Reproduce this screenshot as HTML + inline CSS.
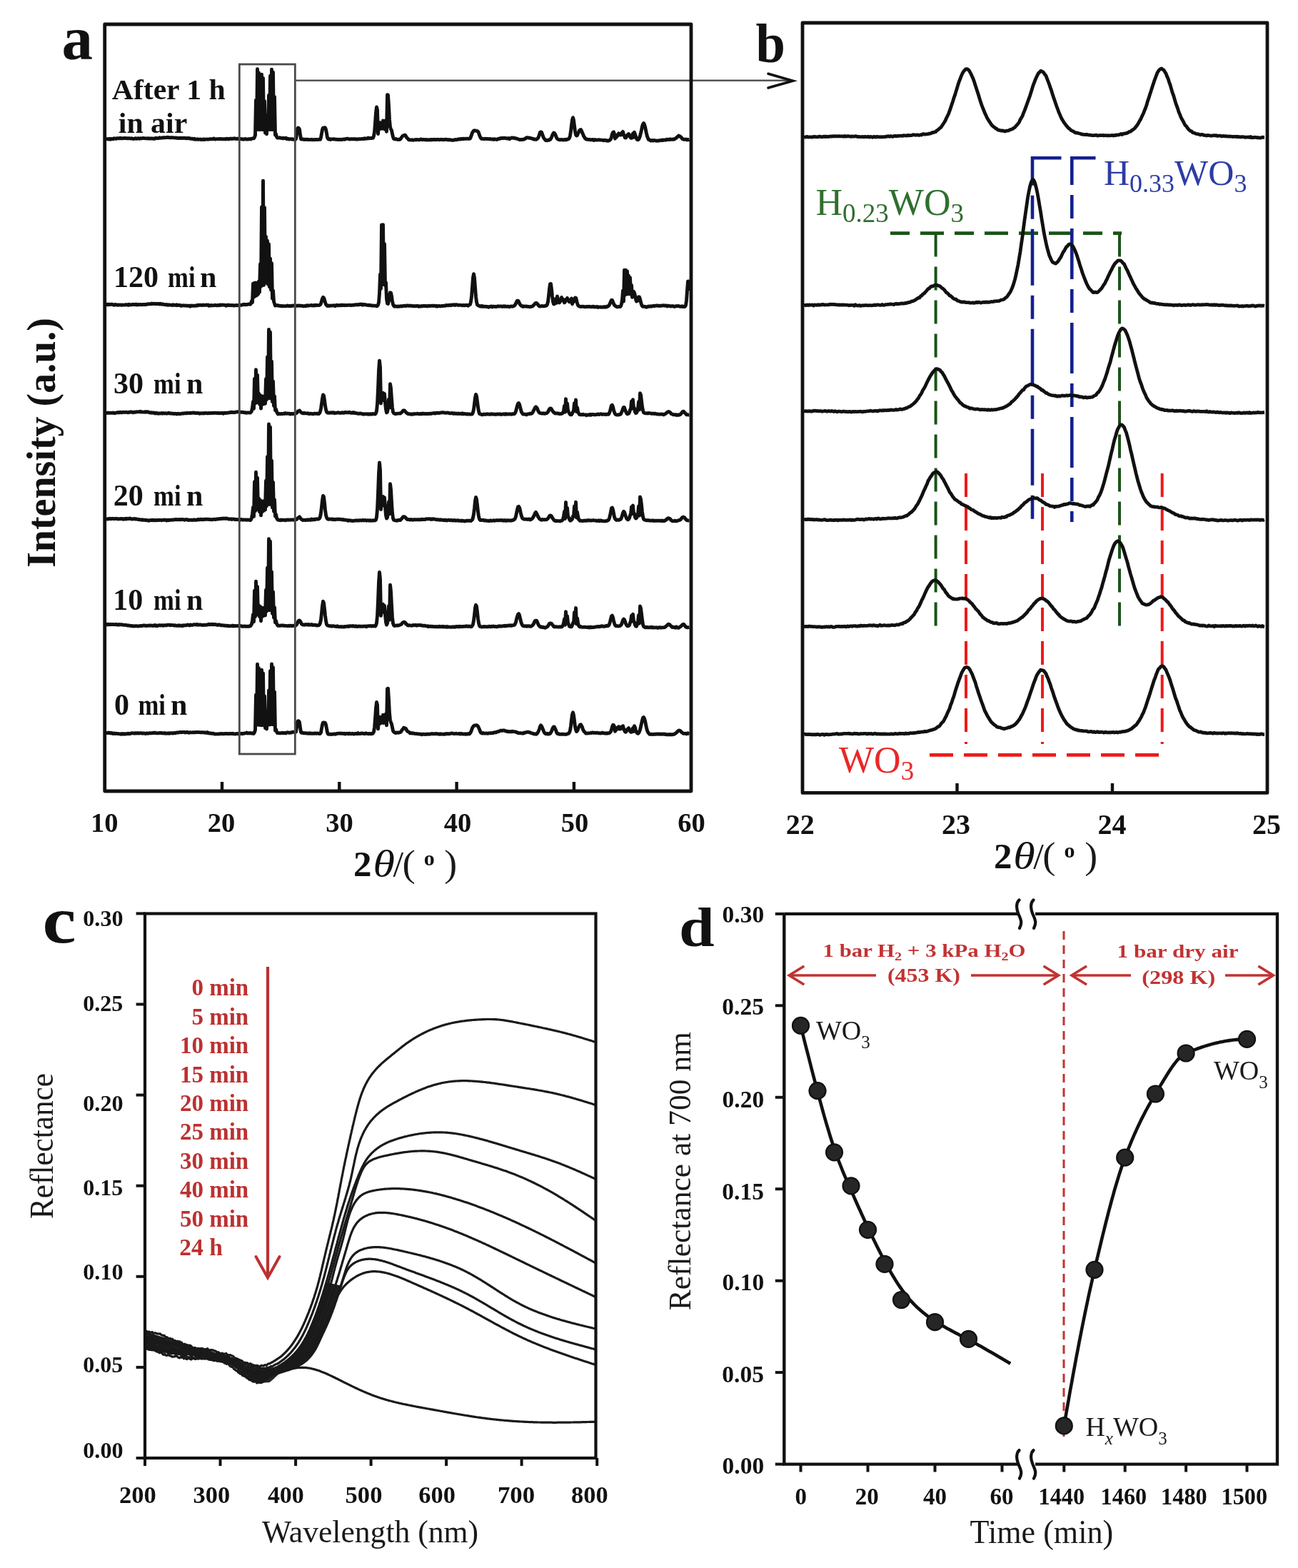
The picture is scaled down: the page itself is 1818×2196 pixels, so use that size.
<!DOCTYPE html>
<html><head><meta charset="utf-8"><title>Figure</title>
<style>
html,body{margin:0;padding:0;background:#fff;}
svg{display:block;}
.bs{font-family:"Liberation Serif","Times New Roman",serif;font-weight:bold;fill:#111;}
.rs{font-family:"Liberation Serif","Times New Roman",serif;font-weight:normal;fill:#1a1a1a;}
.is{font-family:"Liberation Serif","Times New Roman",serif;font-style:italic;fill:#111;}
.bis{font-family:"Liberation Serif","Times New Roman",serif;font-weight:bold;font-style:italic;fill:#111;}
</style></head><body>
<svg xmlns="http://www.w3.org/2000/svg" width="1818" height="2196" viewBox="0 0 1818 2196">
<rect width="1818" height="2196" fill="#fff"/>
<g fill="none" stroke="#111" stroke-width="4.9" stroke-linejoin="round">
<path d="M148.5 195.2 L149.5 194.7 L150.5 194.7 L151.5 194.6 L152.5 195 L153.5 194.2 L154.5 195.2 L155.5 194.5 L156.5 194.7 L157.5 194.4 L158.5 194.8 L159.5 193.8 L160.5 194.1 L161.5 194 L162.5 194.3 L163.5 193.7 L164.5 193.8 L165.5 193.6 L166.5 193.7 L167.5 193.8 L168.5 193.3 L169.5 193.9 L170.5 193.8 L171.5 193.7 L172.5 193.8 L173.5 193.4 L174.5 193.6 L175.5 193.5 L176.5 193.7 L177.5 193.9 L178.5 193.7 L179.5 193.8 L180.5 193.8 L181.5 193.8 L182.5 193.9 L183.5 194.1 L184.5 193.8 L185.5 194.2 L186.5 194.5 L187.5 194.3 L188.5 194 L189.5 193.8 L190.5 193.8 L191.5 194.4 L192.5 193.9 L193.5 193.7 L194.5 193.9 L195.5 194.3 L196.5 193.8 L197.5 193.9 L198.5 193.8 L199.5 193.6 L200.5 193.4 L201.5 193.6 L202.5 193.6 L203.5 193.8 L204.5 193.9 L205.5 193.9 L206.5 193.8 L207.5 194 L208.5 193.6 L209.5 194.1 L210.5 194 L211.5 193.8 L212.5 194 L213.5 193.9 L214.5 194.2 L215.5 194.3 L216.5 194.4 L217.5 193.4 L218.5 193.4 L219.5 193.5 L220.5 193.6 L221.5 193.7 L222.5 193.5 L223.5 192.8 L224.5 193.1 L225.5 193.3 L226.5 193 L227.5 193.1 L228.5 192.7 L229.5 192.7 L230.5 192.7 L231.5 192.7 L232.5 192.6 L233.5 192.5 L234.5 192.3 L235.5 192.6 L236.5 192.5 L237.5 192.8 L238.5 192.9 L239.5 192.7 L240.5 192.6 L241.5 192.6 L242.5 192.9 L243.5 192.9 L244.5 192.9 L245.5 193.1 L246.5 193 L247.5 193.4 L248.5 193.1 L249.5 193.6 L250.5 193.4 L251.5 193.5 L252.5 193.1 L253.5 193.5 L254.5 193.6 L255.5 193.2 L256.5 193.4 L257.5 193.5 L258.5 193.2 L259.5 193.6 L260.5 193.8 L261.5 193.4 L262.5 193.8 L263.5 193.4 L264.5 193.8 L265.5 193.5 L266.5 194.2 L267.5 194.2 L268.5 194.2 L269.5 194.1 L270.5 194.7 L271.5 195 L272.5 194.2 L273.5 195.1 L274.5 195.3 L275.5 195.1 L276.5 194.8 L277.5 195.4 L278.5 195.2 L279.5 195.1 L280.5 195 L281.5 195.5 L282.5 195.6 L283.5 195.2 L284.5 195.5 L285.5 195 L286.5 195.5 L287.5 195.2 L288.5 195.1 L289.5 195 L290.5 195.2 L291.5 195.1 L292.5 195 L293.5 194.8 L294.5 194.7 L295.5 194.8 L296.5 194.7 L297.5 194.8 L298.5 194.5 L299.5 193.9 L300.5 194.8 L301.5 195.1 L302.5 194.7 L303.5 194.6 L304.5 194.6 L305.5 194.6 L306.5 194.7 L307.5 194.4 L308.5 194.6 L309.5 194.5 L310.5 194.8 L311.5 194.6 L312.5 194.8 L313.5 194.6 L314.5 194.9 L315.5 194.7 L316.5 195.1 L317.5 194.1 L318.5 194.3 L319.5 194.7 L320.5 195 L321.5 194.3 L322.5 194.3 L323.5 194.2 L324.5 194.5 L325.5 194.1 L326.5 194.3 L327.5 194 L328.5 193.8 L329.5 194.2 L330.5 194.3 L331.5 194.5 L332.5 194.2 L333.5 194.1 L334.5 194.5 L335.5 194.5 L336.5 194.5 L337.5 194.5 L338.5 194.9 L339.5 194.8 L340.5 195.2 L341.5 195 L342.5 195 L343.5 194.4 L344.5 195 L345.5 194.9 L346.5 195 L347.5 195 L348.5 194.6 L349.5 194.8 L350.5 194.4 L351.5 195 L352.5 194.1 L353.5 193.9 L354.5 193.8 L355.5 193.9 L356.5 192.1 L357.5 189.4 L358.5 140.1 L359.5 181.4 L360.5 96.7 L361.5 181.5 L362.5 102 L363.5 181.8 L364.5 105 L365.5 181.4 L366.5 104.3 L367.5 181.6 L368.5 109.4 L369.5 181.7 L370.5 141.4 L371.5 186.2 L372.5 161.3 L373.5 187.7 L374.5 164.1 L375.5 181.5 L376.5 133.4 L377.5 181.5 L378.5 106.3 L379.5 181.5 L380.5 97.1 L381.5 181.8 L382.5 101.3 L383.5 181 L384.5 135.5 L385.5 189.1 L386.5 187.8 L387.5 191.7 L388.5 193 L389.5 193.1 L390.5 193.1 L391.5 192.8 L392.5 193 L393.5 193.4 L394.5 193.5 L395.5 193.3 L396.5 193.9 L397.5 193.3 L398.5 193.6 L399.5 193.8 L400.5 193.3 L401.5 194.6 L402.5 194.4 L403.5 194.1 L404.5 195 L405.5 194.8 L406.5 194.9 L407.5 194.7 L408.5 195 L409.5 194.7 L410.5 195.3 L411.5 195.1 L412.5 195.2 L413.5 195.5 L414.5 194.7 L415.5 188.4 L416.5 181 L417.5 179.1 L418.5 179.5 L419.5 181.3 L420.5 188.5 L421.5 194.8 L422.5 195 L423.5 195 L424.5 194.9 L425.5 195.5 L426.5 195.2 L427.5 195.6 L428.5 195.1 L429.5 195.2 L430.5 195.4 L431.5 195.7 L432.5 195.5 L433.5 195.6 L434.5 195.6 L435.5 195.6 L436.5 195.3 L437.5 195.7 L438.5 195.6 L439.5 195.6 L440.5 195.8 L441.5 195.4 L442.5 195.5 L443.5 195.4 L444.5 195.6 L445.5 195.6 L446.5 195.1 L447.5 195.4 L448.5 195.4 L449.5 192.4 L450.5 186.9 L451.5 181.4 L452.5 179.1 L453.5 179.2 L454.5 178.7 L455.5 178.9 L456.5 181.5 L457.5 186.6 L458.5 192.6 L459.5 194.5 L460.5 195 L461.5 194.5 L462.5 195.5 L463.5 195 L464.5 195 L465.5 194.9 L466.5 194.8 L467.5 194.8 L468.5 195.1 L469.5 195 L470.5 195.3 L471.5 195.1 L472.5 195.5 L473.5 195.6 L474.5 195.2 L475.5 195.6 L476.5 195.3 L477.5 195.6 L478.5 195.4 L479.5 195.5 L480.5 194.9 L481.5 195.1 L482.5 195.4 L483.5 194.8 L484.5 194.4 L485.5 194.4 L486.5 194.2 L487.5 194.3 L488.5 194.7 L489.5 195.1 L490.5 194.6 L491.5 194.8 L492.5 194.7 L493.5 194.8 L494.5 194.7 L495.5 194.7 L496.5 194.9 L497.5 194.5 L498.5 195.1 L499.5 195.1 L500.5 194.8 L501.5 195 L502.5 194.6 L503.5 194.6 L504.5 194.8 L505.5 194.6 L506.5 194.5 L507.5 194.4 L508.5 194.3 L509.5 194.6 L510.5 193.8 L511.5 194.3 L512.5 194 L513.5 194.1 L514.5 194 L515.5 193.1 L516.5 193.8 L517.5 193.7 L518.5 193.5 L519.5 193.3 L520.5 193.6 L521.5 193.2 L522.5 193.2 L523.5 190.7 L524.5 184.9 L525.5 172.4 L526.5 157.8 L527.5 150 L528.5 153.8 L529.5 187.5 L530.5 174.8 L531.5 181 L532.5 171.8 L533.5 180.1 L534.5 174.5 L535.5 180.2 L536.5 168.9 L537.5 180.3 L538.5 176.1 L539.5 181.2 L540.5 168.4 L541.5 184.3 L542.5 132.7 L543.5 133.1 L544.5 148.2 L545.5 167.5 L546.5 177.8 L547.5 181.1 L548.5 182.5 L549.5 187.4 L550.5 191.9 L551.5 194.4 L552.5 194.7 L553.5 195 L554.5 194.5 L555.5 195 L556.5 195.3 L557.5 195.6 L558.5 195.2 L559.5 195.6 L560.5 195.1 L561.5 193.9 L562.5 192.3 L563.5 191.1 L564.5 190.1 L565.5 189.7 L566.5 189.3 L567.5 189.2 L568.5 190.7 L569.5 192.6 L570.5 193.4 L571.5 194.4 L572.5 195.9 L573.5 195.8 L574.5 195.8 L575.5 196.1 L576.5 196 L577.5 195.8 L578.5 196.2 L579.5 196.1 L580.5 195.9 L581.5 195.6 L582.5 195.9 L583.5 195.5 L584.5 195.6 L585.5 195.7 L586.5 195.6 L587.5 195.8 L588.5 195.5 L589.5 195 L590.5 195.1 L591.5 195.8 L592.5 195.4 L593.5 195.6 L594.5 195.4 L595.5 195.9 L596.5 195.5 L597.5 196 L598.5 195.6 L599.5 196 L600.5 195.9 L601.5 195.6 L602.5 196 L603.5 195.5 L604.5 195.5 L605.5 195.9 L606.5 195.5 L607.5 195.5 L608.5 195.5 L609.5 195.3 L610.5 195.7 L611.5 195.6 L612.5 195.4 L613.5 195.3 L614.5 195.5 L615.5 195.8 L616.5 195.6 L617.5 195.2 L618.5 195.6 L619.5 195.4 L620.5 195.4 L621.5 195.9 L622.5 195.4 L623.5 195.5 L624.5 195.2 L625.5 195.4 L626.5 195.9 L627.5 195.6 L628.5 196 L629.5 195.6 L630.5 195.7 L631.5 196.1 L632.5 196.3 L633.5 196.1 L634.5 196.2 L635.5 196.3 L636.5 196 L637.5 195.5 L638.5 195.6 L639.5 195.7 L640.5 195.3 L641.5 195.4 L642.5 194.8 L643.5 194.9 L644.5 195.1 L645.5 194.3 L646.5 194.5 L647.5 194.7 L648.5 194.2 L649.5 194.5 L650.5 194.3 L651.5 194.4 L652.5 194.3 L653.5 194.4 L654.5 194.2 L655.5 194.4 L656.5 194.2 L657.5 194.3 L658.5 193.9 L659.5 191.7 L660.5 188.9 L661.5 185.9 L662.5 184.4 L663.5 183.1 L664.5 182.8 L665.5 183.1 L666.5 183 L667.5 183.3 L668.5 183.6 L669.5 184.1 L670.5 186.1 L671.5 189.2 L672.5 191.8 L673.5 193.5 L674.5 194.4 L675.5 194.1 L676.5 194.4 L677.5 194.6 L678.5 194.7 L679.5 194.1 L680.5 194.3 L681.5 194.5 L682.5 194.4 L683.5 194.4 L684.5 194.8 L685.5 194.6 L686.5 194.4 L687.5 195 L688.5 195 L689.5 195 L690.5 194.8 L691.5 195.5 L692.5 194.8 L693.5 194.9 L694.5 195.2 L695.5 195.5 L696.5 195.3 L697.5 194.5 L698.5 194.5 L699.5 193.9 L700.5 194.3 L701.5 193.4 L702.5 193.5 L703.5 193.7 L704.5 193.2 L705.5 193.6 L706.5 193.1 L707.5 193.4 L708.5 193.7 L709.5 193.6 L710.5 194 L711.5 193.9 L712.5 193.4 L713.5 194.7 L714.5 193.8 L715.5 193.5 L716.5 193 L717.5 193.2 L718.5 193 L719.5 193.3 L720.5 193.3 L721.5 193.9 L722.5 193.7 L723.5 194.1 L724.5 194.5 L725.5 194.7 L726.5 195.1 L727.5 195.6 L728.5 195.7 L729.5 195.5 L730.5 195.3 L731.5 195.5 L732.5 195.5 L733.5 194.9 L734.5 195 L735.5 193.9 L736.5 193.8 L737.5 192.7 L738.5 192.9 L739.5 192.8 L740.5 193 L741.5 193.3 L742.5 193.1 L743.5 193.7 L744.5 193.9 L745.5 194.3 L746.5 194.3 L747.5 195.1 L748.5 194.8 L749.5 195.4 L750.5 195.2 L751.5 195.2 L752.5 194.4 L753.5 193.3 L754.5 191.3 L755.5 188.3 L756.5 185.4 L757.5 184.8 L758.5 185.2 L759.5 187.7 L760.5 190.7 L761.5 193 L762.5 194.5 L763.5 195.7 L764.5 196.6 L765.5 196.2 L766.5 196.7 L767.5 196.3 L768.5 196.4 L769.5 195.5 L770.5 195.7 L771.5 194.2 L772.5 192.4 L773.5 189.8 L774.5 187.5 L775.5 186 L776.5 186.5 L777.5 187.7 L778.5 190.2 L779.5 192.9 L780.5 194.3 L781.5 195.1 L782.5 195.5 L783.5 195.8 L784.5 195.6 L785.5 195.9 L786.5 195.5 L787.5 195.6 L788.5 196 L789.5 196 L790.5 195.4 L791.5 195.9 L792.5 195.3 L793.5 195.7 L794.5 195 L795.5 195 L796.5 194.6 L797.5 193.2 L798.5 190.2 L799.5 183.7 L800.5 175.4 L801.5 167.8 L802.5 164.7 L803.5 168.4 L804.5 176.4 L805.5 183.9 L806.5 188.7 L807.5 190.1 L808.5 189.7 L809.5 187 L810.5 185 L811.5 182.7 L812.5 181.8 L813.5 181.5 L814.5 183 L815.5 185.8 L816.5 187.8 L817.5 190.6 L818.5 192 L819.5 193.8 L820.5 194.6 L821.5 195.2 L822.5 195 L823.5 195.4 L824.5 195.5 L825.5 195.5 L826.5 195.7 L827.5 195.8 L828.5 195.8 L829.5 195.5 L830.5 195.5 L831.5 196.5 L832.5 196.3 L833.5 195.5 L834.5 196 L835.5 196.1 L836.5 196.1 L837.5 196 L838.5 195.7 L839.5 196 L840.5 195.9 L841.5 196.1 L842.5 196.1 L843.5 196.2 L844.5 196.6 L845.5 196.7 L846.5 196.2 L847.5 196.4 L848.5 196.5 L849.5 197 L850.5 196.8 L851.5 197.3 L852.5 196.8 L853.5 196.8 L854.5 195.8 L855.5 194.9 L856.5 191.6 L857.5 187.7 L858.5 185.4 L859.5 184.9 L860.5 187.8 L861.5 194.2 L862.5 192.3 L863.5 191.9 L864.5 189 L865.5 189.9 L866.5 186.8 L867.5 188.8 L868.5 188.9 L869.5 189.1 L870.5 186.4 L871.5 188.4 L872.5 184.3 L873.5 188.4 L874.5 190.6 L875.5 192.9 L876.5 193.1 L877.5 191.7 L878.5 189 L879.5 188.6 L880.5 187.5 L881.5 188.7 L882.5 191.6 L883.5 193.2 L884.5 193.4 L885.5 190.8 L886.5 187 L887.5 192.3 L888.5 185.2 L889.5 188 L890.5 191 L891.5 194 L892.5 195.6 L893.5 195.7 L894.5 195.2 L895.5 193.3 L896.5 190.5 L897.5 186.3 L898.5 182 L899.5 177 L900.5 174 L901.5 172.5 L902.5 174.3 L903.5 177.6 L904.5 182.3 L905.5 187 L906.5 190.9 L907.5 193.5 L908.5 195.6 L909.5 195.7 L910.5 196.2 L911.5 197.1 L912.5 196.9 L913.5 196.4 L914.5 197 L915.5 197 L916.5 196.4 L917.5 196.9 L918.5 197 L919.5 197.2 L920.5 197.2 L921.5 197 L922.5 197.2 L923.5 196.8 L924.5 196.5 L925.5 196.4 L926.5 196.7 L927.5 196 L928.5 196.5 L929.5 196 L930.5 196 L931.5 196.1 L932.5 196.2 L933.5 195.3 L934.5 195.4 L935.5 195.6 L936.5 195.3 L937.5 195.6 L938.5 194.8 L939.5 195.4 L940.5 195.3 L941.5 195.2 L942.5 195.4 L943.5 194.7 L944.5 195 L945.5 194.2 L946.5 193.8 L947.5 192.7 L948.5 192 L949.5 191.2 L950.5 190.1 L951.5 190.5 L952.5 191 L953.5 191.9 L954.5 192.7 L955.5 194.3 L956.5 194.6 L957.5 195.4 L958.5 195.1 L959.5 195.1 L960.5 195.4 L961.5 195.2 L962.5 196 L963.5 195.4 L964.5 195.7 L965.5 195.3"/>
<path d="M148.5 426.6 L149.5 426.6 L150.5 426 L151.5 426.9 L152.5 426.1 L153.5 426.3 L154.5 426.6 L155.5 426.2 L156.5 426.3 L157.5 426.3 L158.5 426.7 L159.5 427.2 L160.5 426.7 L161.5 426.5 L162.5 427 L163.5 426.8 L164.5 427 L165.5 427.3 L166.5 426.9 L167.5 427.1 L168.5 427 L169.5 427.2 L170.5 427.3 L171.5 427 L172.5 427.1 L173.5 427.1 L174.5 427 L175.5 426.8 L176.5 426.7 L177.5 426.9 L178.5 426.8 L179.5 427.4 L180.5 426.2 L181.5 426.7 L182.5 426.8 L183.5 427 L184.5 426.7 L185.5 426.3 L186.5 426.5 L187.5 426.7 L188.5 426.4 L189.5 426.7 L190.5 426.1 L191.5 427 L192.5 426.9 L193.5 426.5 L194.5 426.7 L195.5 426.6 L196.5 426.4 L197.5 426.6 L198.5 426.8 L199.5 426.5 L200.5 426.4 L201.5 426.5 L202.5 426.5 L203.5 426.7 L204.5 426.1 L205.5 426.4 L206.5 426.2 L207.5 425.6 L208.5 425.9 L209.5 425.8 L210.5 425.8 L211.5 425.8 L212.5 425.1 L213.5 425.6 L214.5 425.3 L215.5 425.1 L216.5 425.6 L217.5 425.6 L218.5 425.3 L219.5 425.7 L220.5 425.4 L221.5 425.6 L222.5 425.4 L223.5 426.1 L224.5 425.2 L225.5 425.9 L226.5 426.2 L227.5 425.7 L228.5 426.2 L229.5 426.4 L230.5 426.7 L231.5 426.9 L232.5 426.6 L233.5 426.4 L234.5 427.2 L235.5 427.2 L236.5 426.8 L237.5 427.1 L238.5 427.1 L239.5 427.2 L240.5 427.1 L241.5 427.5 L242.5 426.7 L243.5 427.4 L244.5 427.3 L245.5 427.2 L246.5 427.5 L247.5 426.7 L248.5 427.6 L249.5 427.5 L250.5 427.2 L251.5 427.6 L252.5 427.5 L253.5 428.3 L254.5 428.2 L255.5 428 L256.5 427.8 L257.5 427.9 L258.5 428 L259.5 428.1 L260.5 428 L261.5 428.2 L262.5 428.3 L263.5 428.3 L264.5 428.3 L265.5 428.2 L266.5 429.1 L267.5 428 L268.5 428.1 L269.5 428.4 L270.5 428.1 L271.5 428.3 L272.5 428.3 L273.5 428.3 L274.5 428.1 L275.5 427.5 L276.5 428 L277.5 427.2 L278.5 427.5 L279.5 427.3 L280.5 427.2 L281.5 427.5 L282.5 427.3 L283.5 427.6 L284.5 426.9 L285.5 427.5 L286.5 427.4 L287.5 427.4 L288.5 427 L289.5 427.4 L290.5 427.1 L291.5 427 L292.5 428.3 L293.5 427.8 L294.5 428 L295.5 427.5 L296.5 427.8 L297.5 427.8 L298.5 427.8 L299.5 427.6 L300.5 427.6 L301.5 427.1 L302.5 427.7 L303.5 427.6 L304.5 427.7 L305.5 427.4 L306.5 427.8 L307.5 427.2 L308.5 427 L309.5 427.5 L310.5 427.1 L311.5 426.9 L312.5 427.2 L313.5 427.4 L314.5 427.3 L315.5 427.4 L316.5 428.3 L317.5 427.5 L318.5 427.7 L319.5 426.9 L320.5 427.5 L321.5 427.7 L322.5 427.5 L323.5 427.4 L324.5 427.7 L325.5 427.6 L326.5 427.5 L327.5 428 L328.5 428 L329.5 427.7 L330.5 427.5 L331.5 427.7 L332.5 427.7 L333.5 427.6 L334.5 427 L335.5 427.2 L336.5 427.3 L337.5 427.2 L338.5 427.2 L339.5 427 L340.5 426.4 L341.5 426.5 L342.5 426.2 L343.5 426.9 L344.5 426.4 L345.5 426.5 L346.5 426.5 L347.5 426.2 L348.5 425.9 L349.5 426.1 L350.5 426.2 L351.5 424.9 L352.5 421.5 L353.5 423.5 L354.5 397.1 L355.5 416.2 L356.5 396.1 L357.5 414.8 L358.5 396 L359.5 413.8 L360.5 396.4 L361.5 412.1 L362.5 393.9 L363.5 409.1 L364.5 369.8 L365.5 401.3 L366.5 290 L367.5 399.8 L368.5 253.1 L369.5 399.4 L370.5 290.6 L371.5 396.3 L372.5 331.5 L373.5 396.5 L374.5 337.3 L375.5 398.4 L376.5 341.9 L377.5 402 L378.5 361.9 L379.5 406.1 L380.5 368.4 L381.5 418.2 L382.5 407 L383.5 422.3 L384.5 425.2 L385.5 428.1 L386.5 427.4 L387.5 427.9 L388.5 427.7 L389.5 427.7 L390.5 428.3 L391.5 428.3 L392.5 428.4 L393.5 428.7 L394.5 428.4 L395.5 428.7 L396.5 428.8 L397.5 428.6 L398.5 428.6 L399.5 428.8 L400.5 428.6 L401.5 428.6 L402.5 427.9 L403.5 428.5 L404.5 428.5 L405.5 428.4 L406.5 428.4 L407.5 428.8 L408.5 428.3 L409.5 428.4 L410.5 428 L411.5 428 L412.5 428.1 L413.5 428 L414.5 428.3 L415.5 428.1 L416.5 428.3 L417.5 428 L418.5 428 L419.5 428.2 L420.5 428.1 L421.5 428.3 L422.5 428.3 L423.5 428.4 L424.5 428.7 L425.5 428.8 L426.5 428.6 L427.5 428.3 L428.5 428.7 L429.5 427.9 L430.5 427.7 L431.5 428.2 L432.5 428 L433.5 427.9 L434.5 427.9 L435.5 427.4 L436.5 427.5 L437.5 428 L438.5 427.9 L439.5 427.5 L440.5 428.1 L441.5 427.3 L442.5 427.5 L443.5 427.7 L444.5 427.4 L445.5 427.6 L446.5 427.6 L447.5 427.4 L448.5 426.9 L449.5 425.1 L450.5 421.6 L451.5 418.2 L452.5 416.4 L453.5 417 L454.5 419.8 L455.5 423.6 L456.5 426.4 L457.5 427.5 L458.5 428.4 L459.5 428 L460.5 428 L461.5 428.5 L462.5 428.1 L463.5 428 L464.5 428.1 L465.5 428 L466.5 428.1 L467.5 427.6 L468.5 427.8 L469.5 428.6 L470.5 427.8 L471.5 427.2 L472.5 427.8 L473.5 427.7 L474.5 427.9 L475.5 427.5 L476.5 427.3 L477.5 427.8 L478.5 427.6 L479.5 427 L480.5 427.6 L481.5 427.4 L482.5 427.7 L483.5 427.4 L484.5 427.6 L485.5 427.5 L486.5 427.6 L487.5 427.4 L488.5 427.3 L489.5 427.4 L490.5 427.5 L491.5 427.3 L492.5 427.6 L493.5 427.2 L494.5 427.2 L495.5 427.5 L496.5 426.9 L497.5 426.9 L498.5 426.6 L499.5 426.6 L500.5 427 L501.5 426.6 L502.5 426.8 L503.5 426.2 L504.5 426.1 L505.5 426.5 L506.5 426.1 L507.5 427.2 L508.5 426.9 L509.5 426.3 L510.5 426.7 L511.5 426.7 L512.5 427 L513.5 427 L514.5 427.4 L515.5 427.6 L516.5 427.3 L517.5 427.2 L518.5 427.7 L519.5 427.7 L520.5 428.1 L521.5 427.9 L522.5 428.2 L523.5 428.1 L524.5 428.1 L525.5 428.1 L526.5 428.4 L527.5 428.9 L528.5 428.3 L529.5 427.2 L530.5 423.4 L531.5 411 L532.5 384.1 L533.5 404.4 L534.5 315 L535.5 398.3 L536.5 314.8 L537.5 398.6 L538.5 341.6 L539.5 399.7 L540.5 395.7 L541.5 418.4 L542.5 425.2 L543.5 425.4 L544.5 421.2 L545.5 414.9 L546.5 409.8 L547.5 410.1 L548.5 414.8 L549.5 422 L550.5 426.3 L551.5 428.3 L552.5 429.3 L553.5 428.7 L554.5 429.1 L555.5 429.1 L556.5 429.4 L557.5 429 L558.5 429.4 L559.5 428.9 L560.5 429.1 L561.5 428.7 L562.5 429 L563.5 428.6 L564.5 428.7 L565.5 428.4 L566.5 428.2 L567.5 428.3 L568.5 428.6 L569.5 428 L570.5 427.9 L571.5 428.2 L572.5 428.4 L573.5 428 L574.5 428.1 L575.5 428.4 L576.5 428.3 L577.5 428.5 L578.5 428.8 L579.5 428.5 L580.5 428.6 L581.5 428.8 L582.5 428.7 L583.5 428.5 L584.5 428.5 L585.5 428.5 L586.5 429.3 L587.5 428.8 L588.5 429 L589.5 429 L590.5 428.5 L591.5 428.9 L592.5 428.6 L593.5 428.2 L594.5 428.6 L595.5 428.3 L596.5 428.5 L597.5 428.6 L598.5 429 L599.5 428.3 L600.5 428.4 L601.5 428.5 L602.5 428.5 L603.5 428.4 L604.5 428.2 L605.5 428.2 L606.5 428.5 L607.5 428.2 L608.5 428.4 L609.5 428.3 L610.5 428.9 L611.5 428.3 L612.5 429.2 L613.5 428.6 L614.5 428.5 L615.5 428.4 L616.5 428.9 L617.5 428.9 L618.5 428.4 L619.5 428.6 L620.5 428.4 L621.5 428.3 L622.5 428.3 L623.5 428.4 L624.5 427.6 L625.5 427.4 L626.5 427.9 L627.5 427.7 L628.5 427.8 L629.5 427.1 L630.5 427.2 L631.5 427.7 L632.5 426.9 L633.5 427.3 L634.5 426.9 L635.5 427 L636.5 426.7 L637.5 427.4 L638.5 426.6 L639.5 426.8 L640.5 426.9 L641.5 427.5 L642.5 427.3 L643.5 427.4 L644.5 427.3 L645.5 427.4 L646.5 427.5 L647.5 427.8 L648.5 427.6 L649.5 427.2 L650.5 427.9 L651.5 427.6 L652.5 427.3 L653.5 427.6 L654.5 427.4 L655.5 428.2 L656.5 427.5 L657.5 426.9 L658.5 426.4 L659.5 422.7 L660.5 415.4 L661.5 402.5 L662.5 389 L663.5 383.7 L664.5 389.3 L665.5 402.4 L666.5 415.2 L667.5 422.8 L668.5 426.8 L669.5 427.7 L670.5 428.1 L671.5 428.7 L672.5 429.1 L673.5 428.6 L674.5 429.3 L675.5 428.5 L676.5 429.3 L677.5 429.1 L678.5 429.3 L679.5 429.2 L680.5 429.3 L681.5 429.5 L682.5 429.5 L683.5 429.7 L684.5 430.2 L685.5 429.5 L686.5 429.6 L687.5 429.2 L688.5 428.9 L689.5 429.9 L690.5 429.1 L691.5 429.2 L692.5 429.3 L693.5 429.5 L694.5 429.3 L695.5 429.6 L696.5 429.1 L697.5 428.6 L698.5 429.1 L699.5 429.1 L700.5 428.9 L701.5 429 L702.5 428.9 L703.5 429.5 L704.5 429 L705.5 428.8 L706.5 429.3 L707.5 428.8 L708.5 429.4 L709.5 429.4 L710.5 429.1 L711.5 429.2 L712.5 429.2 L713.5 429.7 L714.5 429.4 L715.5 429 L716.5 429 L717.5 429.2 L718.5 429.1 L719.5 428.6 L720.5 428.2 L721.5 426.7 L722.5 425.1 L723.5 422.7 L724.5 421.1 L725.5 421.1 L726.5 422.3 L727.5 424.8 L728.5 426.6 L729.5 427.7 L730.5 428.5 L731.5 428.6 L732.5 429.5 L733.5 428.8 L734.5 429.1 L735.5 429.1 L736.5 428.9 L737.5 429.2 L738.5 429.2 L739.5 429.4 L740.5 429.5 L741.5 429.7 L742.5 429.7 L743.5 429.4 L744.5 429.3 L745.5 429.1 L746.5 428.4 L747.5 427.2 L748.5 426.4 L749.5 425 L750.5 424.4 L751.5 424.5 L752.5 425.6 L753.5 426.6 L754.5 428.2 L755.5 428.8 L756.5 429 L757.5 428.8 L758.5 428.5 L759.5 428.7 L760.5 428.6 L761.5 428.7 L762.5 428.7 L763.5 428.3 L764.5 428.3 L765.5 428 L766.5 426.5 L767.5 422.4 L768.5 414.3 L769.5 404.7 L770.5 397.6 L771.5 397.4 L772.5 405.1 L773.5 414.7 L774.5 422.3 L775.5 425.9 L776.5 425.8 L777.5 422.9 L778.5 418.5 L779.5 424.4 L780.5 414.9 L781.5 421 L782.5 422 L783.5 423.9 L784.5 422.5 L785.5 419.4 L786.5 416.4 L787.5 419.4 L788.5 419 L789.5 421.9 L790.5 423.9 L791.5 422.7 L792.5 419.4 L793.5 419.7 L794.5 417.4 L795.5 419.5 L796.5 421.7 L797.5 422.7 L798.5 420.4 L799.5 422.3 L800.5 417.9 L801.5 425.8 L802.5 422.7 L803.5 422.7 L804.5 419.4 L805.5 417 L806.5 417.1 L807.5 420.3 L808.5 424.7 L809.5 427.5 L810.5 428.5 L811.5 429.1 L812.5 429.2 L813.5 429.6 L814.5 429.3 L815.5 429.1 L816.5 429.3 L817.5 429.4 L818.5 429.7 L819.5 429.7 L820.5 429.7 L821.5 429.5 L822.5 429.3 L823.5 429.6 L824.5 429.4 L825.5 429.3 L826.5 429.6 L827.5 429.6 L828.5 429.8 L829.5 429.4 L830.5 429.2 L831.5 429.8 L832.5 429.5 L833.5 430.1 L834.5 429.6 L835.5 429.8 L836.5 429.5 L837.5 430.5 L838.5 430 L839.5 430.1 L840.5 430 L841.5 430 L842.5 430.3 L843.5 430.1 L844.5 430 L845.5 430.3 L846.5 429.6 L847.5 430.1 L848.5 430.2 L849.5 429.3 L850.5 429.6 L851.5 429 L852.5 428.1 L853.5 426.9 L854.5 424.8 L855.5 422.2 L856.5 420.3 L857.5 420.5 L858.5 422.8 L859.5 425.4 L860.5 427.4 L861.5 428.1 L862.5 429.1 L863.5 429.3 L864.5 430 L865.5 429.6 L866.5 429.5 L867.5 429.6 L868.5 429.6 L869.5 428.7 L870.5 425.8 L871.5 419.4 L872.5 406.9 L873.5 422 L874.5 378.1 L875.5 413.3 L876.5 378.1 L877.5 412.1 L878.5 379.7 L879.5 411.9 L880.5 386 L881.5 411.7 L882.5 388.6 L883.5 412.2 L884.5 399.3 L885.5 416.3 L886.5 409.2 L887.5 408.4 L888.5 410 L889.5 414 L890.5 419.4 L891.5 422 L892.5 421.6 L893.5 418.7 L894.5 415.8 L895.5 416 L896.5 418.9 L897.5 423.3 L898.5 426.6 L899.5 428.7 L900.5 429.3 L901.5 429.3 L902.5 429.3 L903.5 429.5 L904.5 429.7 L905.5 430.2 L906.5 429.8 L907.5 429.3 L908.5 428.9 L909.5 429.4 L910.5 429.2 L911.5 428.8 L912.5 429.2 L913.5 428.9 L914.5 428.6 L915.5 428.1 L916.5 428.7 L917.5 428.4 L918.5 428.2 L919.5 428 L920.5 428 L921.5 428.4 L922.5 428.1 L923.5 428.5 L924.5 428.2 L925.5 428.1 L926.5 428.2 L927.5 428.1 L928.5 427.7 L929.5 427.9 L930.5 428.2 L931.5 428 L932.5 428.2 L933.5 428 L934.5 428.9 L935.5 428.2 L936.5 428.3 L937.5 428.4 L938.5 428.9 L939.5 429 L940.5 428.6 L941.5 428.9 L942.5 428.6 L943.5 428.8 L944.5 429.5 L945.5 429.1 L946.5 428.8 L947.5 428.5 L948.5 428.8 L949.5 428.6 L950.5 428.4 L951.5 429.1 L952.5 429.2 L953.5 429.1 L954.5 429.4 L955.5 428.8 L956.5 429.6 L957.5 429.1 L958.5 429.5 L959.5 429.3 L960.5 427.5 L961.5 420.8 L962.5 407 L963.5 394 L964.5 393.9 L965.5 407.3"/>
<path d="M148.5 578.7 L149.5 578.4 L150.5 578.4 L151.5 577.9 L152.5 578.4 L153.5 578.4 L154.5 578.4 L155.5 578.3 L156.5 578.4 L157.5 578.3 L158.5 578 L159.5 578.5 L160.5 578.4 L161.5 578.6 L162.5 578.1 L163.5 577.9 L164.5 577.8 L165.5 577.4 L166.5 578 L167.5 577.4 L168.5 577.3 L169.5 577.5 L170.5 577.9 L171.5 577.5 L172.5 577.2 L173.5 577.2 L174.5 577.6 L175.5 577.4 L176.5 577.2 L177.5 577.4 L178.5 577.6 L179.5 577.9 L180.5 577.1 L181.5 577.3 L182.5 577.2 L183.5 576.8 L184.5 577.2 L185.5 577.2 L186.5 577.7 L187.5 577.3 L188.5 576.9 L189.5 577.4 L190.5 577.1 L191.5 576.7 L192.5 576.9 L193.5 576.9 L194.5 576.7 L195.5 576.9 L196.5 576.3 L197.5 576.8 L198.5 577.1 L199.5 577 L200.5 577.1 L201.5 577.1 L202.5 577.2 L203.5 576.6 L204.5 577.2 L205.5 576.6 L206.5 577 L207.5 576.8 L208.5 577.6 L209.5 577.8 L210.5 577.6 L211.5 578.2 L212.5 577.7 L213.5 578.1 L214.5 578.2 L215.5 578 L216.5 578.5 L217.5 579 L218.5 578.3 L219.5 578.9 L220.5 578.7 L221.5 579.2 L222.5 578.9 L223.5 579 L224.5 579 L225.5 578.9 L226.5 578.5 L227.5 579.2 L228.5 578.5 L229.5 578.9 L230.5 579 L231.5 578.7 L232.5 578.9 L233.5 579.2 L234.5 578.9 L235.5 578.8 L236.5 578.3 L237.5 578.8 L238.5 579 L239.5 579 L240.5 579 L241.5 579.4 L242.5 579.2 L243.5 579.3 L244.5 579.6 L245.5 579.2 L246.5 579.4 L247.5 580 L248.5 579.7 L249.5 579.2 L250.5 579.4 L251.5 579.6 L252.5 579.7 L253.5 579.3 L254.5 579.1 L255.5 579 L256.5 579.2 L257.5 579 L258.5 578.7 L259.5 578.7 L260.5 578.6 L261.5 578.8 L262.5 578.3 L263.5 578.6 L264.5 578.6 L265.5 578.5 L266.5 578.1 L267.5 578.6 L268.5 578.1 L269.5 578.4 L270.5 578.1 L271.5 577.9 L272.5 578.5 L273.5 578.5 L274.5 578.5 L275.5 578.6 L276.5 578.5 L277.5 578.5 L278.5 578.7 L279.5 579.2 L280.5 579 L281.5 578.7 L282.5 579 L283.5 578.7 L284.5 578.7 L285.5 579.1 L286.5 578.7 L287.5 578.4 L288.5 578.5 L289.5 578.7 L290.5 578.7 L291.5 578.9 L292.5 578.4 L293.5 578.7 L294.5 578.6 L295.5 578.4 L296.5 578.6 L297.5 578.5 L298.5 578.2 L299.5 578.6 L300.5 578.1 L301.5 578.4 L302.5 578.4 L303.5 578.5 L304.5 578.3 L305.5 578.5 L306.5 578.5 L307.5 578.8 L308.5 578.4 L309.5 578.6 L310.5 578.5 L311.5 578.3 L312.5 579.2 L313.5 578.5 L314.5 578.1 L315.5 578.8 L316.5 578.1 L317.5 578.4 L318.5 578.4 L319.5 578 L320.5 577.9 L321.5 577.8 L322.5 577.8 L323.5 577.3 L324.5 577.3 L325.5 577.5 L326.5 577.7 L327.5 577.5 L328.5 577.7 L329.5 577.4 L330.5 577 L331.5 577.1 L332.5 576.6 L333.5 576.9 L334.5 576.9 L335.5 577.3 L336.5 577.4 L337.5 577.2 L338.5 577.2 L339.5 577.1 L340.5 577.5 L341.5 577.7 L342.5 577.8 L343.5 577.6 L344.5 578.3 L345.5 578.2 L346.5 577.9 L347.5 577.9 L348.5 577.9 L349.5 578.1 L350.5 578.1 L351.5 577.3 L352.5 575.7 L353.5 570.8 L354.5 562.5 L355.5 572.2 L356.5 530.4 L357.5 564.9 L358.5 517.8 L359.5 563.8 L360.5 525.1 L361.5 563.9 L362.5 551 L363.5 566.1 L364.5 553.4 L365.5 572 L366.5 554.7 L367.5 566.6 L368.5 555.1 L369.5 565.7 L370.5 555.3 L371.5 565.2 L372.5 530.8 L373.5 559.8 L374.5 500 L375.5 557.8 L376.5 461.4 L377.5 557.9 L378.5 465.2 L379.5 558.2 L380.5 506.2 L381.5 562.6 L382.5 534 L383.5 568.5 L384.5 554.8 L385.5 574.7 L386.5 573 L387.5 576.7 L388.5 578.6 L389.5 580.1 L390.5 579.7 L391.5 579.5 L392.5 579.6 L393.5 579.7 L394.5 579.4 L395.5 579.7 L396.5 579.4 L397.5 579.2 L398.5 579.6 L399.5 578.6 L400.5 579 L401.5 579.3 L402.5 579 L403.5 579.2 L404.5 579.1 L405.5 579.2 L406.5 580 L407.5 579.5 L408.5 579.4 L409.5 579.7 L410.5 579.3 L411.5 579.6 L412.5 579.4 L413.5 579.6 L414.5 578.6 L415.5 578.5 L416.5 577.3 L417.5 575.8 L418.5 575.4 L419.5 574.9 L420.5 576.3 L421.5 577.2 L422.5 578.2 L423.5 578.5 L424.5 578.9 L425.5 578.3 L426.5 578.8 L427.5 578.7 L428.5 578.9 L429.5 578.9 L430.5 579.1 L431.5 578.8 L432.5 579.5 L433.5 579.7 L434.5 579.1 L435.5 579.3 L436.5 579.4 L437.5 579.7 L438.5 579.9 L439.5 579.2 L440.5 579.3 L441.5 579.2 L442.5 579.2 L443.5 579.1 L444.5 579.5 L445.5 579.1 L446.5 579.5 L447.5 578.7 L448.5 576.4 L449.5 572.2 L450.5 565.4 L451.5 558.2 L452.5 552.9 L453.5 553.9 L454.5 560.5 L455.5 568.2 L456.5 573.6 L457.5 577.1 L458.5 577.9 L459.5 578.3 L460.5 578 L461.5 578.2 L462.5 578.1 L463.5 577.6 L464.5 578.2 L465.5 577.7 L466.5 578.1 L467.5 577.8 L468.5 578.7 L469.5 578.3 L470.5 578.4 L471.5 578.4 L472.5 577.9 L473.5 577.6 L474.5 578.1 L475.5 578.4 L476.5 578.1 L477.5 578.3 L478.5 578.3 L479.5 577.6 L480.5 578 L481.5 578.4 L482.5 577.7 L483.5 577.3 L484.5 577.7 L485.5 577.6 L486.5 577.8 L487.5 577.5 L488.5 577.8 L489.5 577.2 L490.5 578 L491.5 578.3 L492.5 578.3 L493.5 577.7 L494.5 578.2 L495.5 577.5 L496.5 578.5 L497.5 578.5 L498.5 578.4 L499.5 578.9 L500.5 579 L501.5 579.3 L502.5 579.2 L503.5 579.4 L504.5 578.9 L505.5 579.2 L506.5 579.5 L507.5 579.8 L508.5 579.7 L509.5 580.2 L510.5 579.6 L511.5 579.8 L512.5 579.9 L513.5 579.8 L514.5 580 L515.5 579.7 L516.5 580.2 L517.5 579.7 L518.5 580.1 L519.5 579.8 L520.5 580.2 L521.5 579.4 L522.5 579.9 L523.5 579.7 L524.5 579.9 L525.5 580 L526.5 578.8 L527.5 575.5 L528.5 565.5 L529.5 545.1 L530.5 518.7 L531.5 505.2 L532.5 514.4 L533.5 565 L534.5 556.6 L535.5 560.7 L536.5 550.1 L537.5 560.1 L538.5 551.4 L539.5 564 L540.5 573.3 L541.5 577.9 L542.5 577.1 L543.5 571.3 L544.5 559.3 L545.5 571 L546.5 537.7 L547.5 544 L548.5 558.5 L549.5 570.8 L550.5 577.1 L551.5 578.5 L552.5 579.3 L553.5 579.4 L554.5 579.7 L555.5 579.3 L556.5 579.1 L557.5 579.1 L558.5 579.1 L559.5 578.9 L560.5 579 L561.5 578.5 L562.5 577.5 L563.5 576.5 L564.5 575.1 L565.5 574.8 L566.5 575 L567.5 576 L568.5 577.5 L569.5 578.4 L570.5 578.7 L571.5 579.6 L572.5 579.7 L573.5 579.6 L574.5 579.8 L575.5 580.2 L576.5 580.3 L577.5 579.7 L578.5 580 L579.5 580 L580.5 579.4 L581.5 579.6 L582.5 579.6 L583.5 579.6 L584.5 579.1 L585.5 579.3 L586.5 579.7 L587.5 579.7 L588.5 579.8 L589.5 579.3 L590.5 579.8 L591.5 579.5 L592.5 579 L593.5 579.6 L594.5 579.3 L595.5 579.5 L596.5 579.4 L597.5 579.7 L598.5 579.5 L599.5 579.3 L600.5 579.6 L601.5 579.4 L602.5 579.2 L603.5 579.5 L604.5 579.1 L605.5 578.9 L606.5 578.9 L607.5 578.5 L608.5 578.6 L609.5 579.1 L610.5 578.3 L611.5 578.5 L612.5 578.1 L613.5 578.1 L614.5 578.6 L615.5 578.3 L616.5 577.9 L617.5 578 L618.5 577.8 L619.5 577.8 L620.5 577.7 L621.5 577.7 L622.5 578.1 L623.5 578.2 L624.5 578.2 L625.5 578.1 L626.5 577.9 L627.5 578.3 L628.5 578.2 L629.5 578.7 L630.5 578.8 L631.5 578.9 L632.5 578.7 L633.5 578.4 L634.5 579.2 L635.5 579.3 L636.5 578.7 L637.5 579.1 L638.5 579.4 L639.5 578.9 L640.5 579.6 L641.5 579.1 L642.5 579 L643.5 579.6 L644.5 579.4 L645.5 579.1 L646.5 579.6 L647.5 578.9 L648.5 579.9 L649.5 579.3 L650.5 579.6 L651.5 579.5 L652.5 579.8 L653.5 580 L654.5 579.6 L655.5 580.1 L656.5 580 L657.5 580 L658.5 580.2 L659.5 580.1 L660.5 580 L661.5 579.8 L662.5 577.5 L663.5 573.2 L664.5 565.5 L665.5 557.1 L666.5 552.5 L667.5 554.8 L668.5 562.2 L669.5 570.3 L670.5 575.9 L671.5 579.4 L672.5 579.8 L673.5 580.2 L674.5 580.5 L675.5 580.9 L676.5 580.4 L677.5 580 L678.5 580.3 L679.5 580.3 L680.5 580.3 L681.5 579.9 L682.5 579.8 L683.5 580 L684.5 580 L685.5 580.3 L686.5 580.4 L687.5 579.8 L688.5 579.8 L689.5 580 L690.5 580 L691.5 580.2 L692.5 580.2 L693.5 580.2 L694.5 580.5 L695.5 580.2 L696.5 580 L697.5 579.9 L698.5 580.1 L699.5 580.1 L700.5 579.8 L701.5 580.5 L702.5 580.3 L703.5 580.1 L704.5 580 L705.5 579.8 L706.5 579.9 L707.5 580.5 L708.5 579.5 L709.5 580 L710.5 580.2 L711.5 580 L712.5 579.9 L713.5 580.1 L714.5 579.7 L715.5 580.1 L716.5 580.3 L717.5 579.7 L718.5 579.8 L719.5 579.8 L720.5 579.5 L721.5 578.4 L722.5 575.9 L723.5 572.1 L724.5 568 L725.5 565.3 L726.5 564.6 L727.5 566.1 L728.5 570 L729.5 574 L730.5 577.3 L731.5 578.7 L732.5 580 L733.5 579.9 L734.5 580.1 L735.5 580.2 L736.5 580.5 L737.5 580.8 L738.5 580 L739.5 579.9 L740.5 579.9 L741.5 579.2 L742.5 579.6 L743.5 578.9 L744.5 579.2 L745.5 578.5 L746.5 577 L747.5 574.7 L748.5 573 L749.5 570.7 L750.5 569.9 L751.5 570.8 L752.5 572.1 L753.5 574.9 L754.5 576.9 L755.5 578 L756.5 578.6 L757.5 578.6 L758.5 579.1 L759.5 579 L760.5 579 L761.5 578.8 L762.5 579.2 L763.5 579.2 L764.5 578.9 L765.5 578.7 L766.5 578 L767.5 576.9 L768.5 574.9 L769.5 573 L770.5 571.9 L771.5 571.9 L772.5 573.1 L773.5 574.9 L774.5 576.2 L775.5 577.6 L776.5 578 L777.5 579 L778.5 578.7 L779.5 579 L780.5 578.8 L781.5 579 L782.5 579 L783.5 579.7 L784.5 579.5 L785.5 579.5 L786.5 579.3 L787.5 579 L788.5 577.9 L789.5 574.9 L790.5 568.5 L791.5 577.2 L792.5 558.7 L793.5 575.2 L794.5 564.9 L795.5 574.8 L796.5 577 L797.5 579 L798.5 580.5 L799.5 580.9 L800.5 580.6 L801.5 579 L802.5 576.8 L803.5 574.9 L804.5 564.7 L805.5 575.2 L806.5 560 L807.5 576.6 L808.5 570.7 L809.5 576.3 L810.5 578.8 L811.5 580.4 L812.5 580.7 L813.5 580.7 L814.5 580.6 L815.5 580.9 L816.5 580.2 L817.5 580.8 L818.5 580.9 L819.5 580.9 L820.5 581 L821.5 581.8 L822.5 580.9 L823.5 581.1 L824.5 581 L825.5 581.3 L826.5 580.4 L827.5 581.3 L828.5 580.7 L829.5 580.3 L830.5 580.5 L831.5 580.7 L832.5 580.7 L833.5 580.6 L834.5 580.8 L835.5 580.5 L836.5 580.4 L837.5 579.8 L838.5 580.4 L839.5 580.5 L840.5 580.1 L841.5 579.7 L842.5 579.9 L843.5 580.6 L844.5 580.1 L845.5 580.1 L846.5 580.1 L847.5 580.5 L848.5 580.3 L849.5 580.3 L850.5 580.2 L851.5 580.4 L852.5 580.1 L853.5 578.3 L854.5 575.5 L855.5 571.2 L856.5 567.9 L857.5 567.3 L858.5 569.8 L859.5 574.1 L860.5 577.6 L861.5 579.6 L862.5 580.7 L863.5 580.9 L864.5 581.1 L865.5 581 L866.5 581 L867.5 580.4 L868.5 580.5 L869.5 579.9 L870.5 577.5 L871.5 575.5 L872.5 572.2 L873.5 570.4 L874.5 570.7 L875.5 573.9 L876.5 576.3 L877.5 578.5 L878.5 579.8 L879.5 579.6 L880.5 579.2 L881.5 577.5 L882.5 574.1 L883.5 572.5 L884.5 561.9 L885.5 572.3 L886.5 559.8 L887.5 572.2 L888.5 571.7 L889.5 576.9 L890.5 578.6 L891.5 578.1 L892.5 576 L893.5 572.7 L894.5 562.7 L895.5 573.9 L896.5 550.7 L897.5 553 L898.5 561.2 L899.5 569.6 L900.5 574.6 L901.5 577.9 L902.5 578.4 L903.5 578.6 L904.5 578.9 L905.5 578.9 L906.5 578.7 L907.5 579 L908.5 578.5 L909.5 578.6 L910.5 578.6 L911.5 579.1 L912.5 579.2 L913.5 579.3 L914.5 578.9 L915.5 579.3 L916.5 579.5 L917.5 579.1 L918.5 579.4 L919.5 579.9 L920.5 580 L921.5 580 L922.5 580.1 L923.5 580.1 L924.5 580.2 L925.5 580.1 L926.5 580 L927.5 580.2 L928.5 580.2 L929.5 580.8 L930.5 580.2 L931.5 579.8 L932.5 579.2 L933.5 578.4 L934.5 577.4 L935.5 576.9 L936.5 576.4 L937.5 577 L938.5 577.4 L939.5 578.7 L940.5 579.7 L941.5 579.9 L942.5 580.6 L943.5 580.8 L944.5 580.8 L945.5 580.9 L946.5 580.6 L947.5 581.5 L948.5 581 L949.5 581 L950.5 581.4 L951.5 580.6 L952.5 580.8 L953.5 579.8 L954.5 578.7 L955.5 577.3 L956.5 576.3 L957.5 576.1 L958.5 577.7 L959.5 578.3 L960.5 579.4 L961.5 580.7 L962.5 580.6 L963.5 580.9 L964.5 581 L965.5 580.9"/>
<path d="M148.5 727.1 L149.5 727.1 L150.5 726.7 L151.5 727 L152.5 726.6 L153.5 726.3 L154.5 726.4 L155.5 726.7 L156.5 726.6 L157.5 726.2 L158.5 726.6 L159.5 726.4 L160.5 726.6 L161.5 726.6 L162.5 726.2 L163.5 726.6 L164.5 726.4 L165.5 727 L166.5 726.8 L167.5 726.6 L168.5 726.4 L169.5 726.7 L170.5 726.7 L171.5 726.4 L172.5 727.2 L173.5 726.7 L174.5 727 L175.5 726.3 L176.5 727 L177.5 726.2 L178.5 726.4 L179.5 726.6 L180.5 726.5 L181.5 725.9 L182.5 726.2 L183.5 726.7 L184.5 727.1 L185.5 726.8 L186.5 726.6 L187.5 726.9 L188.5 726.5 L189.5 727 L190.5 726.6 L191.5 727.1 L192.5 727.2 L193.5 727.6 L194.5 727.4 L195.5 727.9 L196.5 727.7 L197.5 728.1 L198.5 728.2 L199.5 727.7 L200.5 728.3 L201.5 728.4 L202.5 728.2 L203.5 728.6 L204.5 728.2 L205.5 728.7 L206.5 728.7 L207.5 728.7 L208.5 729.2 L209.5 728.7 L210.5 728.6 L211.5 728.4 L212.5 728.6 L213.5 728.3 L214.5 728.8 L215.5 728.3 L216.5 728.5 L217.5 728.9 L218.5 728.7 L219.5 728.4 L220.5 728.7 L221.5 728.4 L222.5 728.6 L223.5 728.4 L224.5 728.2 L225.5 728.6 L226.5 728.7 L227.5 728.4 L228.5 728.3 L229.5 728.4 L230.5 728 L231.5 728.4 L232.5 728.3 L233.5 729.1 L234.5 728.4 L235.5 728.1 L236.5 728.7 L237.5 728.3 L238.5 728.3 L239.5 728.3 L240.5 728.2 L241.5 728 L242.5 728.2 L243.5 728 L244.5 727.7 L245.5 727.7 L246.5 727.4 L247.5 727.7 L248.5 727.7 L249.5 727.7 L250.5 727.7 L251.5 727.5 L252.5 727.9 L253.5 727.5 L254.5 727.6 L255.5 727.5 L256.5 727.7 L257.5 727.6 L258.5 728.3 L259.5 727.9 L260.5 727.5 L261.5 727.9 L262.5 727.7 L263.5 728.3 L264.5 728.5 L265.5 728.1 L266.5 728.3 L267.5 728.2 L268.5 728.3 L269.5 728.6 L270.5 728.1 L271.5 727.8 L272.5 728.3 L273.5 728.2 L274.5 728.1 L275.5 728.2 L276.5 727.7 L277.5 727.3 L278.5 728 L279.5 727.6 L280.5 727.3 L281.5 727.3 L282.5 727.8 L283.5 727.5 L284.5 727.5 L285.5 727.7 L286.5 727.3 L287.5 727.2 L288.5 727.2 L289.5 727.2 L290.5 727.4 L291.5 727.2 L292.5 727.5 L293.5 727.4 L294.5 727.5 L295.5 727.6 L296.5 727.8 L297.5 727.8 L298.5 727.4 L299.5 727.4 L300.5 727.1 L301.5 727.5 L302.5 727.5 L303.5 726.9 L304.5 727.1 L305.5 726.8 L306.5 726.7 L307.5 726.7 L308.5 726.5 L309.5 726.7 L310.5 726.1 L311.5 726.2 L312.5 726.3 L313.5 726 L314.5 726.4 L315.5 725.9 L316.5 726.3 L317.5 726 L318.5 726.4 L319.5 726.6 L320.5 727.1 L321.5 726.9 L322.5 727.1 L323.5 726.8 L324.5 727.5 L325.5 727 L326.5 727.1 L327.5 726.9 L328.5 727.4 L329.5 727.7 L330.5 727.4 L331.5 727.5 L332.5 727.6 L333.5 727.7 L334.5 727.6 L335.5 727.5 L336.5 728.2 L337.5 727.4 L338.5 727.7 L339.5 728 L340.5 728.2 L341.5 727.9 L342.5 727.9 L343.5 728 L344.5 728 L345.5 728.3 L346.5 728 L347.5 728 L348.5 728.1 L349.5 728.4 L350.5 728.7 L351.5 727.9 L352.5 725.5 L353.5 719.6 L354.5 710.4 L355.5 723.4 L356.5 674.7 L357.5 715.8 L358.5 661.3 L359.5 713.9 L360.5 669.1 L361.5 714 L362.5 697.9 L363.5 716.9 L364.5 700.5 L365.5 721.9 L366.5 701.9 L367.5 716.6 L368.5 702 L369.5 715.4 L370.5 701.4 L371.5 713.9 L372.5 673.3 L373.5 708.7 L374.5 639.6 L375.5 706.3 L376.5 593.9 L377.5 706.5 L378.5 598.1 L379.5 706.5 L380.5 645.2 L381.5 711 L382.5 675.2 L383.5 716.3 L384.5 699.6 L385.5 723.1 L386.5 720.2 L387.5 725.5 L388.5 727.4 L389.5 728.3 L390.5 728.2 L391.5 728.5 L392.5 728.7 L393.5 727.9 L394.5 728.5 L395.5 728.3 L396.5 728.2 L397.5 728.3 L398.5 728.4 L399.5 728.8 L400.5 728.3 L401.5 728.2 L402.5 727.9 L403.5 728.4 L404.5 727.9 L405.5 728.1 L406.5 728.2 L407.5 728 L408.5 727.9 L409.5 727.9 L410.5 728.2 L411.5 728 L412.5 728 L413.5 728 L414.5 727.6 L415.5 727.3 L416.5 726.2 L417.5 725.4 L418.5 724.5 L419.5 723.9 L420.5 725.2 L421.5 726.8 L422.5 727.5 L423.5 728 L424.5 728.6 L425.5 728.1 L426.5 728.4 L427.5 728.5 L428.5 728.5 L429.5 728 L430.5 727.9 L431.5 728.5 L432.5 727.8 L433.5 727.9 L434.5 728.4 L435.5 727.5 L436.5 727 L437.5 728.1 L438.5 727.6 L439.5 727.3 L440.5 727.8 L441.5 727 L442.5 727.3 L443.5 726.9 L444.5 726.8 L445.5 727 L446.5 726.8 L447.5 726.1 L448.5 723.8 L449.5 718.2 L450.5 709.8 L451.5 700.7 L452.5 694.4 L453.5 695.9 L454.5 704.3 L455.5 714.1 L456.5 721.4 L457.5 724.9 L458.5 726.5 L459.5 727.2 L460.5 727.4 L461.5 726.9 L462.5 727 L463.5 727.1 L464.5 727.4 L465.5 726.9 L466.5 727.8 L467.5 727.1 L468.5 727.3 L469.5 727.7 L470.5 727.3 L471.5 727.3 L472.5 727.1 L473.5 727.3 L474.5 727 L475.5 727.3 L476.5 727.4 L477.5 727.3 L478.5 727.9 L479.5 727.9 L480.5 727.4 L481.5 728.2 L482.5 727.9 L483.5 728.4 L484.5 728.2 L485.5 728.4 L486.5 728.8 L487.5 729.3 L488.5 728.5 L489.5 728.9 L490.5 728.9 L491.5 729.4 L492.5 729.1 L493.5 729.3 L494.5 729.5 L495.5 729.4 L496.5 729.1 L497.5 729 L498.5 729 L499.5 729.1 L500.5 728.8 L501.5 729 L502.5 729.1 L503.5 728.8 L504.5 728.7 L505.5 728.9 L506.5 729 L507.5 728.4 L508.5 728.5 L509.5 729 L510.5 728.7 L511.5 728.5 L512.5 728.8 L513.5 729.2 L514.5 728.6 L515.5 728.6 L516.5 728.8 L517.5 729.3 L518.5 728.7 L519.5 729 L520.5 729.2 L521.5 729.1 L522.5 728.8 L523.5 729.1 L524.5 728.9 L525.5 728.9 L526.5 728 L527.5 724.4 L528.5 713 L529.5 691.4 L530.5 663.6 L531.5 648 L532.5 658.5 L533.5 713.5 L534.5 703 L535.5 708 L536.5 695.5 L537.5 707.9 L538.5 696.8 L539.5 710.2 L540.5 721.6 L541.5 726 L542.5 724.9 L543.5 717.5 L544.5 702.8 L545.5 719.7 L546.5 677.6 L547.5 685.5 L548.5 703.2 L549.5 718.1 L550.5 725.8 L551.5 728.2 L552.5 728.6 L553.5 728.8 L554.5 729 L555.5 729 L556.5 729.2 L557.5 728.4 L558.5 728.6 L559.5 728.3 L560.5 728.5 L561.5 727.7 L562.5 726.5 L563.5 725.4 L564.5 723.9 L565.5 723.6 L566.5 723.6 L567.5 724.4 L568.5 725.5 L569.5 726.8 L570.5 727.5 L571.5 727.3 L572.5 727.7 L573.5 727.9 L574.5 728 L575.5 727.5 L576.5 727.6 L577.5 727.8 L578.5 728.3 L579.5 727.6 L580.5 727.7 L581.5 727.8 L582.5 727.8 L583.5 727.9 L584.5 727.8 L585.5 727.7 L586.5 727.8 L587.5 727.8 L588.5 727.7 L589.5 727.7 L590.5 727.2 L591.5 727.5 L592.5 727.4 L593.5 727.5 L594.5 727.4 L595.5 727.5 L596.5 726.8 L597.5 726.9 L598.5 727 L599.5 726.7 L600.5 726.8 L601.5 726.7 L602.5 726.7 L603.5 727.4 L604.5 726.8 L605.5 727.2 L606.5 726.7 L607.5 727.1 L608.5 726.9 L609.5 727.3 L610.5 727.7 L611.5 727.9 L612.5 727.7 L613.5 727.8 L614.5 727.8 L615.5 728 L616.5 728.4 L617.5 727.7 L618.5 728.1 L619.5 728.1 L620.5 728.6 L621.5 728.1 L622.5 728.7 L623.5 728.2 L624.5 728.3 L625.5 729 L626.5 728.9 L627.5 728.4 L628.5 728.2 L629.5 728.4 L630.5 728.8 L631.5 728.7 L632.5 728.4 L633.5 728.8 L634.5 729.1 L635.5 728.5 L636.5 728.8 L637.5 728.7 L638.5 729.2 L639.5 729 L640.5 728.9 L641.5 728.7 L642.5 729.4 L643.5 729.2 L644.5 729.4 L645.5 729.3 L646.5 729.5 L647.5 729 L648.5 729.3 L649.5 729.6 L650.5 730 L651.5 729.6 L652.5 729.5 L653.5 729.3 L654.5 729.2 L655.5 729.3 L656.5 729.1 L657.5 729.2 L658.5 729.1 L659.5 729.5 L660.5 728.7 L661.5 728 L662.5 725.1 L663.5 720 L664.5 711.8 L665.5 701.7 L666.5 696.4 L667.5 699.2 L668.5 707.2 L669.5 716.4 L670.5 723.4 L671.5 726.8 L672.5 728.4 L673.5 728.6 L674.5 728.5 L675.5 728.4 L676.5 728.3 L677.5 728.6 L678.5 729.2 L679.5 728.6 L680.5 729 L681.5 729.3 L682.5 729.2 L683.5 729.5 L684.5 729.3 L685.5 729.5 L686.5 729 L687.5 728.9 L688.5 729.5 L689.5 729.1 L690.5 729 L691.5 728.8 L692.5 729.3 L693.5 729 L694.5 728.9 L695.5 728.6 L696.5 728.8 L697.5 728.6 L698.5 728.7 L699.5 728.8 L700.5 728.6 L701.5 728.5 L702.5 728.9 L703.5 728.5 L704.5 729.1 L705.5 729.2 L706.5 728.5 L707.5 729.2 L708.5 728.7 L709.5 729.2 L710.5 728.8 L711.5 729.1 L712.5 728.7 L713.5 729.1 L714.5 728.9 L715.5 729.2 L716.5 729 L717.5 728.5 L718.5 728.6 L719.5 728 L720.5 727.4 L721.5 726.1 L722.5 723.2 L723.5 718.5 L724.5 713.4 L725.5 709.9 L726.5 709.3 L727.5 710.8 L728.5 714.7 L729.5 719.3 L730.5 722.9 L731.5 725.7 L732.5 726.5 L733.5 726.8 L734.5 727.2 L735.5 727.4 L736.5 727.2 L737.5 727 L738.5 727.3 L739.5 727.5 L740.5 726.9 L741.5 727 L742.5 727.9 L743.5 727.5 L744.5 727.2 L745.5 726.1 L746.5 724.9 L747.5 723 L748.5 721 L749.5 718.6 L750.5 717.4 L751.5 719 L752.5 721.1 L753.5 723.4 L754.5 725 L755.5 726.5 L756.5 727.3 L757.5 727.7 L758.5 728.2 L759.5 727.5 L760.5 727.7 L761.5 727.9 L762.5 727.8 L763.5 727.9 L764.5 727.6 L765.5 727.7 L766.5 727 L767.5 726 L768.5 724.7 L769.5 722.8 L770.5 721.9 L771.5 722.1 L772.5 723.1 L773.5 725.1 L774.5 726.4 L775.5 727.9 L776.5 729 L777.5 729.4 L778.5 729.7 L779.5 729.3 L780.5 729.5 L781.5 729.6 L782.5 729.6 L783.5 729.6 L784.5 730 L785.5 729.4 L786.5 729.3 L787.5 728.8 L788.5 727 L789.5 722.7 L790.5 716.3 L791.5 726.5 L792.5 703.4 L793.5 723.7 L794.5 711.3 L795.5 723 L796.5 724.5 L797.5 727.3 L798.5 729.1 L799.5 729 L800.5 728 L801.5 727 L802.5 722.9 L803.5 723 L804.5 709 L805.5 723.2 L806.5 703.2 L807.5 725 L808.5 717.1 L809.5 723.2 L810.5 727.3 L811.5 728.6 L812.5 729.4 L813.5 729.3 L814.5 729.4 L815.5 729.6 L816.5 729.5 L817.5 729.1 L818.5 729.3 L819.5 729 L820.5 729.1 L821.5 729.4 L822.5 728.7 L823.5 728.6 L824.5 729 L825.5 728.7 L826.5 729.1 L827.5 729 L828.5 729 L829.5 728.9 L830.5 728.8 L831.5 728.8 L832.5 728.9 L833.5 729.1 L834.5 728.9 L835.5 729.5 L836.5 729.5 L837.5 729.1 L838.5 728.8 L839.5 729.8 L840.5 729.2 L841.5 728.9 L842.5 729.2 L843.5 729.7 L844.5 729.9 L845.5 729.8 L846.5 729.9 L847.5 729.9 L848.5 729.9 L849.5 729.1 L850.5 729.2 L851.5 728.7 L852.5 728 L853.5 725.6 L854.5 721.7 L855.5 716.7 L856.5 711.6 L857.5 711 L858.5 713.7 L859.5 718.8 L860.5 724 L861.5 726.5 L862.5 727.8 L863.5 728.5 L864.5 727.9 L865.5 728.2 L866.5 728.5 L867.5 727.8 L868.5 727.8 L869.5 727.1 L870.5 725.1 L871.5 721.8 L872.5 718.4 L873.5 716.3 L874.5 717.2 L875.5 720.2 L876.5 723.3 L877.5 726 L878.5 727.2 L879.5 727.8 L880.5 727.2 L881.5 725.5 L882.5 721.9 L883.5 719.9 L884.5 709.9 L885.5 719.6 L886.5 707.9 L887.5 719.3 L888.5 719.2 L889.5 724.4 L890.5 726 L891.5 725.6 L892.5 723.3 L893.5 720 L894.5 709 L895.5 722.1 L896.5 695.9 L897.5 699.2 L898.5 706.9 L899.5 717.1 L900.5 723.5 L901.5 727 L902.5 727.9 L903.5 728.3 L904.5 728.4 L905.5 728.9 L906.5 728.9 L907.5 728.5 L908.5 728.9 L909.5 729.1 L910.5 728.9 L911.5 729.1 L912.5 729.2 L913.5 729.1 L914.5 728.8 L915.5 729.5 L916.5 729.3 L917.5 729.3 L918.5 729.1 L919.5 729.3 L920.5 729.1 L921.5 729.2 L922.5 729.3 L923.5 729.4 L924.5 729.1 L925.5 729.1 L926.5 729.7 L927.5 729 L928.5 729.5 L929.5 729.4 L930.5 729.5 L931.5 729 L932.5 728.3 L933.5 727.8 L934.5 726.5 L935.5 725.8 L936.5 725.8 L937.5 726.2 L938.5 726.6 L939.5 728.2 L940.5 728.7 L941.5 729.6 L942.5 729.8 L943.5 729.6 L944.5 729.5 L945.5 729.2 L946.5 729.7 L947.5 729.8 L948.5 729.4 L949.5 729.2 L950.5 728.8 L951.5 728.4 L952.5 728.1 L953.5 727.5 L954.5 725.9 L955.5 725 L956.5 724.2 L957.5 724.1 L958.5 724.6 L959.5 725.9 L960.5 726.9 L961.5 728.4 L962.5 728.9 L963.5 728.9 L964.5 729.1 L965.5 729.1"/>
<path d="M148.5 874.3 L149.5 874.1 L150.5 874.9 L151.5 874.3 L152.5 874.4 L153.5 874.9 L154.5 874.3 L155.5 874.4 L156.5 874.6 L157.5 874.5 L158.5 874.4 L159.5 874.6 L160.5 874.6 L161.5 874.8 L162.5 874.3 L163.5 874.5 L164.5 875 L165.5 875.2 L166.5 874.4 L167.5 875 L168.5 874.6 L169.5 874.7 L170.5 874.7 L171.5 874.9 L172.5 875.4 L173.5 875.4 L174.5 875.3 L175.5 875.3 L176.5 875.5 L177.5 875.6 L178.5 876 L179.5 875.8 L180.5 876.1 L181.5 876.2 L182.5 876.3 L183.5 876.5 L184.5 876.5 L185.5 876.9 L186.5 876.6 L187.5 877.1 L188.5 876.6 L189.5 876.6 L190.5 876.8 L191.5 876.8 L192.5 876.8 L193.5 877 L194.5 876.9 L195.5 876.7 L196.5 876.4 L197.5 876.4 L198.5 876.7 L199.5 876.4 L200.5 875.9 L201.5 876 L202.5 876 L203.5 876.4 L204.5 876.1 L205.5 876.6 L206.5 876.2 L207.5 876.1 L208.5 875.9 L209.5 876.3 L210.5 876 L211.5 875.9 L212.5 876.3 L213.5 876.1 L214.5 876.5 L215.5 876.2 L216.5 875.5 L217.5 876.4 L218.5 875.7 L219.5 876.5 L220.5 876.6 L221.5 876 L222.5 875.7 L223.5 875.6 L224.5 876.1 L225.5 875.8 L226.5 875.6 L227.5 875.7 L228.5 876.2 L229.5 875.7 L230.5 875.7 L231.5 875.7 L232.5 875.7 L233.5 875.7 L234.5 875.2 L235.5 875.4 L236.5 875.2 L237.5 875.3 L238.5 875.8 L239.5 875.4 L240.5 875.6 L241.5 875.5 L242.5 875.6 L243.5 876 L244.5 875.8 L245.5 875.8 L246.5 876.1 L247.5 876.2 L248.5 876.3 L249.5 876.2 L250.5 875.7 L251.5 876.3 L252.5 876.3 L253.5 876.4 L254.5 875.9 L255.5 876.7 L256.5 875.7 L257.5 876.1 L258.5 875.9 L259.5 875.7 L260.5 875.9 L261.5 875.6 L262.5 875 L263.5 875.2 L264.5 875.5 L265.5 875.9 L266.5 874.9 L267.5 875.2 L268.5 875.5 L269.5 875.3 L270.5 875 L271.5 874.7 L272.5 874.6 L273.5 874.9 L274.5 875 L275.5 874.5 L276.5 874.7 L277.5 875.2 L278.5 875 L279.5 874.9 L280.5 875 L281.5 874.9 L282.5 875.3 L283.5 875.5 L284.5 875.5 L285.5 875.2 L286.5 875.1 L287.5 875.3 L288.5 875.3 L289.5 875.1 L290.5 875 L291.5 874.5 L292.5 874.2 L293.5 874.8 L294.5 874.5 L295.5 874.5 L296.5 874.3 L297.5 874.2 L298.5 874.8 L299.5 874.6 L300.5 874.3 L301.5 874.7 L302.5 874.8 L303.5 874.9 L304.5 875.5 L305.5 875 L306.5 874.8 L307.5 875.3 L308.5 875.2 L309.5 875.7 L310.5 875.7 L311.5 875.9 L312.5 875.8 L313.5 876.1 L314.5 876 L315.5 876.4 L316.5 876.2 L317.5 876.1 L318.5 876.6 L319.5 876.3 L320.5 876.9 L321.5 876.7 L322.5 876.7 L323.5 876.6 L324.5 876.6 L325.5 876 L326.5 876.9 L327.5 876.4 L328.5 876.8 L329.5 876.4 L330.5 876.6 L331.5 876.6 L332.5 876.4 L333.5 876.6 L334.5 876.8 L335.5 876.7 L336.5 876.5 L337.5 876.7 L338.5 877 L339.5 877.3 L340.5 877.2 L341.5 877.1 L342.5 876.9 L343.5 877.4 L344.5 877.2 L345.5 877.1 L346.5 877.4 L347.5 877.3 L348.5 877.3 L349.5 876.8 L350.5 876.9 L351.5 875.6 L352.5 874.2 L353.5 868.9 L354.5 860.6 L355.5 870.7 L356.5 827.2 L357.5 863.7 L358.5 814.1 L359.5 860.9 L360.5 821.5 L361.5 861.3 L362.5 847.8 L363.5 863.5 L364.5 849.5 L365.5 869.7 L366.5 851 L367.5 863.5 L368.5 851.5 L369.5 862.4 L370.5 851.6 L371.5 861.9 L372.5 826.2 L373.5 856.1 L374.5 795.1 L375.5 854.4 L376.5 754.8 L377.5 854.7 L378.5 758.2 L379.5 854.4 L380.5 800.8 L381.5 859.4 L382.5 828.7 L383.5 865.1 L384.5 850.4 L385.5 871.8 L386.5 869.2 L387.5 873.5 L388.5 875.5 L389.5 876.4 L390.5 876.4 L391.5 876.1 L392.5 876.2 L393.5 876.1 L394.5 875.8 L395.5 876.1 L396.5 876 L397.5 876.3 L398.5 876.2 L399.5 876.4 L400.5 876.4 L401.5 876.5 L402.5 876.6 L403.5 876.5 L404.5 876.3 L405.5 876.7 L406.5 876.1 L407.5 876.4 L408.5 876.6 L409.5 876.3 L410.5 876.5 L411.5 876.1 L412.5 876.1 L413.5 876.2 L414.5 875.7 L415.5 874.8 L416.5 872.7 L417.5 870.6 L418.5 869.1 L419.5 868.9 L420.5 869.9 L421.5 872 L422.5 874.1 L423.5 874.3 L424.5 875.1 L425.5 874.9 L426.5 875.2 L427.5 874.7 L428.5 874.9 L429.5 874.4 L430.5 874.9 L431.5 875.2 L432.5 874.6 L433.5 875.3 L434.5 874.9 L435.5 875.1 L436.5 874.5 L437.5 875.5 L438.5 875.1 L439.5 875.3 L440.5 875.2 L441.5 875.3 L442.5 875.9 L443.5 875.6 L444.5 876 L445.5 875.7 L446.5 875.7 L447.5 874.7 L448.5 872.6 L449.5 867.8 L450.5 858.5 L451.5 848.6 L452.5 842.2 L453.5 844.3 L454.5 852.7 L455.5 862 L456.5 869.6 L457.5 874.5 L458.5 875.7 L459.5 876.2 L460.5 876.4 L461.5 876.7 L462.5 876.7 L463.5 876.6 L464.5 877.2 L465.5 876.8 L466.5 876.7 L467.5 876.9 L468.5 877.1 L469.5 877.2 L470.5 877.3 L471.5 877.6 L472.5 876.7 L473.5 877.4 L474.5 877.9 L475.5 877.9 L476.5 877.6 L477.5 877.6 L478.5 878 L479.5 877.7 L480.5 877.6 L481.5 878.1 L482.5 877.5 L483.5 877.7 L484.5 877.4 L485.5 877.4 L486.5 877.1 L487.5 877 L488.5 877.5 L489.5 876.8 L490.5 877.1 L491.5 876.7 L492.5 876.9 L493.5 877 L494.5 876.5 L495.5 877.2 L496.5 876.9 L497.5 877.3 L498.5 876.8 L499.5 877.3 L500.5 877.6 L501.5 877.1 L502.5 877 L503.5 877.3 L504.5 877.2 L505.5 877.1 L506.5 877.2 L507.5 877.1 L508.5 877.3 L509.5 877.1 L510.5 876.9 L511.5 877.3 L512.5 877 L513.5 877.7 L514.5 876.9 L515.5 876.8 L516.5 876.8 L517.5 876.9 L518.5 876.6 L519.5 876.5 L520.5 877.1 L521.5 876.4 L522.5 877.1 L523.5 876.7 L524.5 876.4 L525.5 877 L526.5 875.9 L527.5 872.4 L528.5 862.5 L529.5 841.8 L530.5 815.5 L531.5 801.4 L532.5 811.2 L533.5 862.4 L534.5 853.4 L535.5 857.6 L536.5 846.2 L537.5 857.3 L538.5 848.2 L539.5 860.5 L540.5 871.4 L541.5 875.1 L542.5 873.2 L543.5 865 L544.5 848.6 L545.5 868.1 L546.5 819.2 L547.5 828.4 L548.5 847.6 L549.5 864.7 L550.5 873.1 L551.5 875.6 L552.5 876.5 L553.5 876.2 L554.5 876.1 L555.5 875.9 L556.5 876.2 L557.5 875.9 L558.5 875.8 L559.5 875.5 L560.5 875.1 L561.5 874.6 L562.5 874 L563.5 872.4 L564.5 871.9 L565.5 871.1 L566.5 871.3 L567.5 871.9 L568.5 873.8 L569.5 874.1 L570.5 875.4 L571.5 876.1 L572.5 875.8 L573.5 875.8 L574.5 875.9 L575.5 876.1 L576.5 876.2 L577.5 876 L578.5 875.5 L579.5 875.6 L580.5 875.7 L581.5 875.3 L582.5 875.6 L583.5 876.2 L584.5 875.4 L585.5 875.9 L586.5 875.4 L587.5 875.6 L588.5 875.7 L589.5 875.4 L590.5 875.9 L591.5 876.3 L592.5 876.3 L593.5 876.4 L594.5 876.1 L595.5 876.4 L596.5 876.7 L597.5 876.9 L598.5 877.2 L599.5 876.8 L600.5 877.6 L601.5 877.2 L602.5 877.3 L603.5 877.1 L604.5 877.5 L605.5 877.5 L606.5 877.3 L607.5 877.6 L608.5 877.7 L609.5 877.6 L610.5 877.9 L611.5 877.5 L612.5 877.9 L613.5 877.7 L614.5 877.8 L615.5 877.2 L616.5 877.7 L617.5 877.6 L618.5 877.9 L619.5 877.3 L620.5 878 L621.5 877.4 L622.5 878 L623.5 877.9 L624.5 877.6 L625.5 878.3 L626.5 877.5 L627.5 877.8 L628.5 878 L629.5 878.1 L630.5 878.1 L631.5 878.2 L632.5 878.2 L633.5 878.1 L634.5 877.8 L635.5 878 L636.5 878.3 L637.5 877.7 L638.5 878 L639.5 877.4 L640.5 877.7 L641.5 877.4 L642.5 878 L643.5 877.2 L644.5 877.5 L645.5 877.6 L646.5 877.5 L647.5 877.5 L648.5 877.5 L649.5 877.3 L650.5 877.4 L651.5 877.2 L652.5 877.2 L653.5 876.7 L654.5 877.2 L655.5 877.5 L656.5 877.1 L657.5 877 L658.5 877.4 L659.5 877.7 L660.5 877.6 L661.5 876.2 L662.5 874.4 L663.5 869 L664.5 861 L665.5 851.4 L666.5 847.3 L667.5 849.2 L668.5 857.3 L669.5 866.3 L670.5 872.6 L671.5 876.4 L672.5 877.4 L673.5 877.6 L674.5 878 L675.5 877.8 L676.5 877.6 L677.5 877.9 L678.5 877.5 L679.5 877.6 L680.5 877.7 L681.5 877.7 L682.5 877.7 L683.5 877.8 L684.5 877.4 L685.5 877.1 L686.5 877.7 L687.5 877.7 L688.5 877.2 L689.5 877.5 L690.5 877.2 L691.5 877 L692.5 877.6 L693.5 877.4 L694.5 877.4 L695.5 877.8 L696.5 877.7 L697.5 877.2 L698.5 877 L699.5 876.8 L700.5 877.2 L701.5 877 L702.5 877.1 L703.5 877 L704.5 876.7 L705.5 876.7 L706.5 876.3 L707.5 876.9 L708.5 876.3 L709.5 876.5 L710.5 876.1 L711.5 876.2 L712.5 876.2 L713.5 875.9 L714.5 875.8 L715.5 876.5 L716.5 875.8 L717.5 876 L718.5 875.8 L719.5 875.4 L720.5 875.4 L721.5 873.8 L722.5 871.3 L723.5 867 L724.5 863.5 L725.5 860.5 L726.5 859.6 L727.5 861.5 L728.5 865.8 L729.5 869.8 L730.5 873.3 L731.5 875.5 L732.5 876.6 L733.5 876.5 L734.5 877.1 L735.5 876.9 L736.5 876.6 L737.5 877.2 L738.5 876.8 L739.5 877.1 L740.5 876.6 L741.5 877 L742.5 877.1 L743.5 877.2 L744.5 876.8 L745.5 876.1 L746.5 874.9 L747.5 873.7 L748.5 871 L749.5 869.3 L750.5 869.1 L751.5 869.1 L752.5 871 L753.5 873.6 L754.5 875.7 L755.5 876.8 L756.5 877.8 L757.5 878.2 L758.5 878 L759.5 878.5 L760.5 878.2 L761.5 878.8 L762.5 878.7 L763.5 879.2 L764.5 878.8 L765.5 878.2 L766.5 877.8 L767.5 876.7 L768.5 875 L769.5 873.3 L770.5 872.9 L771.5 873 L772.5 873.3 L773.5 874.8 L774.5 876 L775.5 877.4 L776.5 878 L777.5 877.7 L778.5 877.8 L779.5 877.8 L780.5 877.9 L781.5 878.1 L782.5 878.1 L783.5 877.8 L784.5 877.6 L785.5 878 L786.5 877.9 L787.5 877.3 L788.5 875.9 L789.5 872.5 L790.5 867 L791.5 875.3 L792.5 856.6 L793.5 873.1 L794.5 862.7 L795.5 872.6 L796.5 874.4 L797.5 877.2 L798.5 877.6 L799.5 877.9 L800.5 877.8 L801.5 875.7 L802.5 872.4 L803.5 872.1 L804.5 857.7 L805.5 872.4 L806.5 851.4 L807.5 873.8 L808.5 865.7 L809.5 872.4 L810.5 876.2 L811.5 877.5 L812.5 878.1 L813.5 877.4 L814.5 878.2 L815.5 878.4 L816.5 878.4 L817.5 878.3 L818.5 878.2 L819.5 878.2 L820.5 878.4 L821.5 878.5 L822.5 878.6 L823.5 878.5 L824.5 878.2 L825.5 879 L826.5 878.3 L827.5 877.9 L828.5 878.9 L829.5 878.7 L830.5 878.5 L831.5 878.6 L832.5 878.4 L833.5 878 L834.5 878.1 L835.5 877.7 L836.5 877.7 L837.5 877.5 L838.5 877.7 L839.5 877.8 L840.5 877.3 L841.5 877.4 L842.5 876.7 L843.5 876.9 L844.5 877.2 L845.5 877.2 L846.5 877.2 L847.5 877.2 L848.5 876.5 L849.5 876.8 L850.5 876.2 L851.5 876.6 L852.5 876 L853.5 874.1 L854.5 870.7 L855.5 866.6 L856.5 863 L857.5 862.2 L858.5 864.7 L859.5 869.3 L860.5 873.2 L861.5 875.6 L862.5 876.7 L863.5 876.9 L864.5 876.6 L865.5 876.9 L866.5 877 L867.5 876.7 L868.5 876.6 L869.5 875.6 L870.5 874.4 L871.5 871.4 L872.5 868.5 L873.5 867.1 L874.5 867.8 L875.5 870.3 L876.5 873.5 L877.5 875.5 L878.5 876.6 L879.5 876.9 L880.5 876.4 L881.5 875.4 L882.5 872.3 L883.5 869.6 L884.5 862.3 L885.5 870 L886.5 860.3 L887.5 870.1 L888.5 871.2 L889.5 875.3 L890.5 877 L891.5 877.2 L892.5 874.6 L893.5 871.1 L894.5 861.6 L895.5 873 L896.5 849 L897.5 851.9 L898.5 859.6 L899.5 867.7 L900.5 874.5 L901.5 877.6 L902.5 878 L903.5 878.7 L904.5 878.7 L905.5 878.2 L906.5 878.5 L907.5 878.9 L908.5 878.7 L909.5 878.6 L910.5 878.9 L911.5 878.5 L912.5 878.2 L913.5 879 L914.5 878.5 L915.5 878.8 L916.5 879.1 L917.5 878.9 L918.5 878.9 L919.5 878.8 L920.5 879.1 L921.5 879.5 L922.5 878.8 L923.5 878.7 L924.5 879.1 L925.5 878.8 L926.5 879 L927.5 878.9 L928.5 878.9 L929.5 878.8 L930.5 878.6 L931.5 878.5 L932.5 877.3 L933.5 876.6 L934.5 875.7 L935.5 874.5 L936.5 874.2 L937.5 874.6 L938.5 875.3 L939.5 876.7 L940.5 877.3 L941.5 878.6 L942.5 878.1 L943.5 878.3 L944.5 879 L945.5 878.4 L946.5 879.2 L947.5 877.9 L948.5 878.6 L949.5 879.2 L950.5 879.2 L951.5 878.7 L952.5 877.9 L953.5 877.3 L954.5 876.4 L955.5 875.2 L956.5 874.6 L957.5 874.2 L958.5 875.3 L959.5 876.6 L960.5 878.1 L961.5 878.4 L962.5 878.9 L963.5 878.7 L964.5 878.6 L965.5 878.4"/>
<path d="M148.5 1026.3 L149.5 1026.6 L150.5 1026.5 L151.5 1026.3 L152.5 1025.9 L153.5 1026.8 L154.5 1026.9 L155.5 1026.3 L156.5 1027.1 L157.5 1026.7 L158.5 1027.5 L159.5 1027.1 L160.5 1027 L161.5 1027.5 L162.5 1027.3 L163.5 1027.4 L164.5 1027.5 L165.5 1027.5 L166.5 1027.8 L167.5 1027.9 L168.5 1027.9 L169.5 1028.3 L170.5 1027.5 L171.5 1027.8 L172.5 1028.1 L173.5 1027.6 L174.5 1028.3 L175.5 1028 L176.5 1027.7 L177.5 1027.9 L178.5 1027.5 L179.5 1027.2 L180.5 1027.7 L181.5 1027.6 L182.5 1027.3 L183.5 1027.2 L184.5 1026.6 L185.5 1026.8 L186.5 1026.9 L187.5 1027 L188.5 1027.2 L189.5 1026.7 L190.5 1026.6 L191.5 1027 L192.5 1026.8 L193.5 1026.5 L194.5 1027.1 L195.5 1026.6 L196.5 1026.7 L197.5 1026.6 L198.5 1027 L199.5 1027.2 L200.5 1026.9 L201.5 1027.1 L202.5 1026.9 L203.5 1027.6 L204.5 1027.4 L205.5 1026.8 L206.5 1027.1 L207.5 1027.2 L208.5 1027 L209.5 1026.7 L210.5 1026.8 L211.5 1026.9 L212.5 1026.8 L213.5 1026.4 L214.5 1026.7 L215.5 1026.3 L216.5 1026 L217.5 1026.5 L218.5 1026.7 L219.5 1026.6 L220.5 1026.8 L221.5 1026.9 L222.5 1026.6 L223.5 1026.4 L224.5 1026.6 L225.5 1026.3 L226.5 1026.7 L227.5 1026.7 L228.5 1026.9 L229.5 1027.1 L230.5 1026.4 L231.5 1027.2 L232.5 1026.9 L233.5 1027.2 L234.5 1027.1 L235.5 1026.8 L236.5 1027.2 L237.5 1026.8 L238.5 1027.1 L239.5 1026.7 L240.5 1026.7 L241.5 1026.8 L242.5 1027.1 L243.5 1026.7 L244.5 1026.4 L245.5 1026.8 L246.5 1026.2 L247.5 1026.1 L248.5 1025.8 L249.5 1026 L250.5 1025.9 L251.5 1025.6 L252.5 1025.3 L253.5 1025.6 L254.5 1025.7 L255.5 1025.5 L256.5 1025.4 L257.5 1025.3 L258.5 1025.5 L259.5 1026 L260.5 1025.7 L261.5 1025.3 L262.5 1025.9 L263.5 1025.6 L264.5 1026.3 L265.5 1025.7 L266.5 1025.8 L267.5 1025.9 L268.5 1025.9 L269.5 1025.8 L270.5 1025.8 L271.5 1025.7 L272.5 1025.6 L273.5 1025.7 L274.5 1025.4 L275.5 1025.6 L276.5 1025.5 L277.5 1025.6 L278.5 1025.5 L279.5 1025.6 L280.5 1025.8 L281.5 1025.6 L282.5 1025.7 L283.5 1025.8 L284.5 1025.8 L285.5 1025.9 L286.5 1026.1 L287.5 1025.7 L288.5 1026.4 L289.5 1026.2 L290.5 1025.5 L291.5 1026.7 L292.5 1026.4 L293.5 1027.1 L294.5 1026.8 L295.5 1027.1 L296.5 1027.4 L297.5 1027.2 L298.5 1027.2 L299.5 1027.5 L300.5 1028 L301.5 1028 L302.5 1028.1 L303.5 1027.9 L304.5 1027.9 L305.5 1028.1 L306.5 1027.9 L307.5 1027.6 L308.5 1027.9 L309.5 1027.6 L310.5 1027.5 L311.5 1027.7 L312.5 1027.6 L313.5 1027.8 L314.5 1027.6 L315.5 1027.4 L316.5 1027.5 L317.5 1027.4 L318.5 1027.4 L319.5 1027.8 L320.5 1027.6 L321.5 1027.5 L322.5 1027.5 L323.5 1027.5 L324.5 1027.6 L325.5 1027.3 L326.5 1027.8 L327.5 1027.6 L328.5 1027.9 L329.5 1028 L330.5 1027.8 L331.5 1027.4 L332.5 1027.4 L333.5 1027.8 L334.5 1027.8 L335.5 1027.2 L336.5 1027.2 L337.5 1027.6 L338.5 1027.3 L339.5 1027.7 L340.5 1027.3 L341.5 1027.3 L342.5 1027 L343.5 1026.8 L344.5 1026.5 L345.5 1026.1 L346.5 1027 L347.5 1026.9 L348.5 1026.6 L349.5 1027 L350.5 1026.4 L351.5 1027.1 L352.5 1026.9 L353.5 1027.3 L354.5 1026.5 L355.5 1027.3 L356.5 1025.6 L357.5 1022.2 L358.5 973.3 L359.5 1015.3 L360.5 930.1 L361.5 1015.2 L362.5 935.7 L363.5 1015.2 L364.5 938.6 L365.5 1015.7 L366.5 938.1 L367.5 1015.9 L368.5 942.9 L369.5 1015 L370.5 974.6 L371.5 1019.6 L372.5 995.1 L373.5 1021 L374.5 997.7 L375.5 1014.9 L376.5 967 L377.5 1015 L378.5 939.7 L379.5 1014.5 L380.5 930 L381.5 1014.6 L382.5 934.8 L383.5 1014.7 L384.5 968.9 L385.5 1023.1 L386.5 1021.5 L387.5 1024.9 L388.5 1026.6 L389.5 1026.4 L390.5 1026.6 L391.5 1026.7 L392.5 1026.7 L393.5 1026.7 L394.5 1026.5 L395.5 1026.3 L396.5 1026.8 L397.5 1026.4 L398.5 1026.7 L399.5 1026.4 L400.5 1026.9 L401.5 1026.1 L402.5 1025.7 L403.5 1025.9 L404.5 1026.2 L405.5 1026.3 L406.5 1026.1 L407.5 1025.8 L408.5 1026 L409.5 1025.3 L410.5 1025.3 L411.5 1025.2 L412.5 1025.6 L413.5 1025.8 L414.5 1024.9 L415.5 1018.7 L416.5 1011.1 L417.5 1009.6 L418.5 1009.8 L419.5 1011.9 L420.5 1019.1 L421.5 1025.5 L422.5 1026.4 L423.5 1026.4 L424.5 1026.2 L425.5 1026.9 L426.5 1026.6 L427.5 1026.7 L428.5 1026.8 L429.5 1027 L430.5 1026.9 L431.5 1027.1 L432.5 1027.4 L433.5 1026.8 L434.5 1026.6 L435.5 1027.4 L436.5 1027.2 L437.5 1027.3 L438.5 1027.3 L439.5 1027.1 L440.5 1027.2 L441.5 1026.8 L442.5 1027.2 L443.5 1027.3 L444.5 1027 L445.5 1027.2 L446.5 1027.4 L447.5 1027.6 L448.5 1027.4 L449.5 1025.8 L450.5 1020.1 L451.5 1014.8 L452.5 1011.9 L453.5 1011.9 L454.5 1012.1 L455.5 1012.4 L456.5 1015 L457.5 1020.3 L458.5 1025.8 L459.5 1028.1 L460.5 1028.3 L461.5 1028.2 L462.5 1028.2 L463.5 1028.5 L464.5 1028.3 L465.5 1028.3 L466.5 1028.2 L467.5 1028 L468.5 1027.8 L469.5 1028.2 L470.5 1027.7 L471.5 1027.8 L472.5 1027.3 L473.5 1027.1 L474.5 1027.1 L475.5 1027.2 L476.5 1027 L477.5 1027.4 L478.5 1027.1 L479.5 1027.1 L480.5 1027.6 L481.5 1027.2 L482.5 1027.2 L483.5 1028 L484.5 1027.5 L485.5 1027.4 L486.5 1027.3 L487.5 1027.8 L488.5 1027.8 L489.5 1027 L490.5 1027.6 L491.5 1027.7 L492.5 1027.8 L493.5 1027.3 L494.5 1027.6 L495.5 1028.1 L496.5 1027.9 L497.5 1027.3 L498.5 1027.6 L499.5 1027.3 L500.5 1027.7 L501.5 1026.7 L502.5 1027.6 L503.5 1027.4 L504.5 1027.6 L505.5 1027 L506.5 1027.2 L507.5 1027 L508.5 1027.4 L509.5 1027.3 L510.5 1027.7 L511.5 1027.5 L512.5 1026.8 L513.5 1027.4 L514.5 1027.4 L515.5 1027.7 L516.5 1027.7 L517.5 1027.3 L518.5 1027.5 L519.5 1027.9 L520.5 1027.4 L521.5 1027.6 L522.5 1026.7 L523.5 1025 L524.5 1018.8 L525.5 1006.7 L526.5 992 L527.5 983.5 L528.5 987.2 L529.5 1020.9 L530.5 1008.6 L531.5 1013.9 L532.5 1004.2 L533.5 1012.6 L534.5 1007.3 L535.5 1012.3 L536.5 1001.3 L537.5 1012.6 L538.5 1007.9 L539.5 1012 L540.5 999.6 L541.5 1015.8 L542.5 964.5 L543.5 964.2 L544.5 979.7 L545.5 998.6 L546.5 1008.6 L547.5 1011.9 L548.5 1014.1 L549.5 1018.7 L550.5 1023.4 L551.5 1025.1 L552.5 1025.8 L553.5 1026.3 L554.5 1026.5 L555.5 1026 L556.5 1026 L557.5 1026.2 L558.5 1026.2 L559.5 1025.6 L560.5 1025.5 L561.5 1025 L562.5 1023.3 L563.5 1021.8 L564.5 1021.1 L565.5 1019.3 L566.5 1019.6 L567.5 1020 L568.5 1020.5 L569.5 1022.4 L570.5 1024 L571.5 1024.7 L572.5 1025 L573.5 1025.9 L574.5 1026.9 L575.5 1026.4 L576.5 1027.1 L577.5 1026.6 L578.5 1027 L579.5 1027 L580.5 1027.3 L581.5 1027.6 L582.5 1027.6 L583.5 1027.5 L584.5 1027.8 L585.5 1027.9 L586.5 1028 L587.5 1028 L588.5 1028 L589.5 1028.3 L590.5 1028.8 L591.5 1028.3 L592.5 1028.4 L593.5 1028.1 L594.5 1028.1 L595.5 1028.6 L596.5 1028.1 L597.5 1028.3 L598.5 1028.3 L599.5 1027.9 L600.5 1028.3 L601.5 1028.2 L602.5 1028.1 L603.5 1027.7 L604.5 1027.9 L605.5 1027.4 L606.5 1027.9 L607.5 1027.9 L608.5 1027.7 L609.5 1027.9 L610.5 1027.5 L611.5 1027.7 L612.5 1027.6 L613.5 1028 L614.5 1027.9 L615.5 1028.3 L616.5 1027.8 L617.5 1028.2 L618.5 1028 L619.5 1028.1 L620.5 1028.2 L621.5 1028.4 L622.5 1028.3 L623.5 1027.6 L624.5 1028 L625.5 1027.6 L626.5 1027.9 L627.5 1027.5 L628.5 1027.9 L629.5 1027.8 L630.5 1027.5 L631.5 1027.2 L632.5 1027 L633.5 1027 L634.5 1027.3 L635.5 1027.5 L636.5 1027.6 L637.5 1027.6 L638.5 1027.1 L639.5 1027.4 L640.5 1027.6 L641.5 1027.6 L642.5 1027.5 L643.5 1027.3 L644.5 1028.1 L645.5 1027.7 L646.5 1027.4 L647.5 1028 L648.5 1028 L649.5 1028 L650.5 1028 L651.5 1027.8 L652.5 1028.4 L653.5 1028.1 L654.5 1027.6 L655.5 1028 L656.5 1027.4 L657.5 1027.9 L658.5 1026.8 L659.5 1025.2 L660.5 1022.5 L661.5 1019.4 L662.5 1018 L663.5 1016.5 L664.5 1016.2 L665.5 1015.9 L666.5 1015.8 L667.5 1015.6 L668.5 1016.3 L669.5 1017.1 L670.5 1019.2 L671.5 1021.4 L672.5 1024.1 L673.5 1026.1 L674.5 1026.9 L675.5 1027 L676.5 1026.5 L677.5 1027 L678.5 1027.1 L679.5 1027.1 L680.5 1026.9 L681.5 1027 L682.5 1027.2 L683.5 1027.2 L684.5 1026.9 L685.5 1026.8 L686.5 1026.7 L687.5 1026.9 L688.5 1026.6 L689.5 1026.5 L690.5 1026.7 L691.5 1026 L692.5 1025.7 L693.5 1025.7 L694.5 1026 L695.5 1025.4 L696.5 1024.6 L697.5 1024.8 L698.5 1024.4 L699.5 1024.1 L700.5 1023.3 L701.5 1023.3 L702.5 1023.1 L703.5 1023.3 L704.5 1022.9 L705.5 1023 L706.5 1023 L707.5 1023.7 L708.5 1023.7 L709.5 1024.2 L710.5 1024.3 L711.5 1024.7 L712.5 1024.5 L713.5 1024.9 L714.5 1024.6 L715.5 1024.5 L716.5 1024.8 L717.5 1024.2 L718.5 1024.5 L719.5 1024.6 L720.5 1024.6 L721.5 1024.8 L722.5 1025.3 L723.5 1025.2 L724.5 1026.1 L725.5 1026.5 L726.5 1026.5 L727.5 1026.7 L728.5 1026.6 L729.5 1026.8 L730.5 1026.8 L731.5 1027 L732.5 1027.2 L733.5 1026.2 L734.5 1026.5 L735.5 1026 L736.5 1025.8 L737.5 1025.5 L738.5 1025.2 L739.5 1025.2 L740.5 1025.4 L741.5 1025.8 L742.5 1025.8 L743.5 1026.5 L744.5 1026.9 L745.5 1026.9 L746.5 1027.4 L747.5 1028 L748.5 1027.6 L749.5 1027.9 L750.5 1028.4 L751.5 1028.1 L752.5 1027.1 L753.5 1025.5 L754.5 1023.5 L755.5 1020.7 L756.5 1017.5 L757.5 1015.9 L758.5 1017 L759.5 1019.1 L760.5 1021.5 L761.5 1024.2 L762.5 1026.1 L763.5 1027.3 L764.5 1027.7 L765.5 1027.6 L766.5 1027.2 L767.5 1028.2 L768.5 1027.4 L769.5 1027.8 L770.5 1027.3 L771.5 1025.9 L772.5 1024.1 L773.5 1021.4 L774.5 1019.1 L775.5 1017.9 L776.5 1018.2 L777.5 1020.4 L778.5 1022.6 L779.5 1025.6 L780.5 1027.4 L781.5 1027.1 L782.5 1027.8 L783.5 1028.4 L784.5 1028.4 L785.5 1028.2 L786.5 1028.2 L787.5 1028.3 L788.5 1028.1 L789.5 1028.3 L790.5 1028.4 L791.5 1028.4 L792.5 1028.5 L793.5 1028.1 L794.5 1028.1 L795.5 1027.4 L796.5 1027.3 L797.5 1025.7 L798.5 1022.9 L799.5 1016.8 L800.5 1007.9 L801.5 1000.5 L802.5 997.8 L803.5 1001.7 L804.5 1009.4 L805.5 1017.6 L806.5 1022.3 L807.5 1024.5 L808.5 1023.7 L809.5 1021.3 L810.5 1018.7 L811.5 1016.8 L812.5 1015.1 L813.5 1014.7 L814.5 1016.4 L815.5 1018.4 L816.5 1021.7 L817.5 1023.4 L818.5 1025 L819.5 1025.6 L820.5 1027 L821.5 1027.1 L822.5 1027 L823.5 1026.8 L824.5 1026.9 L825.5 1026.9 L826.5 1026.7 L827.5 1026.4 L828.5 1026.5 L829.5 1025.9 L830.5 1026.2 L831.5 1026.3 L832.5 1026.2 L833.5 1026.3 L834.5 1026.5 L835.5 1026.4 L836.5 1026.1 L837.5 1026.5 L838.5 1026.8 L839.5 1026.8 L840.5 1026.8 L841.5 1027 L842.5 1026.7 L843.5 1026.1 L844.5 1026.7 L845.5 1026.6 L846.5 1026.9 L847.5 1027.1 L848.5 1026.8 L849.5 1027.2 L850.5 1026.6 L851.5 1027.1 L852.5 1026.7 L853.5 1026.5 L854.5 1025.7 L855.5 1024.5 L856.5 1021.9 L857.5 1017.8 L858.5 1015.3 L859.5 1015.6 L860.5 1017.7 L861.5 1024.3 L862.5 1022.5 L863.5 1021.7 L864.5 1019.4 L865.5 1020.8 L866.5 1017.7 L867.5 1019.9 L868.5 1021.1 L869.5 1020.4 L870.5 1018.1 L871.5 1020 L872.5 1016.7 L873.5 1020.4 L874.5 1023 L875.5 1025 L876.5 1025.2 L877.5 1023.9 L878.5 1021.4 L879.5 1020.7 L880.5 1019.7 L881.5 1021.7 L882.5 1023.9 L883.5 1025.4 L884.5 1025.3 L885.5 1022.8 L886.5 1019.4 L887.5 1024.4 L888.5 1016.8 L889.5 1018.8 L890.5 1023.2 L891.5 1025.4 L892.5 1026.9 L893.5 1027.3 L894.5 1026.5 L895.5 1024.7 L896.5 1022 L897.5 1017.6 L898.5 1013.3 L899.5 1008.8 L900.5 1005.3 L901.5 1004.6 L902.5 1006.3 L903.5 1009.6 L904.5 1014.6 L905.5 1019.1 L906.5 1023.1 L907.5 1025.4 L908.5 1026.7 L909.5 1028.1 L910.5 1028.4 L911.5 1028.5 L912.5 1028.2 L913.5 1028.3 L914.5 1028.5 L915.5 1028.3 L916.5 1028.1 L917.5 1028.2 L918.5 1028.3 L919.5 1028 L920.5 1028.1 L921.5 1027.9 L922.5 1028.3 L923.5 1028 L924.5 1028 L925.5 1028.3 L926.5 1028.2 L927.5 1028 L928.5 1028.4 L929.5 1027.9 L930.5 1028 L931.5 1028.5 L932.5 1028.4 L933.5 1028.8 L934.5 1028.6 L935.5 1028.7 L936.5 1029 L937.5 1028.6 L938.5 1028.4 L939.5 1029 L940.5 1028.7 L941.5 1028.9 L942.5 1028.5 L943.5 1028.5 L944.5 1028.2 L945.5 1027.5 L946.5 1026.8 L947.5 1026.1 L948.5 1024.9 L949.5 1024.1 L950.5 1023.1 L951.5 1023 L952.5 1023.3 L953.5 1024.2 L954.5 1025.3 L955.5 1026.1 L956.5 1026.8 L957.5 1027.4 L958.5 1027.4 L959.5 1027.3 L960.5 1027.2 L961.5 1027.8 L962.5 1027.5 L963.5 1026.7 L964.5 1027.4 L965.5 1027.6"/>
</g>
<rect x="335.3" y="90" width="78" height="966" fill="none" stroke="#4a4a4a" stroke-width="2.8"/>
<line x1="414" y1="112.8" x2="1109" y2="112.8" stroke="#555" stroke-width="2.4"/>
<polyline points="1076,103.3 1110.5,113.2 1076,123.1" fill="none" stroke="#111" stroke-width="3.6" stroke-linecap="round" stroke-linejoin="miter"/>
<rect x="146.7" y="34" width="821.3" height="1074" fill="none" stroke="#111" stroke-width="4.8" stroke-linejoin="round"/>
<line x1="311" y1="1108" x2="311" y2="1095" stroke="#111" stroke-width="4.4"/>
<line x1="475.3" y1="1108" x2="475.3" y2="1095" stroke="#111" stroke-width="4.4"/>
<line x1="639.6" y1="1108" x2="639.6" y2="1095" stroke="#111" stroke-width="4.4"/>
<line x1="803.9" y1="1108" x2="803.9" y2="1095" stroke="#111" stroke-width="4.4"/>
<text x="126.9" y="1164.6" class="bs" font-size="38.5">10</text>
<text x="290.8" y="1164.6" class="bs" font-size="38.5">20</text>
<text x="456.3" y="1164.6" class="bs" font-size="38.5">30</text>
<text x="621.7" y="1164.6" class="bs" font-size="38.5">40</text>
<text x="785.8" y="1164.6" class="bs" font-size="38.5">50</text>
<text x="949.3" y="1164.6" class="bs" font-size="38.5">60</text>
<text x="495.1" y="1227" class="bs" font-size="51">2</text>
<text x="522.4" y="1227" class="is" font-size="52" textLength="30.4" lengthAdjust="spacingAndGlyphs">θ</text>
<text x="550.4" y="1227" class="rs" font-size="50" textLength="14.6" lengthAdjust="spacingAndGlyphs">/</text>
<text x="563.4" y="1227" class="rs" font-size="52" textLength="18.3" lengthAdjust="spacingAndGlyphs">(</text>
<text x="593.7" y="1212.3" class="bs" font-size="30">o</text>
<text x="622.3" y="1227" class="rs" font-size="52" textLength="17.9" lengthAdjust="spacingAndGlyphs">)</text>
<text transform="translate(77,620) rotate(-90)" text-anchor="middle" class="bs" font-size="56">Intensity (a.u.)</text>
<text x="86.5" y="83" class="bs" font-size="87">a</text>
<text x="156.8" y="138.8" class="bs" font-size="41" textLength="158.9" lengthAdjust="spacingAndGlyphs">After 1 h</text>
<text x="165.8" y="185.9" class="bs" font-size="41" textLength="96.4" lengthAdjust="spacingAndGlyphs">in air</text>
<text x="159" y="401.9" class="bs" font-size="42">120</text>
<text x="235.1" y="401.9" class="bs" font-size="42" textLength="38.5" lengthAdjust="spacingAndGlyphs">mi</text>
<text x="280.1" y="401.9" class="bs" font-size="42">n</text>
<text x="159" y="551.4" class="bs" font-size="42">30</text>
<text x="215.1" y="551.4" class="bs" font-size="42" textLength="38.5" lengthAdjust="spacingAndGlyphs">mi</text>
<text x="260.9" y="551.4" class="bs" font-size="42">n</text>
<text x="158.8" y="708.4" class="bs" font-size="42">20</text>
<text x="215.1" y="708.4" class="bs" font-size="42" textLength="38.5" lengthAdjust="spacingAndGlyphs">mi</text>
<text x="260.9" y="708.4" class="bs" font-size="42">n</text>
<text x="158.3" y="854" class="bs" font-size="42">10</text>
<text x="215.1" y="854" class="bs" font-size="42" textLength="38.5" lengthAdjust="spacingAndGlyphs">mi</text>
<text x="260.9" y="854" class="bs" font-size="42">n</text>
<text x="160" y="1001.3" class="bs" font-size="42">0</text>
<text x="193.4" y="1001.3" class="bs" font-size="42" textLength="38.5" lengthAdjust="spacingAndGlyphs">mi</text>
<text x="239.1" y="1001.3" class="bs" font-size="42">n</text>
<g fill="none" stroke-width="4.6">
<path d="M1247 326.6 H1571" stroke="#1a5418" stroke-dasharray="27 15 33 15"/>
<path d="M1310.6 326.6 V881" stroke="#1a5418" stroke-width="4" stroke-dasharray="33 14"/>
<path d="M1568 326.6 V881" stroke="#1a5418" stroke-width="4" stroke-dasharray="33 14"/>
<path d="M1486.5 221.3 H1446 V731" stroke="#14208f" stroke-dasharray="79 14 33 14"/>
<path d="M1534.5 221.3 H1501.3 V731" stroke="#14208f" stroke-dasharray="71 14 33 14"/>
<path d="M1302 1057.4 H1629.5" stroke="#ec1a1a" stroke-dasharray="33 15"/>
<path d="M1353 663 V1042" stroke="#ec1a1a" stroke-width="4" stroke-dasharray="33 14"/>
<path d="M1460 663 V1042" stroke="#ec1a1a" stroke-width="4" stroke-dasharray="33 14"/>
<path d="M1627.7 663 V1042" stroke="#ec1a1a" stroke-width="4" stroke-dasharray="33 14"/>
</g>
<g fill="none" stroke="#111" stroke-width="4.8" stroke-linejoin="round">
<path d="M1126 192.6 L1127.5 192 L1129 191.9 L1130.5 191.3 L1132 192 L1133.5 191.9 L1135 191.8 L1136.5 192 L1138 192 L1139.5 191.5 L1141 191.5 L1142.5 191.6 L1144 191.9 L1145.5 191.8 L1147 191.2 L1148.5 191.2 L1150 191.7 L1151.5 191.9 L1153 191.3 L1154.5 191.1 L1156 191.6 L1157.5 191.1 L1159 191.3 L1160.5 191.5 L1162 191.2 L1163.5 191 L1165 191.2 L1166.5 190.7 L1168 190.9 L1169.5 190.7 L1171 190.8 L1172.5 190.7 L1174 190.8 L1175.5 190.7 L1177 190.9 L1178.5 190.9 L1180 190.9 L1181.5 191.3 L1183 190.4 L1184.5 191.3 L1186 190.8 L1187.5 190.6 L1189 190.9 L1190.5 191 L1192 191.4 L1193.5 190.8 L1195 191.2 L1196.5 191.2 L1198 190.7 L1199.5 190.9 L1201 191.5 L1202.5 191.5 L1204 191.7 L1205.5 191.6 L1207 191.6 L1208.5 191.5 L1210 191.9 L1211.5 191.3 L1213 191.6 L1214.5 191.7 L1216 191.2 L1217.5 192.1 L1219 191.4 L1220.5 191.7 L1222 192.4 L1223.5 191.5 L1225 191.5 L1226.5 192.2 L1228 191.4 L1229.5 191.5 L1231 191.8 L1232.5 191.7 L1234 191.8 L1235.5 191.6 L1237 191.9 L1238.5 191.7 L1240 191.6 L1241.5 191.1 L1243 191 L1244.5 190.6 L1246 191.3 L1247.5 190.5 L1249 191.2 L1250.5 191.4 L1252 190.5 L1253.5 190.5 L1255 190.5 L1256.5 190.8 L1258 190.2 L1259.5 190.3 L1261 190.1 L1262.5 190.1 L1264 190.5 L1265.5 189.7 L1267 189.9 L1268.5 189.9 L1270 190 L1271.5 189.3 L1273 189.9 L1274.5 189.6 L1276 189.6 L1277.5 189.3 L1279 188.7 L1280.5 188.9 L1282 189.3 L1283.5 189 L1285 188.8 L1286.5 189.3 L1288 189.3 L1289.5 188.6 L1291 189 L1292.5 187.7 L1294 187.6 L1295.5 188.3 L1297 187.8 L1298.5 187.9 L1300 187.6 L1301.5 187.1 L1303 187 L1304.5 186.5 L1306 185.5 L1307.5 185.5 L1309 184.9 L1310.5 184.6 L1312 182.8 L1313.5 182.1 L1315 180.7 L1316.5 179.4 L1318 178.3 L1319.5 176 L1321 173.7 L1322.5 171.5 L1324 169 L1325.5 165.5 L1327 162.5 L1328.5 159.5 L1330 155.4 L1331.5 151.1 L1333 146.6 L1334.5 142.2 L1336 137.1 L1337.5 133.1 L1339 128.1 L1340.5 123.2 L1342 118.1 L1343.5 113.8 L1345 110 L1346.5 106.1 L1348 102.7 L1349.5 100.3 L1351 98.5 L1352.5 96.9 L1354 96.6 L1355.5 97.1 L1357 98.3 L1358.5 100.9 L1360 103.6 L1361.5 106.9 L1363 110.2 L1364.5 114.4 L1366 119.2 L1367.5 123.7 L1369 128.5 L1370.5 133 L1372 138.1 L1373.5 142.9 L1375 147.2 L1376.5 151.3 L1378 154.8 L1379.5 158.7 L1381 161.6 L1382.5 165.1 L1384 167.5 L1385.5 169.9 L1387 172.1 L1388.5 174.5 L1390 176.1 L1391.5 177.5 L1393 178.4 L1394.5 179.9 L1396 180.3 L1397.5 182 L1399 182.1 L1400.5 182.7 L1402 183 L1403.5 182.9 L1405 183.1 L1406.5 183.6 L1408 184 L1409.5 183.1 L1411 183.1 L1412.5 182.9 L1414 182 L1415.5 181.4 L1417 181 L1418.5 180.3 L1420 179.1 L1421.5 178.4 L1423 176.4 L1424.5 174.8 L1426 173.2 L1427.5 171 L1429 167.5 L1430.5 165.1 L1432 162.5 L1433.5 158.4 L1435 154.9 L1436.5 150.9 L1438 146.7 L1439.5 142.5 L1441 138.4 L1442.5 134.2 L1444 129.6 L1445.5 124.6 L1447 119.6 L1448.5 115.9 L1450 111.8 L1451.5 108.5 L1453 105.3 L1454.5 102.4 L1456 101.3 L1457.5 99.5 L1459 99.7 L1460.5 100.6 L1462 102 L1463.5 104.4 L1465 106 L1466.5 110.1 L1468 114 L1469.5 117.8 L1471 122.4 L1472.5 126.4 L1474 131.5 L1475.5 136.1 L1477 140.2 L1478.5 144.7 L1480 149.1 L1481.5 153 L1483 157.3 L1484.5 160.6 L1486 164.2 L1487.5 167.1 L1489 169.5 L1490.5 171.9 L1492 173.9 L1493.5 175.9 L1495 177.6 L1496.5 179.5 L1498 180.4 L1499.5 181.9 L1501 182.9 L1502.5 183.6 L1504 184.4 L1505.5 185.5 L1507 186.2 L1508.5 185.9 L1510 186.5 L1511.5 186.8 L1513 187.2 L1514.5 188 L1516 188 L1517.5 188.4 L1519 188.7 L1520.5 188.3 L1522 188.5 L1523.5 188.7 L1525 189.2 L1526.5 189 L1528 189.3 L1529.5 189.6 L1531 189.7 L1532.5 189.6 L1534 189.3 L1535.5 189.1 L1537 190 L1538.5 189.8 L1540 189.5 L1541.5 189.6 L1543 189.7 L1544.5 189.3 L1546 189.9 L1547.5 189.6 L1549 189.7 L1550.5 190 L1552 189.7 L1553.5 189.9 L1555 189.8 L1556.5 189.6 L1558 189.5 L1559.5 190 L1561 189.3 L1562.5 189.7 L1564 188.8 L1565.5 189.1 L1567 188.8 L1568.5 188.3 L1570 187.5 L1571.5 188.5 L1573 187.4 L1574.5 187.1 L1576 187 L1577.5 186.6 L1579 186.1 L1580.5 185.3 L1582 184.3 L1583.5 184.2 L1585 182.7 L1586.5 181.9 L1588 180.8 L1589.5 179.5 L1591 177.4 L1592.5 175.5 L1594 173.4 L1595.5 170.5 L1597 168.1 L1598.5 165.1 L1600 161.8 L1601.5 158.7 L1603 154.8 L1604.5 151.3 L1606 147 L1607.5 141.4 L1609 137.4 L1610.5 132.3 L1612 127.9 L1613.5 123 L1615 118.5 L1616.5 113.9 L1618 109.8 L1619.5 105.7 L1621 101.8 L1622.5 99.5 L1624 97.6 L1625.5 96.5 L1627 96 L1628.5 97.3 L1630 98.1 L1631.5 100.6 L1633 102.9 L1634.5 106.9 L1636 110 L1637.5 114.8 L1639 118.8 L1640.5 124.1 L1642 129.4 L1643.5 133.3 L1645 138.4 L1646.5 143.5 L1648 147.9 L1649.5 151.9 L1651 156.7 L1652.5 160.2 L1654 164.2 L1655.5 167.1 L1657 169.6 L1658.5 172.5 L1660 175.5 L1661.5 176.7 L1663 178.9 L1664.5 180.8 L1666 182.4 L1667.5 183.5 L1669 183.9 L1670.5 185.9 L1672 185.9 L1673.5 186.6 L1675 187.2 L1676.5 187.6 L1678 187.7 L1679.5 188.2 L1681 189 L1682.5 188.4 L1684 188.3 L1685.5 189.3 L1687 189.4 L1688.5 189.6 L1690 190 L1691.5 189.4 L1693 189.7 L1694.5 189.9 L1696 190.2 L1697.5 190.2 L1699 189.7 L1700.5 189.6 L1702 190 L1703.5 189.6 L1705 190.5 L1706.5 190.1 L1708 190.2 L1709.5 190.1 L1711 190.9 L1712.5 190.6 L1714 190.4 L1715.5 190.8 L1717 190.7 L1718.5 190.9 L1720 191.2 L1721.5 190.8 L1723 191.1 L1724.5 191.2 L1726 191.5 L1727.5 191.4 L1729 191.3 L1730.5 191.2 L1732 191.6 L1733.5 191.2 L1735 191.8 L1736.5 191.7 L1738 192 L1739.5 191.7 L1741 191.7 L1742.5 191.8 L1744 192.4 L1745.5 192.1 L1747 192.2 L1748.5 191.8 L1750 192.4 L1751.5 191.4 L1753 192.9 L1754.5 192.5 L1756 192.6 L1757.5 192.2 L1759 192.3 L1760.5 192.8 L1762 192.6 L1763.5 192.8 L1765 193.1 L1766.5 192.9 L1768 192.1 L1769.5 192.4 L1771 192.4"/>
<path d="M1126 427.7 L1127.5 427.3 L1129 427.5 L1130.5 426.9 L1132 427.6 L1133.5 426.8 L1135 427.3 L1136.5 427.2 L1138 426.9 L1139.5 428 L1141 426.9 L1142.5 427.1 L1144 427.3 L1145.5 426.6 L1147 427.3 L1148.5 426.8 L1150 427.1 L1151.5 426.5 L1153 426.5 L1154.5 427.1 L1156 426.9 L1157.5 426.8 L1159 426.9 L1160.5 426.9 L1162 426.4 L1163.5 426.1 L1165 426.3 L1166.5 426.3 L1168 426.2 L1169.5 426.7 L1171 426.7 L1172.5 426.9 L1174 427 L1175.5 426.9 L1177 427 L1178.5 427.1 L1180 426.8 L1181.5 427 L1183 427.2 L1184.5 427.1 L1186 427.1 L1187.5 427.3 L1189 427.8 L1190.5 427.5 L1192 427.4 L1193.5 427.4 L1195 427.5 L1196.5 428.3 L1198 426.7 L1199.5 427.8 L1201 427.8 L1202.5 428 L1204 427.4 L1205.5 428.4 L1207 428 L1208.5 427.7 L1210 427.8 L1211.5 427.5 L1213 427.7 L1214.5 427.6 L1216 427.9 L1217.5 427.7 L1219 427.6 L1220.5 427.8 L1222 427.7 L1223.5 427.5 L1225 427 L1226.5 427.7 L1228 426.9 L1229.5 426.9 L1231 427.1 L1232.5 427.3 L1234 427.4 L1235.5 426.4 L1237 427.3 L1238.5 427.3 L1240 426.6 L1241.5 426.6 L1243 426.4 L1244.5 426.3 L1246 426 L1247.5 425.8 L1249 426.2 L1250.5 426.2 L1252 426.6 L1253.5 425.7 L1255 425.2 L1256.5 425.8 L1258 425.5 L1259.5 425.7 L1261 425.3 L1262.5 424.9 L1264 425 L1265.5 425.2 L1267 424.9 L1268.5 424.3 L1270 424.6 L1271.5 423.6 L1273 423.5 L1274.5 423.3 L1276 422.4 L1277.5 421.9 L1279 421.7 L1280.5 420.9 L1282 420.1 L1283.5 419.1 L1285 418 L1286.5 417 L1288 417 L1289.5 414.7 L1291 414 L1292.5 412 L1294 411.2 L1295.5 409.7 L1297 408 L1298.5 406.2 L1300 404.6 L1301.5 404 L1303 402.1 L1304.5 401 L1306 401 L1307.5 400.3 L1309 399.5 L1310.5 399.2 L1312 399.2 L1313.5 399.9 L1315 400.3 L1316.5 400.8 L1318 402.1 L1319.5 403.6 L1321 404.4 L1322.5 405.9 L1324 407.7 L1325.5 409.7 L1327 410.6 L1328.5 412 L1330 414 L1331.5 414.4 L1333 415.7 L1334.5 417.3 L1336 418.4 L1337.5 419.1 L1339 419 L1340.5 420.8 L1342 421.4 L1343.5 421.8 L1345 422.5 L1346.5 423.1 L1348 423 L1349.5 423 L1351 422.9 L1352.5 423.7 L1354 423.6 L1355.5 423.7 L1357 423.6 L1358.5 424.1 L1360 424.2 L1361.5 424.1 L1363 423.7 L1364.5 424.3 L1366 424 L1367.5 423.2 L1369 424 L1370.5 423.2 L1372 423.4 L1373.5 424 L1375 423.8 L1376.5 423.4 L1378 423.2 L1379.5 423.5 L1381 422.8 L1382.5 423.4 L1384 423.1 L1385.5 423.3 L1387 422.9 L1388.5 422.5 L1390 422.7 L1391.5 422.4 L1393 421.9 L1394.5 421.8 L1396 421.6 L1397.5 421.6 L1399 421.6 L1400.5 421 L1402 420.2 L1403.5 419.9 L1405 419.5 L1406.5 418.9 L1408 417.3 L1409.5 416.5 L1411 414.8 L1412.5 412.5 L1414 410.5 L1415.5 408.1 L1417 404.8 L1418.5 401 L1420 396.4 L1421.5 391.4 L1423 384.9 L1424.5 377.7 L1426 370.4 L1427.5 361.4 L1429 352.3 L1430.5 341.6 L1432 331.5 L1433.5 319.6 L1435 308.3 L1436.5 297.7 L1438 287.3 L1439.5 276.6 L1441 268.6 L1442.5 261.4 L1444 256.1 L1445.5 252.8 L1447 251.6 L1448.5 253.5 L1450 257.6 L1451.5 263.6 L1453 270.6 L1454.5 278.7 L1456 287.9 L1457.5 296.7 L1459 306.7 L1460.5 315.5 L1462 324.8 L1463.5 332.6 L1465 339.7 L1466.5 346.4 L1468 351.8 L1469.5 357.2 L1471 360.7 L1472.5 364.1 L1474 366.7 L1475.5 367.8 L1477 368.5 L1478.5 369.1 L1480 367.8 L1481.5 366.6 L1483 364.4 L1484.5 361.9 L1486 359.8 L1487.5 356.6 L1489 353.2 L1490.5 351.4 L1492 348.6 L1493.5 345.8 L1495 344.6 L1496.5 342.8 L1498 341.9 L1499.5 341.9 L1501 343.5 L1502.5 344.7 L1504 347.3 L1505.5 350.5 L1507 354.2 L1508.5 358.1 L1510 362.9 L1511.5 367.6 L1513 372.8 L1514.5 376.8 L1516 382 L1517.5 386 L1519 389.9 L1520.5 393.8 L1522 397.3 L1523.5 400.3 L1525 403 L1526.5 405 L1528 406.3 L1529.5 407.9 L1531 409.5 L1532.5 409.5 L1534 409 L1535.5 409.6 L1537 409.5 L1538.5 408.4 L1540 406.9 L1541.5 405.4 L1543 403.7 L1544.5 401.3 L1546 398.8 L1547.5 396.9 L1549 393.5 L1550.5 391 L1552 387.1 L1553.5 384.3 L1555 381 L1556.5 378.4 L1558 375.2 L1559.5 372.4 L1561 369.9 L1562.5 368.1 L1564 366.8 L1565.5 365.2 L1567 364.9 L1568.5 364.8 L1570 365.2 L1571.5 366.7 L1573 368.7 L1574.5 369.6 L1576 373.1 L1577.5 376.3 L1579 378.7 L1580.5 382.2 L1582 385.6 L1583.5 388.7 L1585 391.9 L1586.5 395.4 L1588 398.4 L1589.5 401 L1591 403.9 L1592.5 406 L1594 408.6 L1595.5 410.8 L1597 412.7 L1598.5 414.3 L1600 416.4 L1601.5 417.6 L1603 418.9 L1604.5 419.4 L1606 420.5 L1607.5 421.3 L1609 422.2 L1610.5 423.3 L1612 424.1 L1613.5 423.9 L1615 424.4 L1616.5 424.5 L1618 424.7 L1619.5 425.4 L1621 425.3 L1622.5 425.3 L1624 426 L1625.5 425.9 L1627 426.2 L1628.5 426.4 L1630 426.7 L1631.5 426.7 L1633 426.9 L1634.5 426.7 L1636 426.8 L1637.5 427 L1639 427 L1640.5 427.2 L1642 427.2 L1643.5 427.8 L1645 427.1 L1646.5 427.3 L1648 427.2 L1649.5 427.6 L1651 427 L1652.5 426.9 L1654 427.6 L1655.5 427.5 L1657 427.3 L1658.5 427 L1660 427.6 L1661.5 427.3 L1663 427 L1664.5 427 L1666 426.9 L1667.5 427.5 L1669 427 L1670.5 426.7 L1672 426.8 L1673.5 427.3 L1675 427.2 L1676.5 426.8 L1678 426.6 L1679.5 426.8 L1681 427 L1682.5 426.8 L1684 426.7 L1685.5 426.9 L1687 426.7 L1688.5 426.6 L1690 426.5 L1691.5 426.7 L1693 426.7 L1694.5 427.1 L1696 427 L1697.5 426.8 L1699 427.4 L1700.5 426.7 L1702 427.4 L1703.5 426.8 L1705 427.1 L1706.5 427.5 L1708 427.6 L1709.5 427.2 L1711 427.5 L1712.5 427.2 L1714 427.5 L1715.5 427.8 L1717 427.6 L1718.5 428.2 L1720 428 L1721.5 428.1 L1723 427.8 L1724.5 428 L1726 428.2 L1727.5 428.4 L1729 428.4 L1730.5 428.1 L1732 428.1 L1733.5 428 L1735 429 L1736.5 428.8 L1738 428.9 L1739.5 428.5 L1741 429.1 L1742.5 428.7 L1744 428.6 L1745.5 428.4 L1747 428.2 L1748.5 428.8 L1750 428.6 L1751.5 428.6 L1753 428.1 L1754.5 427.9 L1756 428.2 L1757.5 428.8 L1759 429 L1760.5 428.2 L1762 428.3 L1763.5 427.9 L1765 428 L1766.5 428.4 L1768 428 L1769.5 428.2 L1771 428.5"/>
<path d="M1126 575.5 L1127.5 575.9 L1129 575.7 L1130.5 575.8 L1132 576 L1133.5 575.7 L1135 576 L1136.5 575.8 L1138 576 L1139.5 575.2 L1141 575.3 L1142.5 575.2 L1144 575.7 L1145.5 575.5 L1147 575.8 L1148.5 575.7 L1150 575.6 L1151.5 576.3 L1153 575.8 L1154.5 575.7 L1156 575.4 L1157.5 576.1 L1159 576.1 L1160.5 575.5 L1162 575.9 L1163.5 576 L1165 575.5 L1166.5 576 L1168 576.5 L1169.5 575.7 L1171 576.3 L1172.5 576.8 L1174 576.1 L1175.5 576.2 L1177 576.4 L1178.5 576.6 L1180 576.6 L1181.5 576 L1183 576.3 L1184.5 576.6 L1186 576.5 L1187.5 576.9 L1189 576.5 L1190.5 576.5 L1192 577.1 L1193.5 576.6 L1195 576.3 L1196.5 576.6 L1198 576.5 L1199.5 576.7 L1201 576.6 L1202.5 576.3 L1204 576.3 L1205.5 576.2 L1207 576.7 L1208.5 576.9 L1210 576.2 L1211.5 576.3 L1213 576.2 L1214.5 575.9 L1216 575.8 L1217.5 575.7 L1219 575.2 L1220.5 575.5 L1222 575.8 L1223.5 575.8 L1225 575.4 L1226.5 575.3 L1228 575.5 L1229.5 575.9 L1231 574.9 L1232.5 574.9 L1234 574.9 L1235.5 575.1 L1237 574.6 L1238.5 574.9 L1240 574.5 L1241.5 574.8 L1243 574.5 L1244.5 574.4 L1246 574.7 L1247.5 574 L1249 574.1 L1250.5 574.4 L1252 574.3 L1253.5 574.1 L1255 573.3 L1256.5 574 L1258 573.8 L1259.5 573.4 L1261 572.8 L1262.5 573.4 L1264 573.4 L1265.5 572.7 L1267 572.6 L1268.5 571.6 L1270 571.4 L1271.5 570.5 L1273 569.7 L1274.5 569.2 L1276 568.1 L1277.5 567 L1279 565.8 L1280.5 564.5 L1282 563 L1283.5 561.4 L1285 559.1 L1286.5 557.5 L1288 554.5 L1289.5 552.6 L1291 550 L1292.5 546.5 L1294 544.2 L1295.5 541.7 L1297 538.5 L1298.5 535.2 L1300 532.2 L1301.5 529.5 L1303 526.7 L1304.5 524.4 L1306 521.9 L1307.5 520.3 L1309 518.6 L1310.5 517.3 L1312 516.7 L1313.5 516.8 L1315 517.7 L1316.5 518.3 L1318 520.3 L1319.5 521.5 L1321 524.1 L1322.5 526.4 L1324 529.5 L1325.5 532.3 L1327 535.2 L1328.5 537.8 L1330 540.9 L1331.5 543.9 L1333 547.2 L1334.5 549.4 L1336 552.3 L1337.5 554.8 L1339 556.5 L1340.5 558.7 L1342 560.1 L1343.5 562.3 L1345 564.1 L1346.5 565 L1348 566.6 L1349.5 567.8 L1351 568.6 L1352.5 569.1 L1354 570 L1355.5 570.3 L1357 570.9 L1358.5 572.2 L1360 571.7 L1361.5 572 L1363 572.5 L1364.5 572.8 L1366 573.1 L1367.5 572.8 L1369 572.9 L1370.5 573.1 L1372 573.7 L1373.5 573.9 L1375 573.5 L1376.5 573.6 L1378 573.8 L1379.5 573.6 L1381 573.8 L1382.5 574.3 L1384 573.6 L1385.5 574.1 L1387 574.3 L1388.5 573.6 L1390 574.2 L1391.5 573.8 L1393 573.5 L1394.5 573.8 L1396 573.4 L1397.5 573 L1399 572.6 L1400.5 572.2 L1402 571.9 L1403.5 571.5 L1405 571.3 L1406.5 570.3 L1408 569.8 L1409.5 568.8 L1411 568.1 L1412.5 566.9 L1414 566.2 L1415.5 564.7 L1417 562.8 L1418.5 561.9 L1420 560.3 L1421.5 559.1 L1423 557.2 L1424.5 555.7 L1426 553.9 L1427.5 551.7 L1429 550.1 L1430.5 548.4 L1432 546.4 L1433.5 546.1 L1435 543.8 L1436.5 541.9 L1438 540.7 L1439.5 540.2 L1441 539.3 L1442.5 538.5 L1444 538.2 L1445.5 538.7 L1447 538.8 L1448.5 539.5 L1450 540 L1451.5 541.2 L1453 541.2 L1454.5 542.9 L1456 543.6 L1457.5 544.6 L1459 546.3 L1460.5 546.5 L1462 548.1 L1463.5 549.1 L1465 550.5 L1466.5 550.5 L1468 551.8 L1469.5 552.5 L1471 553 L1472.5 553.5 L1474 553.8 L1475.5 553.8 L1477 554.3 L1478.5 554 L1480 555 L1481.5 555 L1483 554.3 L1484.5 555 L1486 554.5 L1487.5 554 L1489 554.1 L1490.5 554.4 L1492 554.1 L1493.5 553.7 L1495 554.2 L1496.5 553.8 L1498 553.7 L1499.5 553.5 L1501 554.1 L1502.5 554.3 L1504 553.8 L1505.5 554.2 L1507 554.4 L1508.5 554.8 L1510 554.6 L1511.5 555.8 L1513 555.6 L1514.5 556 L1516 555.9 L1517.5 556.9 L1519 556.6 L1520.5 556.1 L1522 557.1 L1523.5 556.8 L1525 556.5 L1526.5 556.7 L1528 556.2 L1529.5 556.2 L1531 555.6 L1532.5 554.2 L1534 553.8 L1535.5 552.7 L1537 550.1 L1538.5 549.4 L1540 547.1 L1541.5 544.7 L1543 542 L1544.5 538.4 L1546 534.6 L1547.5 531 L1549 526.5 L1550.5 522.1 L1552 516.4 L1553.5 511.7 L1555 507.3 L1556.5 501.1 L1558 495.7 L1559.5 489.9 L1561 484.3 L1562.5 479.5 L1564 474.6 L1565.5 470 L1567 466.3 L1568.5 463.6 L1570 461.1 L1571.5 459.9 L1573 460.4 L1574.5 461.3 L1576 462.7 L1577.5 466 L1579 469.3 L1580.5 473.5 L1582 478 L1583.5 483.7 L1585 489 L1586.5 495 L1588 500.8 L1589.5 507.2 L1591 512.8 L1592.5 518.5 L1594 524.2 L1595.5 529.9 L1597 534.5 L1598.5 538.3 L1600 543 L1601.5 547 L1603 550.3 L1604.5 553.4 L1606 557.1 L1607.5 559.4 L1609 561.7 L1610.5 563.5 L1612 565.4 L1613.5 566.8 L1615 568 L1616.5 569 L1618 569.7 L1619.5 570.6 L1621 571.5 L1622.5 571.9 L1624 572.8 L1625.5 572.8 L1627 573.7 L1628.5 573.3 L1630 574.1 L1631.5 574.6 L1633 574.7 L1634.5 574.5 L1636 575.2 L1637.5 574.9 L1639 575.1 L1640.5 575.1 L1642 574.7 L1643.5 575.4 L1645 575.5 L1646.5 575.6 L1648 575.1 L1649.5 575.7 L1651 575.3 L1652.5 575.2 L1654 575.3 L1655.5 575.7 L1657 575.5 L1658.5 576.1 L1660 575.9 L1661.5 576.1 L1663 575.7 L1664.5 575.5 L1666 575.3 L1667.5 575.8 L1669 576.3 L1670.5 576.3 L1672 575.5 L1673.5 576.1 L1675 576.3 L1676.5 575.8 L1678 576.1 L1679.5 576 L1681 576.3 L1682.5 576.4 L1684 576.3 L1685.5 576.4 L1687 576.3 L1688.5 576.6 L1690 575.7 L1691.5 576.9 L1693 577.1 L1694.5 576.5 L1696 576.9 L1697.5 577.2 L1699 576.9 L1700.5 577 L1702 577.3 L1703.5 577.6 L1705 577 L1706.5 577.6 L1708 577.8 L1709.5 577.3 L1711 577.8 L1712.5 578.2 L1714 577.9 L1715.5 577.9 L1717 578.4 L1718.5 577.9 L1720 578 L1721.5 578.5 L1723 578.7 L1724.5 577.9 L1726 578.2 L1727.5 578.4 L1729 578.7 L1730.5 578.4 L1732 578.1 L1733.5 578.5 L1735 577.6 L1736.5 578.3 L1738 578.5 L1739.5 578.6 L1741 578.4 L1742.5 577.8 L1744 578.5 L1745.5 578 L1747 578 L1748.5 578.5 L1750 577.5 L1751.5 578.7 L1753 578.3 L1754.5 578.2 L1756 577.9 L1757.5 578.1 L1759 578 L1760.5 577.9 L1762 577.3 L1763.5 577.9 L1765 577.8 L1766.5 577.9 L1768 577.8 L1769.5 577.7 L1771 577.6"/>
<path d="M1126 728 L1127.5 727.5 L1129 727.6 L1130.5 727.5 L1132 727 L1133.5 727.6 L1135 727.2 L1136.5 727.7 L1138 727.5 L1139.5 728 L1141 727.7 L1142.5 727.8 L1144 727.5 L1145.5 728.1 L1147 727.9 L1148.5 728.1 L1150 728.3 L1151.5 728.3 L1153 728 L1154.5 727.6 L1156 727.8 L1157.5 728.5 L1159 728.6 L1160.5 728.7 L1162 728.2 L1163.5 728.1 L1165 728.7 L1166.5 728.7 L1168 728.5 L1169.5 728.5 L1171 728.1 L1172.5 728.4 L1174 728.9 L1175.5 728.2 L1177 728.4 L1178.5 728.4 L1180 728.4 L1181.5 727.9 L1183 728.3 L1184.5 728.2 L1186 728.3 L1187.5 728.2 L1189 728.3 L1190.5 727.9 L1192 728.7 L1193.5 728 L1195 728.5 L1196.5 728.4 L1198 728 L1199.5 727.5 L1201 727.1 L1202.5 727.3 L1204 727.6 L1205.5 727.6 L1207 727.3 L1208.5 727.3 L1210 728.2 L1211.5 727.4 L1213 726.8 L1214.5 727.3 L1216 726.8 L1217.5 726.3 L1219 727 L1220.5 726.6 L1222 726.8 L1223.5 727.3 L1225 726.7 L1226.5 726.4 L1228 727.1 L1229.5 725.9 L1231 726.1 L1232.5 726.9 L1234 726.9 L1235.5 726.3 L1237 726.1 L1238.5 726.4 L1240 726.3 L1241.5 726.2 L1243 726 L1244.5 725.7 L1246 725.8 L1247.5 725.9 L1249 725.8 L1250.5 725.7 L1252 725.8 L1253.5 725.2 L1255 725.9 L1256.5 725.9 L1258 725.1 L1259.5 724.7 L1261 725 L1262.5 724.7 L1264 724.2 L1265.5 724.1 L1267 723.1 L1268.5 722.4 L1270 722.4 L1271.5 721 L1273 720.1 L1274.5 718.4 L1276 717.7 L1277.5 716.2 L1279 714.7 L1280.5 713.1 L1282 710.9 L1283.5 708.3 L1285 706.5 L1286.5 703.6 L1288 700.8 L1289.5 697.6 L1291 694.5 L1292.5 690.8 L1294 687.3 L1295.5 684.2 L1297 680.8 L1298.5 677.7 L1300 673.4 L1301.5 671.1 L1303 668.3 L1304.5 666.4 L1306 663.9 L1307.5 662.3 L1309 661.5 L1310.5 661.1 L1312 660.5 L1313.5 661.3 L1315 663 L1316.5 664.6 L1318 666.5 L1319.5 669.3 L1321 671 L1322.5 674.2 L1324 676.9 L1325.5 680 L1327 682.6 L1328.5 685.6 L1330 689 L1331.5 690.9 L1333 693.1 L1334.5 695.7 L1336 697.3 L1337.5 699.5 L1339 700.1 L1340.5 701.3 L1342 702.2 L1343.5 703.5 L1345 704.1 L1346.5 706 L1348 706.3 L1349.5 707.2 L1351 707.8 L1352.5 708.5 L1354 709.2 L1355.5 709.7 L1357 711.4 L1358.5 711.8 L1360 713.4 L1361.5 714 L1363 714.4 L1364.5 715.7 L1366 716.6 L1367.5 717.5 L1369 718.4 L1370.5 719.4 L1372 720 L1373.5 720.7 L1375 721.6 L1376.5 722.3 L1378 722.6 L1379.5 723.4 L1381 723.6 L1382.5 724.2 L1384 724.5 L1385.5 725.1 L1387 724.4 L1388.5 725.7 L1390 725.1 L1391.5 725.7 L1393 725.2 L1394.5 725.4 L1396 725.6 L1397.5 725.2 L1399 725.1 L1400.5 725.1 L1402 725.4 L1403.5 724.2 L1405 724.4 L1406.5 724.6 L1408 723.7 L1409.5 723.8 L1411 722.1 L1412.5 721.8 L1414 721.4 L1415.5 720.6 L1417 719.8 L1418.5 719.3 L1420 717.7 L1421.5 717.1 L1423 715.9 L1424.5 714.5 L1426 713.9 L1427.5 711.8 L1429 711.1 L1430.5 708.8 L1432 707.7 L1433.5 706.2 L1435 704.4 L1436.5 703.5 L1438 702.4 L1439.5 701 L1441 699.8 L1442.5 699.3 L1444 698.5 L1445.5 697.9 L1447 696.6 L1448.5 697.5 L1450 698 L1451.5 697.7 L1453 697.7 L1454.5 699.1 L1456 700.2 L1457.5 700.6 L1459 701.9 L1460.5 703.2 L1462 703.7 L1463.5 704.8 L1465 706.3 L1466.5 706.6 L1468 707 L1469.5 708.1 L1471 708.7 L1472.5 708.9 L1474 709.2 L1475.5 709.1 L1477 710.3 L1478.5 709.1 L1480 709.3 L1481.5 709.2 L1483 709.1 L1484.5 708.3 L1486 708.1 L1487.5 707.4 L1489 707.3 L1490.5 706.2 L1492 706.7 L1493.5 706.1 L1495 705.9 L1496.5 705.3 L1498 704.5 L1499.5 704.8 L1501 704.9 L1502.5 705.5 L1504 705.2 L1505.5 705.8 L1507 705.8 L1508.5 705.9 L1510 706.4 L1511.5 707.1 L1513 707.6 L1514.5 707.6 L1516 708.3 L1517.5 708.7 L1519 709.2 L1520.5 709.6 L1522 708.9 L1523.5 709.1 L1525 708.7 L1526.5 709.5 L1528 708.4 L1529.5 707.2 L1531 707.3 L1532.5 705.3 L1534 703.8 L1535.5 702 L1537 699.8 L1538.5 696.3 L1540 693.7 L1541.5 690.5 L1543 686.4 L1544.5 681.8 L1546 676.9 L1547.5 671.3 L1549 665.3 L1550.5 659.7 L1552 654.2 L1553.5 647.7 L1555 640.9 L1556.5 634.5 L1558 628.6 L1559.5 621.7 L1561 615.6 L1562.5 611.1 L1564 605.4 L1565.5 601.1 L1567 598.5 L1568.5 595.7 L1570 594.9 L1571.5 595.1 L1573 596.7 L1574.5 598.4 L1576 602.3 L1577.5 605.9 L1579 611.4 L1580.5 617.1 L1582 623.3 L1583.5 630.3 L1585 636.2 L1586.5 642.9 L1588 649.5 L1589.5 656 L1591 662.5 L1592.5 668.4 L1594 674.3 L1595.5 679 L1597 684.2 L1598.5 688.5 L1600 692.2 L1601.5 695.8 L1603 698.7 L1604.5 701.1 L1606 703.3 L1607.5 704.6 L1609 706.2 L1610.5 707.6 L1612 708.7 L1613.5 709.3 L1615 709.5 L1616.5 709.6 L1618 710.1 L1619.5 710.1 L1621 709.9 L1622.5 710.6 L1624 710.8 L1625.5 710.7 L1627 710.5 L1628.5 711.3 L1630 711.9 L1631.5 712 L1633 713.2 L1634.5 713.8 L1636 714.8 L1637.5 715.2 L1639 716.2 L1640.5 717 L1642 718.2 L1643.5 718.4 L1645 719.4 L1646.5 720.7 L1648 720.8 L1649.5 721.2 L1651 722.5 L1652.5 722.9 L1654 722.6 L1655.5 723.6 L1657 723.5 L1658.5 724.3 L1660 724.9 L1661.5 725.2 L1663 724.8 L1664.5 725.2 L1666 726.1 L1667.5 726 L1669 725.9 L1670.5 726.2 L1672 726 L1673.5 726 L1675 726.2 L1676.5 726.9 L1678 726.6 L1679.5 727.2 L1681 727.4 L1682.5 727.3 L1684 727.1 L1685.5 727.3 L1687 727.3 L1688.5 727.7 L1690 728.1 L1691.5 727.9 L1693 728.5 L1694.5 728.2 L1696 728 L1697.5 727.7 L1699 728 L1700.5 727.9 L1702 728.5 L1703.5 728.4 L1705 729.1 L1706.5 728.8 L1708 728.8 L1709.5 728.4 L1711 728.5 L1712.5 728.9 L1714 728.8 L1715.5 728.5 L1717 728.6 L1718.5 728.8 L1720 729 L1721.5 728.9 L1723 728.6 L1724.5 728.6 L1726 728.9 L1727.5 728.7 L1729 728.2 L1730.5 728.4 L1732 728.8 L1733.5 729 L1735 728.8 L1736.5 728.3 L1738 728.1 L1739.5 729.1 L1741 728.5 L1742.5 728.2 L1744 728.4 L1745.5 728.4 L1747 728.2 L1748.5 728.2 L1750 728.6 L1751.5 728 L1753 728 L1754.5 728.2 L1756 728.1 L1757.5 728 L1759 728.1 L1760.5 727.8 L1762 728.1 L1763.5 727.9 L1765 728.5 L1766.5 727.9 L1768 728.1 L1769.5 728.4 L1771 728"/>
<path d="M1126 877.2 L1127.5 877.5 L1129 877.4 L1130.5 877.3 L1132 877.6 L1133.5 877 L1135 877.3 L1136.5 877.3 L1138 877.6 L1139.5 877.6 L1141 877.7 L1142.5 877.9 L1144 878 L1145.5 878 L1147 877.7 L1148.5 878.1 L1150 877.9 L1151.5 878.5 L1153 878.2 L1154.5 878 L1156 878 L1157.5 877.7 L1159 878 L1160.5 877.7 L1162 878.1 L1163.5 877.4 L1165 877.6 L1166.5 878.4 L1168 878.3 L1169.5 878.2 L1171 877.3 L1172.5 877.3 L1174 877.3 L1175.5 877.2 L1177 877.7 L1178.5 877.4 L1180 877.5 L1181.5 877.3 L1183 877.1 L1184.5 877.9 L1186 877.4 L1187.5 876.9 L1189 877.5 L1190.5 876.8 L1192 876.9 L1193.5 877.3 L1195 876.6 L1196.5 876.7 L1198 876.6 L1199.5 877.1 L1201 877.2 L1202.5 876.6 L1204 877 L1205.5 876 L1207 876.3 L1208.5 876.7 L1210 876.2 L1211.5 876.3 L1213 876.3 L1214.5 876.4 L1216 876.2 L1217.5 875.7 L1219 876 L1220.5 875.9 L1222 876.3 L1223.5 875.5 L1225 875.8 L1226.5 876.4 L1228 876.1 L1229.5 876.8 L1231 876 L1232.5 875.2 L1234 876.3 L1235.5 876.1 L1237 875.9 L1238.5 875.6 L1240 875.9 L1241.5 876.1 L1243 876 L1244.5 875.9 L1246 876 L1247.5 875.8 L1249 875.4 L1250.5 875.7 L1252 875.6 L1253.5 875.9 L1255 875.2 L1256.5 874.7 L1258 875.1 L1259.5 874.7 L1261 874 L1262.5 873.4 L1264 873.8 L1265.5 872.2 L1267 871.9 L1268.5 871.4 L1270 870.1 L1271.5 869.4 L1273 868.4 L1274.5 866.9 L1276 865.1 L1277.5 863.7 L1279 862 L1280.5 860.3 L1282 857.4 L1283.5 855.7 L1285 852.4 L1286.5 850.3 L1288 847.6 L1289.5 844.3 L1291 840.7 L1292.5 838 L1294 834.6 L1295.5 831.1 L1297 827.8 L1298.5 824.7 L1300 821.9 L1301.5 820.1 L1303 817.4 L1304.5 815.5 L1306 813.9 L1307.5 813.3 L1309 812.7 L1310.5 812.8 L1312 813.6 L1313.5 814.5 L1315 816.1 L1316.5 817.8 L1318 819.6 L1319.5 822.1 L1321 824.4 L1322.5 825.6 L1324 828.5 L1325.5 830.6 L1327 832.4 L1328.5 834.6 L1330 835.7 L1331.5 836.8 L1333 837.6 L1334.5 838.8 L1336 838.6 L1337.5 839.2 L1339 839.2 L1340.5 839.2 L1342 839 L1343.5 838.4 L1345 838.1 L1346.5 838.2 L1348 837.8 L1349.5 838.4 L1351 838.3 L1352.5 838.2 L1354 839.3 L1355.5 840 L1357 841.3 L1358.5 843.1 L1360 844.4 L1361.5 845.6 L1363 847.8 L1364.5 849.5 L1366 851.8 L1367.5 853.5 L1369 854.9 L1370.5 856.3 L1372 858.9 L1373.5 860.6 L1375 862.2 L1376.5 864.6 L1378 865.3 L1379.5 866.8 L1381 867.4 L1382.5 868.9 L1384 869.4 L1385.5 869.9 L1387 870.9 L1388.5 871.6 L1390 871.7 L1391.5 872.9 L1393 872.8 L1394.5 872.6 L1396 872.5 L1397.5 873.6 L1399 873.7 L1400.5 873.8 L1402 873.3 L1403.5 873.3 L1405 873.7 L1406.5 873.4 L1408 873.4 L1409.5 873.5 L1411 873.4 L1412.5 872.6 L1414 872.6 L1415.5 872.4 L1417 871.8 L1418.5 871.9 L1420 870.8 L1421.5 870.7 L1423 869.8 L1424.5 869.6 L1426 868.4 L1427.5 867.3 L1429 866.4 L1430.5 864.9 L1432 864.3 L1433.5 862.7 L1435 861.2 L1436.5 859.8 L1438 858.2 L1439.5 856.2 L1441 854.1 L1442.5 852.9 L1444 850.8 L1445.5 848.9 L1447 847.3 L1448.5 845.1 L1450 844 L1451.5 842 L1453 840.7 L1454.5 839.7 L1456 838.8 L1457.5 838.3 L1459 838.2 L1460.5 838.1 L1462 838.9 L1463.5 839.6 L1465 841.2 L1466.5 841.8 L1468 843.2 L1469.5 844.8 L1471 847 L1472.5 848.8 L1474 850.3 L1475.5 852.8 L1477 853.9 L1478.5 855.9 L1480 857.8 L1481.5 859.6 L1483 860.9 L1484.5 863 L1486 864.3 L1487.5 865.2 L1489 866.2 L1490.5 867.1 L1492 868 L1493.5 868.9 L1495 869.5 L1496.5 869.9 L1498 870.1 L1499.5 870 L1501 870.2 L1502.5 870.9 L1504 870.5 L1505.5 870.7 L1507 871.1 L1508.5 870.7 L1510 870.4 L1511.5 870.1 L1513 869.9 L1514.5 869.4 L1516 868.3 L1517.5 867.6 L1519 866.8 L1520.5 866.1 L1522 865.7 L1523.5 863.8 L1525 862.2 L1526.5 860.8 L1528 858.8 L1529.5 856.1 L1531 853.2 L1532.5 851.8 L1534 847.8 L1535.5 844.3 L1537 841.1 L1538.5 836.4 L1540 832.2 L1541.5 827.2 L1543 822.9 L1544.5 817.2 L1546 812 L1547.5 806.7 L1549 800.7 L1550.5 795.7 L1552 789.3 L1553.5 783.4 L1555 778.8 L1556.5 774 L1558 769.5 L1559.5 765.2 L1561 762.1 L1562.5 759.8 L1564 758.6 L1565.5 757.7 L1567 758.5 L1568.5 759.6 L1570 761.7 L1571.5 764.3 L1573 767.6 L1574.5 772.5 L1576 777.7 L1577.5 782.6 L1579 787.4 L1580.5 793.4 L1582 798.8 L1583.5 804.4 L1585 809.2 L1586.5 814.4 L1588 819.6 L1589.5 824.5 L1591 828.3 L1592.5 832.2 L1594 836 L1595.5 838.4 L1597 840.9 L1598.5 842.9 L1600 845.1 L1601.5 845.7 L1603 846.3 L1604.5 846.9 L1606 847.2 L1607.5 846.9 L1609 846.4 L1610.5 845.8 L1612 844.5 L1613.5 843.2 L1615 841.6 L1616.5 841 L1618 839.9 L1619.5 838.8 L1621 837.9 L1622.5 836.8 L1624 836.7 L1625.5 835.8 L1627 836.1 L1628.5 836.5 L1630 838.1 L1631.5 839.2 L1633 840.6 L1634.5 842.5 L1636 843.4 L1637.5 845.8 L1639 847.6 L1640.5 849.6 L1642 852.1 L1643.5 853.8 L1645 855.6 L1646.5 858.1 L1648 859.5 L1649.5 861.4 L1651 863.3 L1652.5 864.4 L1654 865.8 L1655.5 867.3 L1657 868.8 L1658.5 868.8 L1660 870.7 L1661.5 871.3 L1663 871.9 L1664.5 872.5 L1666 872.5 L1667.5 873.5 L1669 874.1 L1670.5 874.2 L1672 874 L1673.5 874.7 L1675 874.6 L1676.5 874.9 L1678 875.1 L1679.5 875.9 L1681 876.3 L1682.5 875.9 L1684 876.4 L1685.5 876 L1687 876.2 L1688.5 876.8 L1690 877.2 L1691.5 877 L1693 875.9 L1694.5 876.6 L1696 876.8 L1697.5 876.9 L1699 876.5 L1700.5 877.7 L1702 876.3 L1703.5 876.9 L1705 876.6 L1706.5 876.8 L1708 876.9 L1709.5 876.7 L1711 877 L1712.5 876.4 L1714 876.6 L1715.5 877 L1717 876.4 L1718.5 876.9 L1720 876.6 L1721.5 876.4 L1723 876.7 L1724.5 876.5 L1726 877.2 L1727.5 876.7 L1729 877.1 L1730.5 876.3 L1732 876.9 L1733.5 876.6 L1735 876.8 L1736.5 876.4 L1738 876.9 L1739.5 877.2 L1741 876.3 L1742.5 876.2 L1744 877.1 L1745.5 876.2 L1747 876.5 L1748.5 876.3 L1750 876.1 L1751.5 876.4 L1753 876.6 L1754.5 876 L1756 877 L1757.5 876.7 L1759 876 L1760.5 876.8 L1762 877.5 L1763.5 876.6 L1765 877 L1766.5 877.5 L1768 876.4 L1769.5 877.5 L1771 877.8"/>
<path d="M1126 1028.6 L1127.5 1028.1 L1129 1028.5 L1130.5 1028.7 L1132 1028.3 L1133.5 1028.5 L1135 1028.5 L1136.5 1028.9 L1138 1028.6 L1139.5 1028.8 L1141 1028.6 L1142.5 1029 L1144 1028.5 L1145.5 1028.5 L1147 1028.7 L1148.5 1029.3 L1150 1028.7 L1151.5 1028.3 L1153 1028.4 L1154.5 1029.4 L1156 1028.5 L1157.5 1028.5 L1159 1028.6 L1160.5 1029 L1162 1028.6 L1163.5 1028.6 L1165 1028.4 L1166.5 1028.1 L1168 1028.2 L1169.5 1028 L1171 1027.7 L1172.5 1027.3 L1174 1028.3 L1175.5 1028.2 L1177 1028 L1178.5 1028 L1180 1027.8 L1181.5 1027.4 L1183 1027.3 L1184.5 1027.4 L1186 1027.4 L1187.5 1027.3 L1189 1027.1 L1190.5 1027.6 L1192 1027.6 L1193.5 1027.9 L1195 1027.9 L1196.5 1027.2 L1198 1027.5 L1199.5 1027.3 L1201 1027.5 L1202.5 1028 L1204 1027.9 L1205.5 1027.5 L1207 1027.7 L1208.5 1027.6 L1210 1027.4 L1211.5 1027.4 L1213 1027.3 L1214.5 1028 L1216 1027.3 L1217.5 1027.5 L1219 1027.6 L1220.5 1027.4 L1222 1028.2 L1223.5 1027.9 L1225 1027.1 L1226.5 1027.5 L1228 1028.1 L1229.5 1027.7 L1231 1028 L1232.5 1028 L1234 1028 L1235.5 1027.8 L1237 1028 L1238.5 1028 L1240 1027.8 L1241.5 1028.1 L1243 1028.1 L1244.5 1028.1 L1246 1028.2 L1247.5 1028 L1249 1027.7 L1250.5 1028.2 L1252 1028.1 L1253.5 1027.5 L1255 1027.5 L1256.5 1027.9 L1258 1027.9 L1259.5 1027.1 L1261 1027.5 L1262.5 1027.3 L1264 1027.3 L1265.5 1027.5 L1267 1027.8 L1268.5 1026.9 L1270 1027.5 L1271.5 1027.2 L1273 1027.5 L1274.5 1026.7 L1276 1026.7 L1277.5 1026.8 L1279 1026.5 L1280.5 1026.7 L1282 1026.2 L1283.5 1026.2 L1285 1025.9 L1286.5 1025.4 L1288 1025.7 L1289.5 1025.2 L1291 1025.2 L1292.5 1024.9 L1294 1024.9 L1295.5 1024.2 L1297 1024.7 L1298.5 1024.3 L1300 1023.8 L1301.5 1023.2 L1303 1022.7 L1304.5 1022.6 L1306 1021.9 L1307.5 1021.6 L1309 1021 L1310.5 1020.3 L1312 1019.2 L1313.5 1017.9 L1315 1017.5 L1316.5 1016.1 L1318 1013.7 L1319.5 1012 L1321 1010.7 L1322.5 1008.1 L1324 1005.2 L1325.5 1002.4 L1327 998.6 L1328.5 995.6 L1330 992.2 L1331.5 987.3 L1333 983.8 L1334.5 978.9 L1336 975.2 L1337.5 969.6 L1339 964.8 L1340.5 960.3 L1342 955.6 L1343.5 951.5 L1345 947.7 L1346.5 943.2 L1348 940.2 L1349.5 937.8 L1351 935.4 L1352.5 934.7 L1354 934.3 L1355.5 934.8 L1357 935.9 L1358.5 938.1 L1360 941 L1361.5 943.8 L1363 948 L1364.5 951.8 L1366 955.7 L1367.5 961.2 L1369 965.6 L1370.5 970.5 L1372 974.7 L1373.5 979.3 L1375 983.5 L1376.5 987.4 L1378 991.8 L1379.5 995.8 L1381 998.7 L1382.5 1001.6 L1384 1004.3 L1385.5 1006.6 L1387 1009.2 L1388.5 1011.3 L1390 1012.7 L1391.5 1014.1 L1393 1015.3 L1394.5 1016.2 L1396 1017.8 L1397.5 1018.4 L1399 1018.7 L1400.5 1018.8 L1402 1019.4 L1403.5 1020.1 L1405 1020.2 L1406.5 1020.8 L1408 1020.2 L1409.5 1019.8 L1411 1019.5 L1412.5 1018.7 L1414 1019 L1415.5 1017.7 L1417 1017.5 L1418.5 1016.6 L1420 1015.8 L1421.5 1014.7 L1423 1013.4 L1424.5 1011.7 L1426 1009.7 L1427.5 1007.8 L1429 1005.4 L1430.5 1002.4 L1432 999.9 L1433.5 996.5 L1435 993.3 L1436.5 989.7 L1438 985.4 L1439.5 981.1 L1441 977.4 L1442.5 972.6 L1444 968.2 L1445.5 964 L1447 959.2 L1448.5 955.2 L1450 951.4 L1451.5 947.3 L1453 944.3 L1454.5 941.9 L1456 940.2 L1457.5 938.2 L1459 938.5 L1460.5 938.8 L1462 939.5 L1463.5 941.5 L1465 943.5 L1466.5 947.3 L1468 950.4 L1469.5 954.6 L1471 958.4 L1472.5 963.5 L1474 967.5 L1475.5 972.2 L1477 976.9 L1478.5 981.2 L1480 985.1 L1481.5 989.4 L1483 993.3 L1484.5 996.7 L1486 1000 L1487.5 1003 L1489 1005.7 L1490.5 1008.3 L1492 1010.3 L1493.5 1012.6 L1495 1014.4 L1496.5 1015.6 L1498 1016.9 L1499.5 1018.1 L1501 1019 L1502.5 1020.1 L1504 1021 L1505.5 1021.5 L1507 1022.1 L1508.5 1022 L1510 1023 L1511.5 1022.9 L1513 1023.3 L1514.5 1023.4 L1516 1023.5 L1517.5 1023.8 L1519 1023.8 L1520.5 1023.9 L1522 1023.9 L1523.5 1024.7 L1525 1025 L1526.5 1024.7 L1528 1024.3 L1529.5 1024.9 L1531 1025.4 L1532.5 1024.7 L1534 1025.6 L1535.5 1025.4 L1537 1024.6 L1538.5 1025.5 L1540 1025.5 L1541.5 1025.4 L1543 1025.1 L1544.5 1025.5 L1546 1026.2 L1547.5 1025.5 L1549 1025.3 L1550.5 1025.9 L1552 1025.8 L1553.5 1025.6 L1555 1026 L1556.5 1025.6 L1558 1025.7 L1559.5 1025.5 L1561 1026 L1562.5 1025.7 L1564 1025.3 L1565.5 1026 L1567 1025.5 L1568.5 1025.2 L1570 1025.4 L1571.5 1024.7 L1573 1024.6 L1574.5 1024.3 L1576 1024.4 L1577.5 1023.6 L1579 1023.4 L1580.5 1022.8 L1582 1022.1 L1583.5 1021.2 L1585 1020.6 L1586.5 1018.9 L1588 1018.1 L1589.5 1016.4 L1591 1015.6 L1592.5 1013.8 L1594 1011.2 L1595.5 1009.4 L1597 1006.5 L1598.5 1004.2 L1600 1000.6 L1601.5 998 L1603 994 L1604.5 990.1 L1606 985.4 L1607.5 980.6 L1609 976.4 L1610.5 971.7 L1612 966.9 L1613.5 962 L1615 957.2 L1616.5 952.5 L1618 949 L1619.5 944.3 L1621 940.7 L1622.5 937 L1624 935.8 L1625.5 933.9 L1627 933 L1628.5 933 L1630 933.9 L1631.5 936.2 L1633 938.1 L1634.5 941.8 L1636 945.3 L1637.5 948.9 L1639 953.1 L1640.5 958.3 L1642 962.8 L1643.5 967.6 L1645 972.7 L1646.5 977.8 L1648 981.3 L1649.5 986 L1651 990.3 L1652.5 994.9 L1654 998.1 L1655.5 1002 L1657 1005.2 L1658.5 1007.4 L1660 1010.1 L1661.5 1012.4 L1663 1014.5 L1664.5 1016.1 L1666 1017.8 L1667.5 1018.5 L1669 1020 L1670.5 1020.9 L1672 1022.4 L1673.5 1022.7 L1675 1023.2 L1676.5 1024 L1678 1024.7 L1679.5 1025.3 L1681 1024.9 L1682.5 1025.4 L1684 1026 L1685.5 1025.8 L1687 1026.5 L1688.5 1026.2 L1690 1026.8 L1691.5 1026.8 L1693 1026.6 L1694.5 1026.5 L1696 1026.3 L1697.5 1026.7 L1699 1027.3 L1700.5 1026.4 L1702 1026.9 L1703.5 1026.8 L1705 1027 L1706.5 1026.8 L1708 1026.9 L1709.5 1026.8 L1711 1027.2 L1712.5 1026.7 L1714 1026.7 L1715.5 1027.4 L1717 1026.9 L1718.5 1027.1 L1720 1026.7 L1721.5 1026.7 L1723 1027 L1724.5 1026.7 L1726 1026.9 L1727.5 1026.8 L1729 1027 L1730.5 1026.8 L1732 1027.2 L1733.5 1026.6 L1735 1027.3 L1736.5 1027.4 L1738 1027.2 L1739.5 1027.9 L1741 1027.5 L1742.5 1027.9 L1744 1027.8 L1745.5 1027.6 L1747 1027.4 L1748.5 1027.6 L1750 1027.8 L1751.5 1027.6 L1753 1027.9 L1754.5 1028 L1756 1027.8 L1757.5 1028.2 L1759 1028 L1760.5 1028.7 L1762 1028.1 L1763.5 1028.5 L1765 1028.3 L1766.5 1027.7 L1768 1028.2 L1769.5 1028.5 L1771 1028.5"/>
</g>
<rect x="1124" y="32" width="651" height="1078.4" fill="none" stroke="#111" stroke-width="4.8" stroke-linejoin="round"/>
<line x1="1340.5" y1="1110" x2="1340.5" y2="1097" stroke="#111" stroke-width="4.4"/>
<line x1="1558" y1="1110" x2="1558" y2="1097" stroke="#111" stroke-width="4.4"/>
<text x="1100.7" y="1168" class="bs" font-size="40">22</text>
<text x="1318.9" y="1168" class="bs" font-size="40">23</text>
<text x="1537.6" y="1168" class="bs" font-size="40">24</text>
<text x="1753.9" y="1168" class="bs" font-size="40">25</text>
<text x="1392" y="1215.5" class="bs" font-size="51">2</text>
<text x="1419.3" y="1215.5" class="is" font-size="52" textLength="30.4" lengthAdjust="spacingAndGlyphs">θ</text>
<text x="1447.3" y="1215.5" class="rs" font-size="50" textLength="14.6" lengthAdjust="spacingAndGlyphs">/</text>
<text x="1460.3" y="1215.5" class="rs" font-size="52" textLength="18.3" lengthAdjust="spacingAndGlyphs">(</text>
<text x="1490.6" y="1200.8" class="bs" font-size="30">o</text>
<text x="1519.2" y="1215.5" class="rs" font-size="52" textLength="17.9" lengthAdjust="spacingAndGlyphs">)</text>
<text x="1058.6" y="87.2" class="bs" font-size="78" textLength="41.4" lengthAdjust="spacingAndGlyphs">b</text>
<text x="1142.5" y="300.5" class="rs" font-size="52" style="fill:#2f6f2f">H<tspan font-size="37" dy="10">0.23</tspan><tspan dy="-10">WO</tspan><tspan font-size="37" dy="10">3</tspan></text>
<text x="1546" y="258.5" class="rs" font-size="50" style="fill:#2c3ca5">H<tspan font-size="36" dy="10">0.33</tspan><tspan dy="-10">WO</tspan><tspan font-size="36" dy="10">3</tspan></text>
<text x="1175" y="1082" class="rs" font-size="52" style="fill:#e82828">WO<tspan font-size="37" dy="10">3</tspan></text>
<path d="M203.5 1865.1 L205.5 1865.7 L207.5 1866.3 L209.5 1866.9 L211.5 1867.5 L213.5 1868.1 L215.5 1868.7 L217.5 1869.3 L219.5 1869.9 L221.5 1870.5 L223.5 1871.1 L225.5 1871.7 L227.5 1872.3 L229.5 1872.9 L231.5 1873.5 L233.5 1874.1 L235.5 1874.7 L237.5 1875.3 L239.5 1875.9 L241.5 1876.5 L243.5 1877.1 L245.5 1877.7 L247.5 1878.3 L249.5 1878.9 L251.5 1879.5 L253.5 1880.2 L255.5 1880.9 L257.5 1881.5 L259.5 1882.2 L261.5 1882.9 L263.5 1883.6 L265.5 1884.3 L267.5 1885 L269.5 1885.6 L271.5 1886.3 L273.5 1887 L275.5 1887.7 L277.5 1888.3 L279.5 1889 L281.5 1889.7 L283.5 1890.4 L285.5 1891.1 L287.5 1891.8 L289.5 1892.4 L291.5 1893.1 L293.5 1893.8 L295.5 1894.5 L297.5 1895.2 L299.5 1895.8 L301.5 1896.5 L303.5 1897.2 L305.5 1897.8 L307.5 1898.5 L309.5 1899.2 L311.5 1899.8 L313.5 1900.5 L315.5 1901.2 L317.5 1901.8 L319.5 1902.5 L321.5 1903.2 L323.5 1904.1 L325.5 1904.9 L327.5 1905.8 L329.5 1906.6 L331.5 1907.5 L333.5 1908.4 L335.5 1909.2 L337.5 1910.1 L339.5 1910.9 L341.5 1911.8 L343.5 1912.4 L345.5 1912.8 L347.5 1913.3 L349.5 1913.8 L351.5 1914.3 L353.5 1914.7 L355.5 1915.2 L357.5 1915.7 L359.5 1916.2 L361.5 1916.6 L363.5 1916.9 L365.5 1916.7 L367.5 1916.5 L369.5 1916.2 L371.5 1916 L373.5 1915.8 L375.5 1915.5 L377.5 1915.3 L379.5 1915.1 L381.5 1915.8 L383.5 1916.8 L385.5 1917.8 L387.5 1918.8 L389.5 1919.8 L391.5 1920.8 L391.5 1923.5 L389.5 1925.3 L387.5 1927.2 L385.5 1929 L383.5 1930.9 L381.5 1932.8 L379.5 1934.6 L377.5 1936 L375.5 1936.2 L373.5 1936.3 L371.5 1936.4 L369.5 1936.5 L367.5 1936.7 L365.5 1936.8 L363.5 1936.9 L361.5 1936.8 L359.5 1935.8 L357.5 1934.8 L355.5 1933.8 L353.5 1932.8 L351.5 1931.8 L349.5 1930.8 L347.5 1929.5 L345.5 1927.5 L343.5 1925.5 L341.5 1923.5 L339.5 1921.5 L337.5 1919.5 L335.5 1917.5 L333.5 1916 L331.5 1914.8 L329.5 1913.5 L327.5 1912.2 L325.5 1910.9 L323.5 1909.6 L321.5 1908.3 L319.5 1907.7 L317.5 1907.2 L315.5 1906.8 L313.5 1906.3 L311.5 1905.9 L309.5 1905.4 L307.5 1905 L305.5 1904.5 L303.5 1904 L301.5 1903.6 L299.5 1903.1 L297.5 1902.7 L295.5 1902.2 L293.5 1901.8 L291.5 1901.3 L289.5 1901 L287.5 1900.8 L285.5 1900.5 L283.5 1900.3 L281.5 1900.2 L279.5 1900 L277.5 1899.8 L275.5 1899.5 L273.5 1899.3 L271.5 1899.2 L269.5 1899 L267.5 1898.8 L265.5 1898.5 L263.5 1898.3 L261.5 1898.2 L259.5 1898 L257.5 1897.8 L255.5 1897.5 L253.5 1897.3 L251.5 1897.2 L249.5 1897 L247.5 1896.8 L245.5 1896.5 L243.5 1896.3 L241.5 1896.2 L239.5 1895.9 L237.5 1895.5 L235.5 1895.1 L233.5 1894.8 L231.5 1894.4 L229.5 1894 L227.5 1893.6 L225.5 1893.3 L223.5 1892.9 L221.5 1892.5 L219.5 1892.1 L217.5 1891.7 L215.5 1891.4 L213.5 1891 L211.5 1890.6 L209.5 1890.2 L207.5 1889.9 L205.5 1889.5 L203.5 1889.1Z" fill="#262626"/>
<path d="M392.5 1912 L393.9 1911.1 L395.2 1910.3 L396.4 1909.4 L397.7 1908.6 L399 1907.7 L400.2 1906.8 L401.4 1905.9 L402.6 1905 L403.8 1904 L405 1903 L406.1 1902 L407.2 1901 L408.3 1900 L409.4 1898.9 L410.5 1897.9 L411.5 1896.8 L412.6 1895.7 L413.6 1894.6 L414.6 1893.4 L415.6 1892.3 L416.5 1891.1 L417.4 1889.9 L418.4 1888.7 L419.3 1887.5 L420.1 1886.3 L421 1885.1 L421.9 1883.8 L422.7 1882.6 L423.5 1881.3 L424.3 1880 L425.1 1878.8 L425.9 1877.5 L426.6 1876.1 L427.3 1874.8 L428.1 1873.5 L428.8 1872.2 L429.5 1870.8 L430.2 1869.5 L430.9 1868.1 L431.5 1866.8 L432.2 1865.4 L432.8 1864 L433.5 1862.6 L434.1 1861.3 L434.7 1859.9 L435.3 1858.5 L435.9 1857.1 L436.5 1855.7 L437.1 1854.3 L437.7 1852.9 L438.3 1851.5 L438.8 1850.1 L439.4 1848.7 L439.9 1847.3 L440.5 1845.9 L441 1844.5 L441.6 1843 L442.1 1841.6 L442.6 1840.2 L443.1 1838.8 L443.7 1837.4 L444.2 1836 L444.7 1834.5 L445.2 1833.1 L445.7 1831.7 L446.2 1830.3 L446.7 1828.9 L447.2 1827.4 L447.6 1826 L448.1 1824.6 L448.6 1823.2 L449.1 1821.7 L449.5 1820.3 L450 1818.9 L450.4 1817.4 L450.9 1816 L451.4 1814.6 L451.8 1813.1 L452.3 1811.7 L452.7 1810.3 L453.1 1808.8 L453.6 1807.4 L454 1806 L454.5 1804.5 L454.9 1803.1 L455.3 1801.6 L455.7 1800.2 L456.2 1798.8 L456.6 1797.3 L457 1795.9 L477.8 1800.5 L477.3 1802 L476.8 1803.4 L476.4 1804.9 L475.9 1806.3 L475.4 1807.7 L474.9 1809.2 L474.5 1810.6 L474 1812.1 L473.5 1813.5 L473.1 1814.9 L472.6 1816.4 L472.1 1817.8 L471.7 1819.2 L471.2 1820.7 L470.7 1822.1 L470.2 1823.5 L469.7 1824.9 L469.3 1826.3 L468.8 1827.8 L468.3 1829.2 L467.8 1830.6 L467.3 1832 L466.8 1833.4 L466.2 1834.8 L465.7 1836.2 L465.2 1837.6 L464.7 1839 L464.1 1840.4 L463.6 1841.8 L463 1843.2 L462.5 1844.6 L461.9 1846 L461.3 1847.4 L460.8 1848.8 L460.2 1850.2 L459.6 1851.6 L459 1853 L458.4 1854.3 L457.8 1855.7 L457.2 1857.1 L456.6 1858.5 L455.9 1859.9 L455.3 1861.2 L454.7 1862.6 L454 1864 L453.4 1865.4 L452.7 1866.7 L452 1868.1 L451.3 1869.5 L450.7 1870.9 L450 1872.2 L449.3 1873.6 L448.5 1874.9 L447.8 1876.3 L447.1 1877.6 L446.3 1879 L445.6 1880.3 L444.8 1881.6 L444 1882.9 L443.2 1884.2 L442.4 1885.5 L441.6 1886.8 L440.7 1888 L439.9 1889.3 L439 1890.5 L438.1 1891.7 L437.2 1892.9 L436.3 1894.1 L435.3 1895.2 L434.3 1896.4 L433.3 1897.5 L432.3 1898.6 L431.3 1899.7 L430.2 1900.7 L429.2 1901.7 L428.1 1902.7 L426.9 1903.7 L425.8 1904.7 L424.6 1905.6 L423.4 1906.5 L422.2 1907.3 L421 1908.2 L419.7 1909 L418.4 1909.8 L417.1 1910.6 L415.8 1911.3 L414.5 1912.1 L413.2 1912.8 L411.8 1913.5 L410.5 1914.1 L409.1 1914.8 L407.7 1915.4 L406.3 1916 L404.9 1916.6 L403.5 1917.1 L402 1917.7 L400.6 1918.2 L399.2 1918.7 L397.7 1919.2 L396.3 1919.7 L394.8 1920.2 L393.4 1920.6Z" fill="#1e1e1e"/>
<g fill="none" stroke="#1a1a1a" stroke-width="3.2" stroke-linejoin="round">
<path d="M203.5 1864.8 L204.4 1864 L205.8 1864.7 L207.3 1865.4 L208.7 1865 L210.1 1865.8 L211.5 1866.1 L213 1865.3 L214.4 1867.2 L215.8 1867.2 L217.2 1866.7 L218.7 1867.2 L220.1 1867.9 L221.5 1867.8 L222.9 1868.2 L224.4 1867.9 L225.8 1869.6 L227.2 1869.9 L228.6 1870.6 L230.1 1870.2 L231.5 1872.8 L232.9 1872.6 L234.4 1873 L235.8 1875.1 L237.2 1874.6 L238.6 1874.4 L240.1 1875.7 L241.5 1875.2 L242.9 1877.8 L244.4 1877.4 L245.8 1877.7 L247.2 1879.3 L248.6 1878.1 L250.1 1879.8 L251.5 1878.7 L252.9 1880 L254.4 1880.1 L255.8 1882.2 L257.2 1882.8 L258.7 1882.1 L260.1 1883.3 L261.6 1883.3 L263 1884.3 L264.4 1884.1 L265.9 1884.2 L267.3 1884.7 L268.8 1886.6 L270.2 1888.2 L271.6 1887.5 L273.1 1887.4 L274.5 1889.3 L276 1888.6 L277.4 1888.7 L278.9 1889 L280.3 1888.9 L281.8 1889 L283.2 1888.4 L284.7 1889.6 L286.1 1889.4 L287.6 1890.3 L289 1889.5 L290.5 1888.7 L292 1890.1 L293.4 1891.4 L294.9 1890.5 L296.3 1890.6 L297.8 1890.8 L299.3 1891.3 L300.7 1892.2 L302.2 1892.1 L303.7 1894.2 L305.1 1893.6 L306.6 1894.2 L308 1895.4 L309.5 1895.8 L311 1895.1 L312.4 1895.8 L313.9 1896.3 L315.3 1896.1 L316.8 1895.4 L318.2 1897.2 L319.7 1897.8 L321.1 1897.9 L322.6 1897.6 L324 1898.5 L325.4 1898.9 L326.9 1899.7 L328.3 1901.4 L329.7 1902.2 L331.2 1902.5 L332.6 1903.2 L334 1904.1 L335.4 1904.4 L336.8 1905.2 L338.3 1905.5 L339.7 1906.6 L341.1 1908.7 L342.5 1908.4 L343.9 1908.3 L345.3 1908.7 L346.7 1908.9 L348.1 1910.1 L349.5 1910.5 L350.8 1909.7 L352.2 1911.2 L353.6 1911 L355 1912.5 L356.3 1912 L357.7 1913.3 L359.1 1912.2 L360.5 1912.5 L361.9 1913 L363.3 1913.6 L364.7 1913.3 L366.1 1912.2 L367.6 1912.9 L369 1912.6 L370.4 1912.1 L371.9 1911.6 L373.3 1912.4 L374.7 1910.7 L376.1 1909.9 L377.5 1909.9 L378.9 1909 L380.3 1908.1 L381.6 1907.7 L383 1906.8 L384.3 1905.9 L385.6 1905.3 L386.9 1904.3 L388.1 1903.4 L389.4 1902.6 L390.6 1901.8 L391.8 1901 L393 1900.1 L394.2 1899.2 L395.3 1898.3 L396.4 1897.3 L397.6 1896.2 L398.6 1895.2 L399.7 1894.1 L400.8 1893 L401.8 1891.9 L402.8 1890.7 L403.9 1889.6 L404.8 1888.4 L405.8 1887.3 L406.8 1886.1 L407.7 1884.9 L408.6 1883.7 L409.5 1882.5 L410.4 1881.2 L411.2 1880 L412.1 1878.7 L412.9 1877.5 L413.7 1876.2 L414.6 1874.9 L415.3 1873.6 L416.1 1872.4 L416.9 1871.1 L417.6 1869.7 L418.4 1868.4 L419.1 1867.1 L419.8 1865.8 L420.5 1864.4 L421.2 1863.1 L421.9 1861.7 L422.6 1860.4 L423.2 1859 L423.9 1857.7 L424.5 1856.3 L425.1 1854.9 L425.8 1853.6 L426.4 1852.2 L427 1850.8 L427.6 1849.4 L428.2 1848 L428.8 1846.6 L429.4 1845.2 L429.9 1843.8 L430.5 1842.4 L431.1 1841 L431.7 1839.6 L432.2 1838.2 L432.8 1836.8 L433.3 1835.4 L433.8 1834 L434.4 1832.6 L434.9 1831.2 L435.4 1829.8 L435.9 1828.4 L436.4 1827 L437 1825.5 L437.5 1824.1 L437.9 1822.7 L438.4 1821.3 L438.9 1819.8 L439.4 1818.4 L439.9 1817 L440.3 1815.6 L440.8 1814.1 L441.2 1812.7 L441.7 1811.3 L442.1 1809.8 L442.6 1808.4 L443 1806.9 L443.4 1805.5 L443.8 1804.1 L444.2 1802.6 L444.7 1801.2 L445.1 1799.7 L445.4 1798.3 L445.8 1796.8 L446.2 1795.4 L446.6 1793.9 L447 1792.4 L447.3 1791 L447.7 1789.5 L448.1 1788.1 L448.4 1786.6 L448.8 1785.2 L449.1 1783.7 L449.5 1782.2 L449.8 1780.8 L450.2 1779.3 L450.5 1777.8 L450.9 1776.4 L451.2 1774.9 L451.5 1773.4 L451.9 1772 L452.2 1770.5 L452.6 1769 L452.9 1767.6 L453.2 1766.1 L453.6 1764.6 L453.9 1763.2 L454.2 1761.7 L454.6 1760.2 L454.9 1758.8 L455.3 1757.3 L455.6 1755.8 L456 1754.4 L456.3 1752.9 L456.7 1751.5 L457 1750 L457.4 1748.5 L457.7 1747.1 L458.1 1745.6 L458.4 1744.1 L458.8 1742.7 L459.2 1741.2 L459.5 1739.8 L459.9 1738.3 L460.2 1736.8 L460.6 1735.4 L461 1733.9 L461.3 1732.5 L461.7 1731 L462.1 1729.5 L462.4 1728.1 L462.8 1726.6 L463.1 1725.2 L463.5 1723.7 L463.9 1722.2 L464.2 1720.8 L464.6 1719.3 L464.9 1717.9 L465.3 1716.4 L465.6 1714.9 L465.9 1713.5 L466.3 1712 L466.6 1710.5 L467 1709.1 L467.3 1707.6 L467.6 1706.1 L467.9 1704.7 L468.2 1703.2 L468.6 1701.7 L468.9 1700.3 L469.2 1698.8 L469.5 1697.3 L469.8 1695.8 L470.1 1694.4 L470.4 1692.9 L470.7 1691.4 L471 1689.9 L471.3 1688.5 L471.6 1687 L471.9 1685.5 L472.2 1684 L472.4 1682.6 L472.7 1681.1 L473 1679.6 L473.3 1678.1 L473.6 1676.7 L473.9 1675.2 L474.1 1673.7 L474.4 1672.2 L474.7 1670.7 L475 1669.3 L475.2 1667.8 L475.5 1666.3 L475.8 1664.8 L476.1 1663.3 L476.4 1661.9 L476.6 1660.4 L476.9 1658.9 L477.2 1657.4 L477.5 1656 L477.8 1654.5 L478 1653 L478.3 1651.5 L478.6 1650 L478.9 1648.6 L479.2 1647.1 L479.5 1645.6 L479.8 1644.1 L480 1642.7 L480.3 1641.2 L480.6 1639.7 L480.9 1638.2 L481.2 1636.8 L481.5 1635.3 L481.8 1633.8 L482.1 1632.3 L482.4 1630.9 L482.7 1629.4 L483 1627.9 L483.3 1626.4 L483.6 1625 L483.9 1623.5 L484.3 1622 L484.6 1620.6 L484.9 1619.1 L485.2 1617.6 L485.5 1616.1 L485.8 1614.7 L486.1 1613.2 L486.4 1611.7 L486.8 1610.3 L487.1 1608.8 L487.4 1607.3 L487.7 1605.8 L488 1604.4 L488.3 1602.9 L488.7 1601.4 L489 1600 L489.3 1598.5 L489.6 1597 L490 1595.6 L490.3 1594.1 L490.6 1592.6 L490.9 1591.2 L491.3 1589.7 L491.6 1588.2 L491.9 1586.8 L492.3 1585.3 L492.6 1583.8 L492.9 1582.4 L493.3 1580.9 L493.6 1579.4 L493.9 1578 L494.3 1576.5 L494.6 1575 L495 1573.6 L495.3 1572.1 L495.7 1570.6 L496 1569.2 L496.4 1567.7 L496.7 1566.2 L497.1 1564.8 L497.4 1563.3 L497.8 1561.9 L498.2 1560.4 L498.5 1558.9 L498.9 1557.5 L499.3 1556 L499.6 1554.6 L500 1553.1 L500.4 1551.6 L500.8 1550.2 L501.2 1548.7 L501.6 1547.3 L502 1545.8 L502.4 1544.4 L502.8 1542.9 L503.3 1541.5 L503.7 1540 L504.2 1538.6 L504.6 1537.2 L505.1 1535.7 L505.6 1534.3 L506.1 1532.9 L506.6 1531.5 L507.1 1530.1 L507.7 1528.7 L508.3 1527.3 L508.8 1525.9 L509.4 1524.5 L510 1523.1 L510.7 1521.8 L511.3 1520.4 L512 1519 L512.6 1517.7 L513.3 1516.4 L514.1 1515.1 L514.8 1513.7 L515.6 1512.4 L516.3 1511.2 L517.1 1509.9 L518 1508.6 L518.8 1507.4 L519.7 1506.2 L520.5 1504.9 L521.4 1503.7 L522.4 1502.6 L523.3 1501.4 L524.3 1500.2 L525.2 1499.1 L526.2 1498 L527.2 1496.8 L528.3 1495.7 L529.3 1494.6 L530.3 1493.6 L531.4 1492.5 L532.5 1491.5 L533.6 1490.4 L534.7 1489.4 L535.8 1488.4 L536.9 1487.4 L538.1 1486.4 L539.2 1485.4 L540.4 1484.5 L541.5 1483.5 L542.7 1482.6 L543.9 1481.6 L545 1480.6 L546.2 1479.7 L547.4 1478.7 L548.5 1477.8 L549.7 1476.8 L550.9 1475.9 L552.1 1474.9 L553.2 1474 L554.4 1473 L555.6 1472.1 L556.7 1471.1 L557.9 1470.2 L559.1 1469.2 L560.3 1468.3 L561.4 1467.4 L562.6 1466.4 L563.8 1465.5 L565 1464.6 L566.2 1463.7 L567.4 1462.8 L568.6 1461.9 L569.8 1461 L571.1 1460.2 L572.3 1459.3 L573.5 1458.5 L574.8 1457.6 L576 1456.8 L577.3 1456 L578.6 1455.2 L579.8 1454.4 L581.1 1453.6 L582.4 1452.8 L583.7 1452 L585 1451.3 L586.3 1450.5 L587.6 1449.8 L589 1449.1 L590.3 1448.4 L591.6 1447.7 L593 1447 L594.3 1446.3 L595.7 1445.7 L597 1445 L598.4 1444.4 L599.7 1443.7 L601.1 1443.1 L602.5 1442.5 L603.9 1441.9 L605.3 1441.4 L606.7 1440.8 L608.1 1440.2 L609.5 1439.7 L610.9 1439.2 L612.3 1438.7 L613.7 1438.2 L615.1 1437.7 L616.6 1437.2 L618 1436.7 L619.4 1436.3 L620.9 1435.9 L622.3 1435.4 L623.8 1435 L625.2 1434.6 L626.7 1434.2 L628.1 1433.9 L629.6 1433.5 L631.1 1433.2 L632.5 1432.8 L634 1432.5 L635.5 1432.2 L637 1431.9 L638.4 1431.6 L639.9 1431.4 L641.4 1431.1 L642.9 1430.9 L644.4 1430.6 L645.9 1430.4 L647.3 1430.2 L648.8 1430 L650.3 1429.8 L651.8 1429.6 L653.3 1429.4 L654.8 1429.2 L656.3 1429.1 L657.8 1428.9 L659.3 1428.8 L660.8 1428.6 L662.3 1428.5 L663.8 1428.4 L665.3 1428.3 L666.8 1428.2 L668.3 1428.1 L669.8 1428 L671.3 1427.9 L672.8 1427.8 L674.3 1427.8 L675.9 1427.7 L677.4 1427.6 L678.9 1427.6 L680.4 1427.5 L681.9 1427.5 L683.4 1427.5 L684.9 1427.5 L686.4 1427.5 L687.9 1427.5 L689.4 1427.5 L690.9 1427.6 L692.4 1427.6 L693.9 1427.7 L695.4 1427.8 L696.9 1427.9 L698.4 1428 L699.9 1428.2 L701.4 1428.3 L702.9 1428.5 L704.4 1428.7 L705.8 1428.9 L707.3 1429.1 L708.8 1429.4 L710.3 1429.6 L711.8 1429.9 L713.3 1430.1 L714.7 1430.4 L716.2 1430.7 L717.7 1430.9 L719.2 1431.2 L720.7 1431.5 L722.1 1431.8 L723.6 1432.1 L725.1 1432.4 L726.6 1432.7 L728 1433 L729.5 1433.3 L731 1433.6 L732.5 1433.8 L733.9 1434.1 L735.4 1434.4 L736.9 1434.7 L738.4 1435 L739.8 1435.3 L741.3 1435.6 L742.8 1435.9 L744.3 1436.3 L745.7 1436.6 L747.2 1436.9 L748.7 1437.2 L750.2 1437.5 L751.6 1437.8 L753.1 1438.1 L754.6 1438.4 L756.1 1438.7 L757.5 1439 L759 1439.3 L760.5 1439.7 L761.9 1440 L763.4 1440.3 L764.9 1440.6 L766.3 1440.9 L767.8 1441.3 L769.3 1441.6 L770.8 1441.9 L772.2 1442.2 L773.7 1442.6 L775.2 1442.9 L776.6 1443.2 L778.1 1443.6 L779.6 1443.9 L781 1444.3 L782.5 1444.6 L783.9 1445 L785.4 1445.3 L786.9 1445.7 L788.3 1446.1 L789.8 1446.4 L791.2 1446.8 L792.7 1447.2 L794.1 1447.6 L795.6 1448 L797 1448.3 L798.5 1448.7 L799.9 1449.1 L801.4 1449.5 L802.8 1450 L804.3 1450.4 L805.7 1450.8 L807.2 1451.2 L808.6 1451.6 L810.1 1452.1 L811.5 1452.5 L812.9 1452.9 L814.4 1453.3 L815.8 1453.8 L817.3 1454.2 L818.7 1454.7 L820.1 1455.1 L821.6 1455.5 L823 1456 L824.5 1456.4 L825.9 1456.9 L827.3 1457.3 L828.8 1457.8 L830.2 1458.2 L831.6 1458.7 L833.1 1459.1 L834.5 1459.6"/>
<path d="M203.5 1867.5 L204.4 1866.8 L205.9 1867.3 L207.3 1868 L208.7 1869 L210.1 1869.2 L211.6 1869.4 L213 1870.2 L214.4 1870.1 L215.9 1870.7 L217.3 1871.9 L218.7 1871.4 L220.2 1872.4 L221.6 1873.9 L223 1873.7 L224.5 1874.7 L225.9 1874.7 L227.3 1877 L228.8 1875.2 L230.2 1876.6 L231.6 1877.3 L233.1 1879.6 L234.5 1879.4 L235.9 1879.6 L237.4 1879.5 L238.8 1880.9 L240.2 1881.1 L241.7 1881 L243.1 1880.8 L244.6 1881.3 L246 1882.3 L247.4 1882.7 L248.9 1882.8 L250.3 1882.9 L251.8 1882.2 L253.2 1883.7 L254.7 1883.4 L256.1 1884.4 L257.5 1885.1 L259 1884.8 L260.4 1885 L261.9 1886.7 L263.3 1886.7 L264.8 1886.5 L266.2 1885.5 L267.7 1887.6 L269.2 1888.3 L270.6 1888.8 L272.1 1888 L273.5 1888.2 L275 1888.4 L276.4 1889.3 L277.9 1888.3 L279.3 1889.1 L280.8 1888.7 L282.3 1889.7 L283.7 1888.8 L285.2 1890.3 L286.7 1890.1 L288.1 1890.7 L289.6 1891.6 L291.1 1892.5 L292.5 1891.3 L294 1893.5 L295.5 1893.9 L297 1893.9 L298.4 1895.5 L299.9 1895.3 L301.4 1896.5 L302.8 1895.9 L304.3 1896.2 L305.8 1897.8 L307.2 1898.8 L308.7 1898.2 L310.1 1898.7 L311.6 1898.2 L313 1898 L314.5 1899 L315.9 1900.5 L317.4 1898.9 L318.8 1900.2 L320.2 1899.8 L321.7 1901.6 L323.1 1902.6 L324.5 1902 L325.9 1903.2 L327.3 1904.9 L328.7 1904.7 L330.1 1904.7 L331.5 1905.3 L332.9 1905.5 L334.3 1907.7 L335.7 1907.3 L337.1 1908.9 L338.5 1909.3 L339.9 1908.8 L341.3 1909.2 L342.7 1910.4 L344 1910.3 L345.4 1910.7 L346.8 1909.9 L348.2 1911.8 L349.6 1911.1 L351 1910.6 L352.4 1912.1 L353.8 1913.1 L355.2 1914.6 L356.6 1913.6 L358 1913.5 L359.5 1916.1 L360.9 1915.4 L362.3 1915.5 L363.7 1915.4 L365.2 1915.7 L366.6 1917.3 L368 1916.3 L369.5 1916.1 L370.9 1916 L372.3 1916.9 L373.8 1915.5 L375.2 1915.7 L376.6 1915.1 L378.1 1914.6 L379.5 1913.6 L380.9 1913.6 L382.2 1913.3 L383.6 1912.2 L385 1911.4 L386.3 1910.7 L387.7 1910.3 L389 1909.5 L390.3 1908.8 L391.6 1908 L392.8 1907 L394.1 1906.2 L395.3 1905.3 L396.5 1904.4 L397.7 1903.4 L398.9 1902.4 L400 1901.4 L401.2 1900.4 L402.3 1899.4 L403.4 1898.3 L404.5 1897.3 L405.5 1896.2 L406.6 1895.1 L407.6 1894 L408.6 1892.8 L409.6 1891.7 L410.5 1890.5 L411.5 1889.3 L412.4 1888.2 L413.3 1887 L414.2 1885.8 L415.1 1884.5 L416 1883.3 L416.8 1882 L417.7 1880.8 L418.5 1879.5 L419.3 1878.2 L420.1 1877 L420.8 1875.7 L421.6 1874.4 L422.3 1873 L423.1 1871.7 L423.8 1870.4 L424.5 1869.1 L425.2 1867.7 L425.8 1866.4 L426.5 1865 L427.2 1863.7 L427.8 1862.3 L428.5 1860.9 L429.1 1859.5 L429.7 1858.2 L430.3 1856.8 L430.9 1855.4 L431.5 1854 L432.1 1852.6 L432.7 1851.2 L433.3 1849.8 L433.9 1848.4 L434.5 1847 L435 1845.6 L435.6 1844.2 L436.1 1842.8 L436.7 1841.4 L437.2 1840 L437.8 1838.6 L438.3 1837.2 L438.8 1835.7 L439.3 1834.3 L439.9 1832.9 L440.4 1831.5 L440.9 1830.1 L441.4 1828.7 L441.9 1827.3 L442.4 1825.8 L442.9 1824.4 L443.4 1823 L443.8 1821.6 L444.3 1820.1 L444.8 1818.7 L445.3 1817.3 L445.7 1815.9 L446.2 1814.4 L446.6 1813 L447.1 1811.6 L447.5 1810.1 L448 1808.7 L448.4 1807.2 L448.9 1805.8 L449.3 1804.4 L449.7 1802.9 L450.1 1801.5 L450.6 1800 L451 1798.6 L451.4 1797.2 L451.8 1795.7 L452.2 1794.3 L452.6 1792.8 L453 1791.4 L453.4 1789.9 L453.8 1788.5 L454.2 1787 L454.6 1785.6 L454.9 1784.1 L455.3 1782.6 L455.7 1781.2 L456.1 1779.7 L456.4 1778.3 L456.8 1776.8 L457.2 1775.4 L457.6 1773.9 L457.9 1772.4 L458.3 1771 L458.7 1769.5 L459 1768.1 L459.4 1766.6 L459.7 1765.1 L460.1 1763.7 L460.5 1762.2 L460.8 1760.8 L461.2 1759.3 L461.5 1757.8 L461.9 1756.4 L462.3 1754.9 L462.6 1753.5 L463 1752 L463.4 1750.5 L463.7 1749.1 L464.1 1747.6 L464.4 1746.1 L464.8 1744.7 L465.2 1743.2 L465.5 1741.8 L465.9 1740.3 L466.3 1738.9 L466.6 1737.4 L467 1735.9 L467.4 1734.5 L467.8 1733 L468.1 1731.6 L468.5 1730.1 L468.9 1728.7 L469.3 1727.2 L469.7 1725.7 L470 1724.3 L470.4 1722.8 L470.8 1721.4 L471.2 1719.9 L471.6 1718.5 L472 1717 L472.4 1715.6 L472.8 1714.1 L473.3 1712.7 L473.7 1711.3 L474.1 1709.8 L474.5 1708.4 L474.9 1706.9 L475.4 1705.5 L475.8 1704 L476.2 1702.6 L476.7 1701.2 L477.1 1699.7 L477.6 1698.3 L478 1696.8 L478.4 1695.4 L478.9 1694 L479.3 1692.5 L479.8 1691.1 L480.2 1689.7 L480.7 1688.2 L481.1 1686.8 L481.6 1685.3 L482 1683.9 L482.5 1682.5 L482.9 1681 L483.3 1679.6 L483.8 1678.2 L484.2 1676.7 L484.6 1675.3 L485.1 1673.8 L485.5 1672.4 L485.9 1671 L486.3 1669.5 L486.8 1668.1 L487.2 1666.6 L487.6 1665.2 L488 1663.7 L488.4 1662.3 L488.8 1660.8 L489.2 1659.4 L489.5 1657.9 L489.9 1656.5 L490.3 1655 L490.7 1653.5 L491 1652.1 L491.4 1650.6 L491.7 1649.2 L492 1647.7 L492.4 1646.2 L492.7 1644.7 L493 1643.3 L493.3 1641.8 L493.6 1640.3 L493.9 1638.9 L494.2 1637.4 L494.5 1635.9 L494.8 1634.4 L495.2 1633 L495.5 1631.5 L495.8 1630 L496.1 1628.5 L496.4 1627 L496.7 1625.6 L497 1624.1 L497.3 1622.6 L497.6 1621.2 L498 1619.7 L498.3 1618.2 L498.7 1616.8 L499 1615.3 L499.4 1613.8 L499.8 1612.4 L500.1 1610.9 L500.5 1609.5 L500.9 1608 L501.4 1606.6 L501.8 1605.1 L502.2 1603.7 L502.7 1602.3 L503.2 1600.8 L503.7 1599.4 L504.2 1598 L504.7 1596.5 L505.2 1595.1 L505.8 1593.7 L506.4 1592.3 L507 1590.9 L507.6 1589.6 L508.2 1588.2 L508.9 1586.8 L509.5 1585.5 L510.2 1584.1 L510.9 1582.8 L511.7 1581.5 L512.4 1580.2 L513.2 1578.9 L514 1577.6 L514.8 1576.4 L515.6 1575.1 L516.5 1573.9 L517.4 1572.7 L518.3 1571.5 L519.2 1570.3 L520.2 1569.1 L521.2 1568 L522.2 1566.9 L523.2 1565.7 L524.2 1564.7 L525.3 1563.6 L526.3 1562.5 L527.4 1561.5 L528.5 1560.5 L529.7 1559.5 L530.8 1558.5 L532 1557.5 L533.1 1556.6 L534.3 1555.7 L535.5 1554.8 L536.8 1553.9 L538 1553 L539.2 1552.2 L540.5 1551.4 L541.7 1550.5 L543 1549.7 L544.3 1548.9 L545.6 1548.2 L546.9 1547.4 L548.2 1546.6 L549.5 1545.9 L550.8 1545.2 L552.1 1544.4 L553.5 1543.7 L554.8 1543 L556.1 1542.3 L557.4 1541.5 L558.8 1540.8 L560.1 1540.1 L561.4 1539.4 L562.8 1538.7 L564.1 1538 L565.5 1537.3 L566.8 1536.6 L568.1 1536 L569.5 1535.3 L570.8 1534.6 L572.2 1533.9 L573.5 1533.3 L574.9 1532.6 L576.2 1532 L577.6 1531.3 L579 1530.7 L580.3 1530.1 L581.7 1529.4 L583.1 1528.8 L584.5 1528.2 L585.8 1527.6 L587.2 1527 L588.6 1526.4 L590 1525.9 L591.4 1525.3 L592.8 1524.8 L594.2 1524.2 L595.6 1523.7 L597 1523.1 L598.4 1522.6 L599.9 1522.1 L601.3 1521.6 L602.7 1521.2 L604.1 1520.7 L605.6 1520.2 L607 1519.8 L608.5 1519.4 L609.9 1519 L611.4 1518.6 L612.8 1518.2 L614.3 1517.8 L615.7 1517.5 L617.2 1517.1 L618.7 1516.8 L620.1 1516.5 L621.6 1516.2 L623.1 1516 L624.6 1515.7 L626.1 1515.5 L627.6 1515.2 L629 1515 L630.5 1514.8 L632 1514.7 L633.5 1514.5 L635 1514.3 L636.5 1514.2 L638 1514.1 L639.5 1514 L641 1513.9 L642.5 1513.8 L644 1513.8 L645.5 1513.7 L647.1 1513.7 L648.6 1513.7 L650.1 1513.7 L651.6 1513.7 L653.1 1513.7 L654.6 1513.7 L656.1 1513.8 L657.6 1513.8 L659.1 1513.9 L660.6 1514 L662.1 1514.1 L663.6 1514.2 L665.1 1514.3 L666.6 1514.4 L668.1 1514.5 L669.6 1514.6 L671.1 1514.8 L672.6 1514.9 L674.1 1515.1 L675.6 1515.2 L677.1 1515.4 L678.6 1515.5 L680.1 1515.7 L681.6 1515.9 L683.1 1516.1 L684.6 1516.2 L686.1 1516.4 L687.5 1516.6 L689 1516.8 L690.5 1517 L692 1517.2 L693.5 1517.4 L695 1517.6 L696.5 1517.9 L698 1518.1 L699.5 1518.3 L701 1518.5 L702.4 1518.7 L703.9 1519 L705.4 1519.2 L706.9 1519.4 L708.4 1519.7 L709.9 1519.9 L711.4 1520.1 L712.9 1520.3 L714.3 1520.6 L715.8 1520.8 L717.3 1521 L718.8 1521.3 L720.3 1521.5 L721.8 1521.7 L723.3 1522 L724.8 1522.2 L726.2 1522.4 L727.7 1522.7 L729.2 1522.9 L730.7 1523.1 L732.2 1523.3 L733.7 1523.6 L735.2 1523.8 L736.7 1524 L738.1 1524.3 L739.6 1524.5 L741.1 1524.7 L742.6 1525 L744.1 1525.2 L745.6 1525.5 L747.1 1525.7 L748.5 1525.9 L750 1526.2 L751.5 1526.4 L753 1526.7 L754.5 1527 L756 1527.2 L757.4 1527.5 L758.9 1527.7 L760.4 1528 L761.9 1528.3 L763.4 1528.6 L764.8 1528.8 L766.3 1529.1 L767.8 1529.4 L769.3 1529.7 L770.7 1530 L772.2 1530.3 L773.7 1530.6 L775.1 1530.9 L776.6 1531.3 L778.1 1531.6 L779.5 1531.9 L781 1532.3 L782.5 1532.6 L783.9 1533 L785.4 1533.3 L786.8 1533.7 L788.3 1534 L789.8 1534.4 L791.2 1534.8 L792.7 1535.2 L794.1 1535.6 L795.6 1535.9 L797 1536.3 L798.5 1536.7 L799.9 1537.1 L801.4 1537.5 L802.8 1538 L804.3 1538.4 L805.7 1538.8 L807.1 1539.2 L808.6 1539.6 L810 1540.1 L811.5 1540.5 L812.9 1540.9 L814.4 1541.3 L815.8 1541.8 L817.2 1542.2 L818.7 1542.7 L820.1 1543.1 L821.6 1543.5 L823 1544 L824.4 1544.4 L825.9 1544.9 L827.3 1545.3 L828.8 1545.8 L830.2 1546.2 L831.6 1546.7 L833.1 1547.1 L834.5 1547.6"/>
<path d="M203.5 1871.8 L204.4 1872.3 L205.9 1872.2 L207.3 1872.7 L208.7 1872.8 L210.2 1872.9 L211.6 1874.7 L213 1874 L214.5 1874.5 L215.9 1875.1 L217.4 1877 L218.8 1877 L220.2 1876.9 L221.7 1877.7 L223.1 1878.6 L224.5 1879.4 L226 1878.4 L227.4 1880.4 L228.9 1880.2 L230.3 1880.3 L231.7 1880.8 L233.2 1881.8 L234.6 1882.6 L236.1 1881.9 L237.5 1882.3 L238.9 1881.6 L240.4 1882.5 L241.8 1882.8 L243.3 1881.6 L244.7 1882.3 L246.2 1883.3 L247.6 1882.1 L249.1 1883.2 L250.5 1884.2 L252 1883.2 L253.4 1884.4 L254.9 1885.1 L256.3 1886.1 L257.8 1885.3 L259.3 1887.2 L260.7 1887.2 L262.2 1888.2 L263.6 1888.6 L265.1 1888.5 L266.5 1888.9 L268 1887.9 L269.5 1888.4 L270.9 1888.9 L272.4 1889.6 L273.9 1890.7 L275.3 1889.3 L276.8 1890.5 L278.3 1890.3 L279.7 1890.6 L281.2 1892.8 L282.7 1892.5 L284.1 1894 L285.6 1894.3 L287.1 1893.6 L288.6 1893.6 L290 1896.6 L291.5 1895.7 L293 1895.8 L294.5 1897.4 L296 1897.5 L297.4 1897.4 L298.9 1897.9 L300.4 1898.5 L301.9 1898.7 L303.3 1899.3 L304.8 1898.8 L306.3 1898.9 L307.7 1899.7 L309.2 1899.6 L310.6 1900.3 L312.1 1899.7 L313.5 1900.1 L315 1899.8 L316.4 1901.7 L317.8 1900.4 L319.3 1901.8 L320.7 1901.7 L322.1 1902.9 L323.5 1903.8 L324.9 1902.9 L326.3 1904.3 L327.7 1904 L329.1 1906.4 L330.4 1905.8 L331.8 1905.6 L333.2 1906.7 L334.5 1908.3 L335.9 1908.9 L337.3 1909.2 L338.6 1908.4 L340 1909.3 L341.4 1910.8 L342.7 1909.9 L344.1 1910.7 L345.5 1910.9 L346.9 1911.4 L348.3 1913.5 L349.7 1913.8 L351.1 1914.4 L352.5 1915.2 L353.9 1916.3 L355.3 1917.3 L356.8 1917.1 L358.2 1917.6 L359.6 1917.8 L361.1 1919.6 L362.6 1919.1 L364 1918.9 L365.5 1919.9 L366.9 1920.2 L368.4 1920.7 L369.9 1920.8 L371.3 1919.6 L372.8 1919.3 L374.3 1919.3 L375.7 1918.5 L377.2 1918.7 L378.6 1918.5 L380.1 1917.8 L381.5 1916.8 L382.9 1916.5 L384.3 1916.6 L385.7 1915.4 L387.1 1915.1 L388.5 1914.4 L389.9 1913.5 L391.2 1912.7 L392.5 1912 L393.9 1911.1 L395.2 1910.3 L396.4 1909.4 L397.7 1908.6 L399 1907.7 L400.2 1906.8 L401.4 1905.9 L402.6 1905 L403.8 1904 L405 1903 L406.1 1902 L407.2 1901 L408.3 1900 L409.4 1898.9 L410.5 1897.9 L411.5 1896.8 L412.6 1895.7 L413.6 1894.6 L414.6 1893.4 L415.6 1892.3 L416.5 1891.1 L417.4 1889.9 L418.4 1888.7 L419.3 1887.5 L420.1 1886.3 L421 1885.1 L421.9 1883.8 L422.7 1882.6 L423.5 1881.3 L424.3 1880 L425.1 1878.8 L425.9 1877.5 L426.6 1876.1 L427.3 1874.8 L428.1 1873.5 L428.8 1872.2 L429.5 1870.8 L430.2 1869.5 L430.9 1868.1 L431.5 1866.8 L432.2 1865.4 L432.8 1864 L433.5 1862.6 L434.1 1861.3 L434.7 1859.9 L435.3 1858.5 L435.9 1857.1 L436.5 1855.7 L437.1 1854.3 L437.7 1852.9 L438.3 1851.5 L438.8 1850.1 L439.4 1848.7 L439.9 1847.3 L440.5 1845.9 L441 1844.5 L441.6 1843 L442.1 1841.6 L442.6 1840.2 L443.1 1838.8 L443.7 1837.4 L444.2 1836 L444.7 1834.5 L445.2 1833.1 L445.7 1831.7 L446.2 1830.3 L446.7 1828.9 L447.2 1827.4 L447.6 1826 L448.1 1824.6 L448.6 1823.2 L449.1 1821.7 L449.5 1820.3 L450 1818.9 L450.4 1817.4 L450.9 1816 L451.4 1814.6 L451.8 1813.1 L452.3 1811.7 L452.7 1810.3 L453.1 1808.8 L453.6 1807.4 L454 1806 L454.5 1804.5 L454.9 1803.1 L455.3 1801.6 L455.7 1800.2 L456.2 1798.8 L456.6 1797.3 L457 1795.9 L457.4 1794.4 L457.9 1793 L458.3 1791.5 L458.7 1790.1 L459.1 1788.6 L459.5 1787.2 L459.9 1785.8 L460.3 1784.3 L460.7 1782.9 L461.1 1781.4 L461.6 1780 L462 1778.5 L462.4 1777.1 L462.8 1775.6 L463.2 1774.2 L463.6 1772.7 L464 1771.2 L464.3 1769.8 L464.7 1768.3 L465.1 1766.9 L465.5 1765.4 L465.9 1764 L466.3 1762.5 L466.7 1761.1 L467.1 1759.6 L467.5 1758.2 L467.9 1756.7 L468.3 1755.3 L468.7 1753.8 L469 1752.4 L469.4 1750.9 L469.8 1749.4 L470.2 1748 L470.6 1746.5 L471 1745.1 L471.4 1743.6 L471.8 1742.2 L472.2 1740.7 L472.5 1739.3 L472.9 1737.8 L473.3 1736.4 L473.7 1734.9 L474.1 1733.5 L474.5 1732 L474.9 1730.6 L475.3 1729.1 L475.7 1727.6 L476.1 1726.2 L476.5 1724.7 L476.9 1723.3 L477.3 1721.8 L477.7 1720.4 L478.1 1718.9 L478.5 1717.5 L478.9 1716 L479.3 1714.6 L479.7 1713.1 L480.1 1711.7 L480.5 1710.2 L480.9 1708.8 L481.3 1707.3 L481.7 1705.9 L482.1 1704.5 L482.6 1703 L483 1701.6 L483.4 1700.1 L483.8 1698.7 L484.3 1697.2 L484.7 1695.8 L485.1 1694.4 L485.6 1692.9 L486 1691.5 L486.4 1690 L486.9 1688.6 L487.3 1687.2 L487.8 1685.7 L488.3 1684.3 L488.7 1682.9 L489.2 1681.4 L489.7 1680 L490.1 1678.6 L490.6 1677.2 L491.1 1675.7 L491.6 1674.3 L492.1 1672.9 L492.6 1671.5 L493.1 1670 L493.6 1668.6 L494.1 1667.2 L494.6 1665.8 L495.1 1664.4 L495.6 1663 L496.2 1661.6 L496.7 1660.1 L497.2 1658.7 L497.8 1657.3 L498.3 1655.9 L498.9 1654.5 L499.4 1653.1 L500 1651.7 L500.5 1650.3 L501.1 1648.9 L501.7 1647.5 L502.2 1646.1 L502.8 1644.7 L503.4 1643.3 L504 1641.9 L504.6 1640.5 L505.2 1639.1 L505.8 1637.7 L506.5 1636.3 L507.1 1634.9 L507.8 1633.6 L508.5 1632.2 L509.2 1630.9 L509.9 1629.6 L510.6 1628.3 L511.4 1627 L512.2 1625.7 L513 1624.5 L513.9 1623.2 L514.7 1622 L515.6 1620.8 L516.5 1619.6 L517.5 1618.5 L518.5 1617.4 L519.5 1616.3 L520.5 1615.2 L521.6 1614.1 L522.7 1613.1 L523.8 1612.1 L524.9 1611.1 L526.1 1610.1 L527.3 1609.2 L528.5 1608.3 L529.7 1607.4 L530.9 1606.6 L532.2 1605.7 L533.5 1604.9 L534.8 1604.1 L536.1 1603.4 L537.4 1602.7 L538.7 1602 L540 1601.3 L541.4 1600.6 L542.8 1600 L544.2 1599.4 L545.5 1598.8 L546.9 1598.2 L548.3 1597.7 L549.8 1597.2 L551.2 1596.7 L552.6 1596.2 L554.1 1595.7 L555.5 1595.2 L556.9 1594.8 L558.4 1594.3 L559.9 1593.9 L561.3 1593.5 L562.8 1593.1 L564.2 1592.7 L565.7 1592.3 L567.2 1591.9 L568.6 1591.5 L570.1 1591.2 L571.6 1590.8 L573.1 1590.5 L574.5 1590.2 L576 1589.9 L577.5 1589.6 L579 1589.3 L580.5 1589 L581.9 1588.7 L583.4 1588.5 L584.9 1588.2 L586.4 1588 L587.9 1587.7 L589.4 1587.5 L590.9 1587.3 L592.4 1587.1 L593.9 1587 L595.3 1586.8 L596.8 1586.6 L598.3 1586.5 L599.8 1586.4 L601.3 1586.3 L602.8 1586.2 L604.3 1586.1 L605.9 1586 L607.4 1585.9 L608.9 1585.9 L610.4 1585.8 L611.9 1585.8 L613.4 1585.8 L614.9 1585.8 L616.4 1585.8 L617.9 1585.9 L619.4 1585.9 L620.9 1586 L622.4 1586 L623.9 1586.1 L625.4 1586.2 L626.9 1586.3 L628.4 1586.5 L629.9 1586.6 L631.4 1586.8 L632.9 1586.9 L634.4 1587.1 L635.9 1587.3 L637.4 1587.5 L638.9 1587.7 L640.4 1588 L641.8 1588.2 L643.3 1588.5 L644.8 1588.7 L646.3 1589 L647.8 1589.3 L649.2 1589.6 L650.7 1589.9 L652.2 1590.2 L653.7 1590.5 L655.1 1590.8 L656.6 1591.1 L658.1 1591.4 L659.6 1591.8 L661 1592.1 L662.5 1592.5 L663.9 1592.8 L665.4 1593.2 L666.9 1593.6 L668.3 1593.9 L669.8 1594.3 L671.2 1594.7 L672.7 1595.1 L674.1 1595.4 L675.6 1595.8 L677.1 1596.2 L678.5 1596.6 L680 1597 L681.4 1597.4 L682.9 1597.8 L684.3 1598.3 L685.7 1598.7 L687.2 1599.1 L688.6 1599.5 L690.1 1599.9 L691.5 1600.4 L693 1600.8 L694.4 1601.2 L695.9 1601.6 L697.3 1602.1 L698.7 1602.5 L700.2 1602.9 L701.6 1603.4 L703.1 1603.8 L704.5 1604.3 L705.9 1604.7 L707.4 1605.1 L708.8 1605.6 L710.3 1606 L711.7 1606.5 L713.1 1606.9 L714.6 1607.3 L716 1607.8 L717.5 1608.2 L718.9 1608.6 L720.4 1609.1 L721.8 1609.5 L723.2 1609.9 L724.7 1610.4 L726.1 1610.8 L727.6 1611.2 L729 1611.7 L730.5 1612.1 L731.9 1612.5 L733.3 1613 L734.8 1613.4 L736.2 1613.8 L737.7 1614.3 L739.1 1614.7 L740.6 1615.1 L742 1615.6 L743.4 1616 L744.9 1616.4 L746.3 1616.9 L747.8 1617.3 L749.2 1617.7 L750.6 1618.2 L752.1 1618.6 L753.5 1619.1 L755 1619.5 L756.4 1620 L757.8 1620.4 L759.3 1620.9 L760.7 1621.4 L762.1 1621.8 L763.5 1622.3 L765 1622.8 L766.4 1623.2 L767.8 1623.7 L769.3 1624.2 L770.7 1624.7 L772.1 1625.2 L773.5 1625.7 L774.9 1626.2 L776.3 1626.7 L777.8 1627.2 L779.2 1627.7 L780.6 1628.2 L782 1628.8 L783.4 1629.3 L784.8 1629.8 L786.2 1630.4 L787.6 1630.9 L789 1631.5 L790.4 1632 L791.8 1632.6 L793.2 1633.2 L794.6 1633.7 L796 1634.3 L797.3 1634.9 L798.7 1635.5 L800.1 1636 L801.5 1636.6 L802.9 1637.2 L804.3 1637.8 L805.7 1638.4 L807 1639 L808.4 1639.6 L809.8 1640.2 L811.2 1640.8 L812.6 1641.4 L813.9 1642 L815.3 1642.7 L816.7 1643.3 L818.1 1643.9 L819.4 1644.5 L820.8 1645.1 L822.2 1645.8 L823.5 1646.4 L824.9 1647 L826.3 1647.6 L827.7 1648.3 L829 1648.9 L830.4 1649.5 L831.8 1650.1 L833.1 1650.8 L834.5 1651.4"/>
<path d="M203.5 1874.9 L204.4 1875.6 L205.9 1876.2 L207.3 1875.2 L208.8 1875.2 L210.2 1876.1 L211.6 1876.1 L213.1 1877.7 L214.5 1877 L215.9 1878 L217.4 1877.6 L218.8 1878.7 L220.3 1879.5 L221.7 1880.7 L223.2 1879.7 L224.6 1880.7 L226 1879.6 L227.5 1880.4 L228.9 1880.8 L230.4 1881.2 L231.8 1882 L233.3 1882.3 L234.7 1881.1 L236.2 1882.6 L237.6 1881.9 L239 1883.9 L240.5 1883.3 L242 1883.6 L243.4 1883.8 L244.9 1884.4 L246.3 1884.9 L247.8 1885.1 L249.2 1886.6 L250.7 1886.9 L252.1 1887.8 L253.6 1888 L255 1889 L256.5 1888.7 L258 1891.8 L259.4 1889.8 L260.9 1890.4 L262.4 1891.6 L263.8 1892.1 L265.3 1891.2 L266.8 1891 L268.2 1891.4 L269.7 1891.9 L271.2 1892.3 L272.6 1893 L274.1 1894.1 L275.6 1894.4 L277.1 1893.8 L278.5 1894.9 L280 1895.5 L281.5 1896.3 L283 1895.8 L284.4 1895.9 L285.9 1897.2 L287.4 1898 L288.9 1897.1 L290.4 1898.9 L291.9 1899 L293.3 1897.9 L294.8 1897.2 L296.3 1897.9 L297.8 1898.1 L299.3 1898.6 L300.8 1897.3 L302.2 1899.7 L303.7 1899.7 L305.2 1897.9 L306.6 1897.4 L308.1 1898.6 L309.6 1899.2 L311 1900 L312.5 1900.1 L313.9 1900 L315.3 1899.4 L316.8 1901.4 L318.2 1902.2 L319.6 1902.2 L321 1903.2 L322.4 1903.8 L323.8 1904.2 L325.1 1904.3 L326.5 1905.8 L327.9 1905.4 L329.2 1907.7 L330.6 1907 L331.9 1908.4 L333.3 1908.3 L334.6 1909.6 L335.9 1910 L337.3 1911.1 L338.6 1911 L340 1911.3 L341.3 1912.9 L342.6 1913.6 L344 1913.8 L345.3 1915.1 L346.7 1915.4 L348.1 1917.3 L349.5 1917.9 L350.9 1918.9 L352.3 1921.2 L353.7 1920.4 L355.1 1921.1 L356.6 1921.8 L358 1921.7 L359.5 1921.8 L361 1922.8 L362.5 1923 L363.9 1920.6 L365.4 1922.2 L366.9 1921.9 L368.4 1921.5 L369.9 1922.2 L371.4 1920.8 L372.9 1921.2 L374.3 1920.1 L375.8 1919.8 L377.3 1919.9 L378.7 1918.9 L380.2 1918.8 L381.6 1918 L383.1 1917.7 L384.5 1917.6 L385.9 1917 L387.3 1916.1 L388.7 1915.5 L390.1 1915.4 L391.5 1914.3 L392.8 1913.7 L394.2 1913 L395.5 1912.3 L396.8 1911.5 L398.1 1910.7 L399.4 1909.9 L400.7 1909.1 L401.9 1908.2 L403.2 1907.3 L404.4 1906.4 L405.6 1905.5 L406.8 1904.6 L408 1903.6 L409.1 1902.6 L410.3 1901.7 L411.4 1900.6 L412.5 1899.6 L413.5 1898.5 L414.6 1897.5 L415.6 1896.4 L416.7 1895.3 L417.6 1894.2 L418.6 1893 L419.6 1891.9 L420.5 1890.7 L421.4 1889.5 L422.3 1888.3 L423.2 1887.1 L424.1 1885.8 L424.9 1884.6 L425.7 1883.3 L426.5 1882.1 L427.3 1880.8 L428.1 1879.5 L428.9 1878.2 L429.6 1876.9 L430.4 1875.6 L431.1 1874.2 L431.8 1872.9 L432.5 1871.6 L433.2 1870.2 L433.8 1868.8 L434.5 1867.5 L435.2 1866.1 L435.8 1864.7 L436.4 1863.3 L437.1 1862 L437.7 1860.6 L438.3 1859.2 L438.9 1857.8 L439.5 1856.4 L440.1 1855 L440.6 1853.6 L441.2 1852.2 L441.8 1850.8 L442.3 1849.4 L442.9 1848 L443.5 1846.6 L444 1845.1 L444.5 1843.7 L445.1 1842.3 L445.6 1840.9 L446.1 1839.5 L446.6 1838.1 L447.2 1836.7 L447.7 1835.3 L448.2 1833.8 L448.7 1832.4 L449.2 1831 L449.7 1829.6 L450.1 1828.2 L450.6 1826.7 L451.1 1825.3 L451.6 1823.9 L452.1 1822.5 L452.5 1821 L453 1819.6 L453.4 1818.2 L453.9 1816.7 L454.4 1815.3 L454.8 1813.9 L455.2 1812.4 L455.7 1811 L456.1 1809.6 L456.6 1808.1 L457 1806.7 L457.4 1805.3 L457.9 1803.8 L458.3 1802.4 L458.7 1800.9 L459.1 1799.5 L459.5 1798.1 L460 1796.6 L460.4 1795.2 L460.8 1793.7 L461.2 1792.3 L461.6 1790.8 L462 1789.4 L462.4 1787.9 L462.8 1786.5 L463.2 1785 L463.6 1783.6 L464 1782.1 L464.4 1780.7 L464.8 1779.2 L465.2 1777.8 L465.6 1776.3 L466 1774.9 L466.4 1773.4 L466.8 1772 L467.2 1770.5 L467.6 1769.1 L468 1767.6 L468.4 1766.2 L468.8 1764.7 L469.2 1763.3 L469.6 1761.8 L470 1760.4 L470.4 1758.9 L470.8 1757.5 L471.2 1756 L471.6 1754.6 L472 1753.1 L472.4 1751.7 L472.8 1750.2 L473.2 1748.8 L473.6 1747.3 L474 1745.9 L474.4 1744.4 L474.8 1743 L475.2 1741.5 L475.7 1740.1 L476.1 1738.6 L476.5 1737.2 L476.9 1735.7 L477.3 1734.3 L477.7 1732.8 L478.1 1731.4 L478.5 1730 L479 1728.5 L479.4 1727.1 L479.8 1725.6 L480.2 1724.2 L480.6 1722.7 L481 1721.3 L481.5 1719.9 L481.9 1718.4 L482.3 1717 L482.7 1715.5 L483.2 1714.1 L483.6 1712.7 L484 1711.2 L484.5 1709.8 L484.9 1708.3 L485.3 1706.9 L485.7 1705.5 L486.2 1704 L486.6 1702.6 L487 1701.1 L487.5 1699.7 L487.9 1698.3 L488.3 1696.8 L488.8 1695.4 L489.2 1693.9 L489.6 1692.5 L490.1 1691.1 L490.5 1689.6 L490.9 1688.2 L491.4 1686.7 L491.8 1685.3 L492.2 1683.8 L492.6 1682.4 L493.1 1680.9 L493.5 1679.5 L493.9 1678 L494.3 1676.6 L494.8 1675.1 L495.2 1673.7 L495.6 1672.2 L496 1670.8 L496.4 1669.3 L496.9 1667.8 L497.3 1666.4 L497.7 1664.9 L498.2 1663.5 L498.6 1662 L499.1 1660.6 L499.5 1659.1 L500 1657.7 L500.5 1656.2 L501 1654.8 L501.4 1653.4 L501.9 1651.9 L502.5 1650.5 L503 1649.1 L503.5 1647.7 L504.1 1646.3 L504.7 1644.9 L505.2 1643.5 L505.8 1642.1 L506.5 1640.7 L507.1 1639.4 L507.8 1638 L508.5 1636.7 L509.2 1635.4 L510 1634.2 L510.8 1633 L511.7 1631.9 L512.6 1630.8 L513.6 1629.8 L514.6 1628.8 L515.7 1627.9 L516.8 1627 L518 1626.2 L519.2 1625.5 L520.5 1624.8 L521.8 1624.1 L523.1 1623.5 L524.5 1622.9 L525.9 1622.4 L527.3 1621.9 L528.8 1621.4 L530.2 1621 L531.7 1620.5 L533.2 1620.1 L534.7 1619.8 L536.3 1619.4 L537.8 1619 L539.3 1618.7 L540.9 1618.4 L542.4 1618.1 L543.9 1617.7 L545.5 1617.4 L547 1617.1 L548.5 1616.8 L550 1616.5 L551.5 1616.2 L553 1615.9 L554.5 1615.7 L556 1615.4 L557.5 1615.1 L559 1614.9 L560.5 1614.6 L562 1614.4 L563.5 1614.2 L565 1613.9 L566.5 1613.7 L568 1613.5 L569.5 1613.3 L570.9 1613.2 L572.4 1613 L573.9 1612.8 L575.4 1612.7 L576.9 1612.5 L578.4 1612.4 L579.9 1612.3 L581.4 1612.2 L582.8 1612.1 L584.3 1612.1 L585.8 1612 L587.3 1612 L588.8 1611.9 L590.3 1611.9 L591.8 1611.9 L593.3 1611.9 L594.8 1611.9 L596.3 1612 L597.8 1612 L599.3 1612.1 L600.8 1612.2 L602.3 1612.3 L603.8 1612.4 L605.3 1612.5 L606.8 1612.7 L608.3 1612.8 L609.8 1613 L611.3 1613.2 L612.8 1613.4 L614.3 1613.6 L615.8 1613.9 L617.3 1614.1 L618.7 1614.4 L620.2 1614.6 L621.7 1614.9 L623.2 1615.2 L624.6 1615.5 L626.1 1615.9 L627.6 1616.2 L629 1616.5 L630.5 1616.9 L632 1617.2 L633.4 1617.6 L634.9 1618 L636.3 1618.4 L637.8 1618.7 L639.2 1619.1 L640.7 1619.5 L642.1 1619.9 L643.6 1620.4 L645 1620.8 L646.5 1621.2 L647.9 1621.6 L649.4 1622 L650.8 1622.5 L652.3 1622.9 L653.7 1623.3 L655.2 1623.7 L656.6 1624.2 L658.1 1624.6 L659.5 1625 L661 1625.4 L662.4 1625.9 L663.9 1626.3 L665.3 1626.7 L666.8 1627.1 L668.2 1627.5 L669.7 1628 L671.1 1628.4 L672.6 1628.8 L674 1629.2 L675.4 1629.7 L676.9 1630.1 L678.3 1630.5 L679.8 1631 L681.2 1631.4 L682.7 1631.8 L684.1 1632.3 L685.5 1632.7 L687 1633.1 L688.4 1633.6 L689.9 1634 L691.3 1634.5 L692.7 1634.9 L694.2 1635.4 L695.6 1635.8 L697 1636.3 L698.4 1636.8 L699.9 1637.2 L701.3 1637.7 L702.7 1638.2 L704.1 1638.7 L705.6 1639.2 L707 1639.6 L708.4 1640.1 L709.8 1640.6 L711.2 1641.1 L712.6 1641.7 L714.1 1642.2 L715.5 1642.7 L716.9 1643.2 L718.3 1643.8 L719.7 1644.3 L721.1 1644.8 L722.5 1645.4 L723.9 1646 L725.3 1646.5 L726.7 1647.1 L728 1647.7 L729.4 1648.2 L730.8 1648.8 L732.2 1649.4 L733.6 1650 L735 1650.6 L736.3 1651.2 L737.7 1651.9 L739.1 1652.5 L740.4 1653.1 L741.8 1653.7 L743.2 1654.4 L744.5 1655 L745.9 1655.7 L747.2 1656.3 L748.6 1657 L749.9 1657.7 L751.3 1658.3 L752.6 1659 L754 1659.7 L755.3 1660.4 L756.7 1661 L758 1661.7 L759.3 1662.4 L760.7 1663.1 L762 1663.9 L763.3 1664.6 L764.7 1665.3 L766 1666 L767.3 1666.7 L768.6 1667.5 L769.9 1668.2 L771.2 1668.9 L772.6 1669.7 L773.9 1670.4 L775.2 1671.2 L776.5 1671.9 L777.8 1672.7 L779.1 1673.5 L780.4 1674.2 L781.7 1675 L782.9 1675.8 L784.2 1676.5 L785.5 1677.3 L786.8 1678.1 L788.1 1678.9 L789.4 1679.7 L790.6 1680.5 L791.9 1681.3 L793.2 1682.1 L794.5 1682.9 L795.7 1683.7 L797 1684.5 L798.3 1685.3 L799.5 1686.1 L800.8 1686.9 L802.1 1687.8 L803.3 1688.6 L804.6 1689.4 L805.8 1690.2 L807.1 1691.1 L808.3 1691.9 L809.6 1692.7 L810.9 1693.6 L812.1 1694.4 L813.4 1695.2 L814.6 1696.1 L815.9 1696.9 L817.1 1697.7 L818.3 1698.6 L819.6 1699.4 L820.8 1700.3 L822.1 1701.1 L823.3 1702 L824.6 1702.8 L825.8 1703.7 L827.1 1704.5 L828.3 1705.3 L829.5 1706.2 L830.8 1707 L832 1707.9 L833.3 1708.7 L834.5 1709.6"/>
<path d="M203.5 1875.5 L204.4 1876.4 L205.9 1877.2 L207.3 1877.4 L208.8 1877.5 L210.2 1878.4 L211.7 1878.3 L213.1 1879.2 L214.6 1880.5 L216 1880.8 L217.4 1881.5 L218.9 1880.9 L220.3 1881.7 L221.8 1881.4 L223.2 1883 L224.7 1882.5 L226.1 1882.3 L227.6 1883.1 L229 1883.9 L230.5 1882.8 L231.9 1883.6 L233.4 1885.5 L234.8 1885.4 L236.3 1885.8 L237.7 1885.3 L239.2 1887.8 L240.7 1888.1 L242.1 1888.5 L243.6 1888 L245 1889.7 L246.5 1890.7 L248 1890.4 L249.4 1891 L250.9 1891.4 L252.4 1892.5 L253.8 1892.4 L255.3 1892.7 L256.8 1892.3 L258.2 1892.4 L259.7 1894.1 L261.2 1894.6 L262.6 1894.3 L264.1 1894.7 L265.6 1893.7 L267.1 1894.1 L268.5 1894.5 L270 1894.3 L271.5 1895.6 L273 1894 L274.5 1894.8 L275.9 1895.2 L277.4 1895.3 L278.9 1896.5 L280.4 1895.1 L281.9 1897.3 L283.4 1897.4 L284.8 1897.2 L286.3 1898.1 L287.8 1898.8 L289.3 1897.6 L290.8 1898 L292.3 1897.8 L293.8 1897.9 L295.3 1897.4 L296.8 1897.3 L298.3 1898.2 L299.8 1897.7 L301.2 1898.7 L302.7 1898.9 L304.2 1898.5 L305.7 1899.4 L307.1 1899.8 L308.6 1900.2 L310.1 1901.5 L311.5 1901.5 L313 1902.3 L314.4 1901.7 L315.8 1904 L317.2 1903.4 L318.6 1904.8 L320 1906.6 L321.4 1907.4 L322.8 1906.8 L324.2 1906.9 L325.5 1908.6 L326.9 1908.7 L328.2 1909.8 L329.5 1909.5 L330.9 1911.6 L332.2 1912.6 L333.5 1911.5 L334.8 1912.6 L336.1 1913.4 L337.4 1915.1 L338.7 1914.3 L340 1916.4 L341.4 1917 L342.7 1917.5 L344 1919.2 L345.3 1918.4 L346.7 1919.5 L348 1920.6 L349.4 1922.1 L350.8 1922 L352.2 1922.1 L353.6 1923.2 L355 1922.8 L356.4 1922.8 L357.9 1923 L359.4 1923.3 L360.8 1924.5 L362.3 1922 L363.8 1922.5 L365.3 1922 L366.8 1921.6 L368.3 1922.4 L369.9 1921.6 L371.4 1921.4 L372.9 1920.6 L374.4 1920.3 L375.9 1920.8 L377.4 1920.4 L378.8 1920.1 L380.3 1920.4 L381.8 1919.5 L383.3 1919.4 L384.7 1919.4 L386.2 1918.8 L387.6 1918.5 L389 1917.8 L390.4 1917.4 L391.9 1916.7 L393.2 1916.3 L394.6 1915.6 L396 1914.9 L397.3 1914.2 L398.6 1913.5 L400 1912.8 L401.3 1912 L402.5 1911.2 L403.8 1910.3 L405 1909.5 L406.3 1908.6 L407.5 1907.7 L408.7 1906.8 L409.8 1905.8 L411 1904.8 L412.1 1903.8 L413.2 1902.8 L414.3 1901.8 L415.4 1900.7 L416.5 1899.7 L417.5 1898.6 L418.5 1897.4 L419.5 1896.3 L420.5 1895.2 L421.5 1894 L422.4 1892.8 L423.3 1891.7 L424.2 1890.4 L425.1 1889.2 L426 1888 L426.8 1886.8 L427.6 1885.5 L428.5 1884.2 L429.3 1883 L430.1 1881.7 L430.8 1880.4 L431.6 1879.1 L432.3 1877.8 L433.1 1876.4 L433.8 1875.1 L434.5 1873.8 L435.2 1872.4 L435.9 1871.1 L436.6 1869.7 L437.3 1868.3 L437.9 1867 L438.6 1865.6 L439.2 1864.2 L439.9 1862.8 L440.5 1861.5 L441.1 1860.1 L441.8 1858.7 L442.4 1857.3 L443 1855.9 L443.6 1854.5 L444.2 1853.2 L444.8 1851.8 L445.4 1850.4 L446 1849 L446.6 1847.6 L447.2 1846.2 L447.8 1844.8 L448.4 1843.4 L448.9 1842 L449.5 1840.6 L450.1 1839.2 L450.6 1837.8 L451.2 1836.4 L451.7 1835 L452.2 1833.6 L452.8 1832.2 L453.3 1830.8 L453.8 1829.4 L454.3 1828 L454.8 1826.5 L455.3 1825.1 L455.8 1823.7 L456.3 1822.3 L456.8 1820.9 L457.2 1819.4 L457.7 1818 L458.2 1816.6 L458.6 1815.1 L459 1813.7 L459.5 1812.3 L459.9 1810.8 L460.3 1809.4 L460.7 1807.9 L461.1 1806.5 L461.5 1805 L461.9 1803.6 L462.3 1802.1 L462.7 1800.7 L463.1 1799.2 L463.5 1797.8 L463.8 1796.3 L464.2 1794.8 L464.6 1793.4 L465 1791.9 L465.3 1790.5 L465.7 1789 L466.1 1787.5 L466.4 1786.1 L466.8 1784.6 L467.2 1783.2 L467.5 1781.7 L467.9 1780.2 L468.3 1778.8 L468.7 1777.3 L469 1775.9 L469.4 1774.4 L469.8 1773 L470.2 1771.5 L470.6 1770.1 L471 1768.6 L471.4 1767.2 L471.8 1765.7 L472.2 1764.3 L472.6 1762.8 L473.1 1761.4 L473.5 1759.9 L473.9 1758.5 L474.3 1757.1 L474.7 1755.6 L475.2 1754.2 L475.6 1752.7 L476 1751.3 L476.4 1749.8 L476.8 1748.4 L477.3 1747 L477.7 1745.5 L478.1 1744.1 L478.5 1742.6 L478.9 1741.1 L479.3 1739.7 L479.7 1738.2 L480.1 1736.8 L480.5 1735.3 L480.9 1733.9 L481.2 1732.4 L481.6 1730.9 L482 1729.4 L482.3 1728 L482.7 1726.5 L483 1725 L483.4 1723.5 L483.7 1722 L484.1 1720.6 L484.4 1719.1 L484.8 1717.6 L485.2 1716.1 L485.5 1714.6 L485.9 1713.1 L486.3 1711.7 L486.7 1710.2 L487.1 1708.7 L487.5 1707.3 L487.9 1705.8 L488.3 1704.4 L488.8 1702.9 L489.2 1701.5 L489.7 1700 L490.2 1698.6 L490.8 1697.2 L491.3 1695.8 L491.9 1694.4 L492.5 1693 L493.1 1691.6 L493.7 1690.3 L494.4 1688.9 L495.1 1687.6 L495.8 1686.2 L496.6 1684.9 L497.4 1683.7 L498.2 1682.4 L499.1 1681.2 L500 1680 L501 1678.9 L501.9 1677.8 L503 1676.7 L504 1675.8 L505.1 1674.8 L506.3 1674 L507.5 1673.1 L508.7 1672.4 L510 1671.7 L511.3 1671.1 L512.7 1670.5 L514.1 1670 L515.5 1669.5 L516.9 1669 L518.3 1668.6 L519.8 1668.2 L521.3 1667.9 L522.8 1667.6 L524.3 1667.3 L525.8 1667 L527.3 1666.7 L528.8 1666.5 L530.3 1666.3 L531.8 1666 L533.3 1665.8 L534.8 1665.7 L536.3 1665.5 L537.8 1665.3 L539.3 1665.2 L540.9 1665.1 L542.4 1665 L543.9 1664.9 L545.4 1664.8 L546.9 1664.8 L548.4 1664.7 L550 1664.7 L551.5 1664.6 L553 1664.6 L554.5 1664.6 L556 1664.6 L557.5 1664.7 L559.1 1664.7 L560.6 1664.8 L562.1 1664.8 L563.6 1664.9 L565.1 1665 L566.6 1665.1 L568.2 1665.2 L569.7 1665.3 L571.2 1665.4 L572.7 1665.6 L574.2 1665.7 L575.7 1665.8 L577.2 1666 L578.7 1666.2 L580.2 1666.4 L581.7 1666.6 L583.2 1666.7 L584.7 1667 L586.2 1667.2 L587.7 1667.4 L589.2 1667.6 L590.7 1667.9 L592.2 1668.1 L593.7 1668.4 L595.2 1668.6 L596.6 1668.9 L598.1 1669.2 L599.6 1669.4 L601.1 1669.7 L602.6 1670 L604 1670.3 L605.5 1670.6 L607 1671 L608.5 1671.3 L609.9 1671.6 L611.4 1671.9 L612.9 1672.3 L614.3 1672.6 L615.8 1673 L617.3 1673.4 L618.7 1673.7 L620.2 1674.1 L621.6 1674.5 L623.1 1674.9 L624.6 1675.3 L626 1675.7 L627.5 1676.1 L628.9 1676.5 L630.4 1676.9 L631.8 1677.3 L633.3 1677.7 L634.7 1678.2 L636.1 1678.6 L637.6 1679 L639 1679.5 L640.5 1679.9 L641.9 1680.4 L643.4 1680.8 L644.8 1681.3 L646.2 1681.7 L647.7 1682.2 L649.1 1682.7 L650.5 1683.2 L651.9 1683.6 L653.4 1684.1 L654.8 1684.6 L656.2 1685.1 L657.7 1685.6 L659.1 1686.1 L660.5 1686.6 L661.9 1687.1 L663.3 1687.6 L664.8 1688.1 L666.2 1688.6 L667.6 1689.1 L669 1689.7 L670.4 1690.2 L671.8 1690.7 L673.2 1691.2 L674.6 1691.8 L676.1 1692.3 L677.5 1692.8 L678.9 1693.4 L680.3 1693.9 L681.7 1694.5 L683.1 1695 L684.5 1695.6 L685.9 1696.1 L687.3 1696.7 L688.7 1697.3 L690.1 1697.8 L691.5 1698.4 L692.9 1699 L694.2 1699.5 L695.6 1700.1 L697 1700.7 L698.4 1701.3 L699.8 1701.9 L701.2 1702.4 L702.6 1703 L704 1703.6 L705.3 1704.2 L706.7 1704.8 L708.1 1705.4 L709.5 1706 L710.9 1706.6 L712.3 1707.2 L713.6 1707.8 L715 1708.4 L716.4 1709.1 L717.8 1709.7 L719.1 1710.3 L720.5 1710.9 L721.9 1711.5 L723.2 1712.2 L724.6 1712.8 L726 1713.4 L727.3 1714 L728.7 1714.7 L730.1 1715.3 L731.4 1716 L732.8 1716.6 L734.2 1717.2 L735.5 1717.9 L736.9 1718.5 L738.3 1719.2 L739.6 1719.8 L741 1720.5 L742.3 1721.1 L743.7 1721.8 L745 1722.4 L746.4 1723.1 L747.7 1723.7 L749.1 1724.4 L750.5 1725.1 L751.8 1725.7 L753.2 1726.4 L754.5 1727.1 L755.8 1727.7 L757.2 1728.4 L758.5 1729.1 L759.9 1729.7 L761.2 1730.4 L762.6 1731.1 L763.9 1731.8 L765.3 1732.5 L766.6 1733.1 L768 1733.8 L769.3 1734.5 L770.6 1735.2 L772 1735.9 L773.3 1736.6 L774.7 1737.2 L776 1737.9 L777.3 1738.6 L778.7 1739.3 L780 1740 L781.3 1740.7 L782.7 1741.4 L784 1742.1 L785.3 1742.8 L786.7 1743.5 L788 1744.2 L789.3 1744.9 L790.7 1745.6 L792 1746.3 L793.3 1747 L794.7 1747.7 L796 1748.4 L797.3 1749.1 L798.7 1749.8 L800 1750.5 L801.3 1751.2 L802.7 1751.9 L804 1752.6 L805.3 1753.3 L806.6 1754 L808 1754.7 L809.3 1755.5 L810.6 1756.2 L812 1756.9 L813.3 1757.6 L814.6 1758.3 L815.9 1759 L817.3 1759.7 L818.6 1760.4 L819.9 1761.1 L821.2 1761.9 L822.6 1762.6 L823.9 1763.3 L825.2 1764 L826.5 1764.7 L827.9 1765.4 L829.2 1766.1 L830.5 1766.9 L831.9 1767.6 L833.2 1768.3 L834.5 1769"/>
<path d="M203.5 1878.5 L204.4 1879 L205.9 1880.4 L207.3 1880.2 L208.8 1880.6 L210.2 1881.7 L211.7 1882.7 L213.1 1882.1 L214.6 1884.4 L216 1884 L217.5 1885.3 L218.9 1886.2 L220.4 1885.9 L221.8 1886.4 L223.3 1886.2 L224.7 1886.4 L226.2 1886 L227.6 1887.4 L229.1 1887.6 L230.5 1886.9 L232 1888.9 L233.4 1890.1 L234.9 1889.8 L236.4 1890.8 L237.8 1890.4 L239.3 1890.5 L240.7 1891.6 L242.2 1891.8 L243.7 1891.7 L245.1 1893.4 L246.6 1893.2 L248.1 1892.9 L249.5 1893.6 L251 1893.6 L252.5 1894.1 L253.9 1894.7 L255.4 1893.4 L256.9 1893 L258.4 1894.6 L259.8 1895.2 L261.3 1893.4 L262.8 1893.3 L264.3 1893.2 L265.7 1894.1 L267.2 1894.4 L268.7 1894.4 L270.2 1895.4 L271.7 1894.8 L273.2 1895.3 L274.6 1895.2 L276.1 1897.2 L277.6 1897.4 L279.1 1897.9 L280.6 1896.9 L282.1 1898.5 L283.6 1898.1 L285.1 1898.6 L286.6 1898.7 L288.1 1898.4 L289.6 1898.6 L291.1 1898 L292.6 1898.8 L294.1 1899.2 L295.6 1898.9 L297 1900 L298.5 1901.1 L300 1900.5 L301.5 1900.7 L303 1901.3 L304.5 1902.4 L306 1904 L307.4 1903.6 L308.9 1904.1 L310.3 1903.9 L311.8 1905.5 L313.2 1906.2 L314.6 1906.1 L316.1 1906.8 L317.5 1906.8 L318.9 1908.1 L320.3 1908.9 L321.6 1908.7 L323 1909.2 L324.3 1909.4 L325.7 1909.5 L327 1909.9 L328.3 1910.7 L329.6 1911.6 L330.9 1912.1 L332.2 1913.4 L333.5 1914 L334.8 1915.2 L336.1 1915.6 L337.4 1915.8 L338.7 1916.9 L340 1916.8 L341.2 1919.6 L342.5 1919.1 L343.8 1920 L345.1 1922.2 L346.4 1921.2 L347.7 1922.1 L349 1923.1 L350.4 1923.3 L351.7 1924.2 L353 1924.7 L354.4 1925.3 L355.7 1925.1 L357.1 1925.8 L358.5 1925.3 L359.8 1926 L361.2 1926.4 L362.6 1924.7 L363.9 1925.6 L365.3 1925.7 L366.6 1924.4 L367.9 1923.5 L369.3 1925.3 L370.6 1924.6 L372 1925.2 L373.3 1924.6 L374.7 1924.3 L376 1923.9 L377.4 1923.7 L378.8 1923 L380.2 1922.8 L381.6 1922.8 L383 1921.9 L384.5 1921.6 L385.9 1920.9 L387.3 1920.3 L388.7 1919.6 L390.2 1919.3 L391.6 1918.5 L393 1918 L394.4 1917.3 L395.8 1916.7 L397.2 1916.1 L398.6 1915.5 L400 1914.8 L401.3 1914.1 L402.6 1913.4 L404 1912.7 L405.3 1911.9 L406.6 1911.1 L407.9 1910.3 L409.1 1909.5 L410.4 1908.7 L411.6 1907.8 L412.8 1906.9 L414 1906 L415.2 1905 L416.3 1904.1 L417.5 1903.1 L418.6 1902.1 L419.7 1901.1 L420.8 1900.1 L421.9 1899 L422.9 1897.9 L423.9 1896.9 L425 1895.8 L425.9 1894.6 L426.9 1893.5 L427.9 1892.3 L428.8 1891.1 L429.7 1890 L430.6 1888.8 L431.5 1887.5 L432.4 1886.3 L433.2 1885.1 L434.1 1883.8 L434.9 1882.5 L435.7 1881.3 L436.5 1880 L437.3 1878.7 L438 1877.4 L438.8 1876.1 L439.5 1874.7 L440.3 1873.4 L441 1872.1 L441.7 1870.7 L442.4 1869.4 L443.1 1868 L443.8 1866.7 L444.5 1865.3 L445.1 1863.9 L445.8 1862.6 L446.4 1861.2 L447.1 1859.8 L447.7 1858.4 L448.3 1857.1 L449 1855.7 L449.6 1854.3 L450.2 1852.9 L450.8 1851.5 L451.4 1850.2 L452 1848.8 L452.6 1847.4 L453.1 1846 L453.7 1844.6 L454.3 1843.2 L454.8 1841.8 L455.4 1840.4 L456 1839 L456.5 1837.6 L457 1836.2 L457.6 1834.8 L458.1 1833.4 L458.7 1832 L459.2 1830.6 L459.7 1829.2 L460.2 1827.8 L460.7 1826.4 L461.2 1825 L461.8 1823.5 L462.3 1822.1 L462.8 1820.7 L463.3 1819.3 L463.8 1817.9 L464.3 1816.4 L464.7 1815 L465.2 1813.6 L465.7 1812.2 L466.2 1810.8 L466.7 1809.3 L467.2 1807.9 L467.6 1806.5 L468.1 1805 L468.6 1803.6 L469 1802.2 L469.5 1800.8 L470 1799.3 L470.4 1797.9 L470.9 1796.5 L471.3 1795 L471.8 1793.6 L472.3 1792.2 L472.7 1790.7 L473.1 1789.3 L473.6 1787.9 L474 1786.4 L474.5 1785 L474.9 1783.6 L475.3 1782.1 L475.8 1780.7 L476.2 1779.3 L476.6 1777.8 L477.1 1776.4 L477.5 1775 L477.9 1773.5 L478.3 1772.1 L478.8 1770.7 L479.2 1769.2 L479.6 1767.8 L480 1766.4 L480.4 1764.9 L480.9 1763.5 L481.3 1762 L481.7 1760.6 L482.1 1759.1 L482.5 1757.7 L483 1756.3 L483.4 1754.8 L483.8 1753.4 L484.2 1751.9 L484.7 1750.4 L485.1 1749 L485.5 1747.5 L486 1746 L486.4 1744.6 L486.8 1743.1 L487.3 1741.6 L487.7 1740.1 L488.2 1738.7 L488.6 1737.2 L489.1 1735.7 L489.6 1734.2 L490 1732.7 L490.5 1731.2 L491 1729.8 L491.6 1728.3 L492.1 1726.9 L492.7 1725.5 L493.3 1724 L493.9 1722.7 L494.5 1721.3 L495.2 1719.9 L495.9 1718.6 L496.7 1717.3 L497.5 1716.1 L498.3 1714.9 L499.1 1713.7 L500 1712.5 L501 1711.4 L502 1710.4 L503 1709.3 L504.1 1708.3 L505.2 1707.4 L506.4 1706.5 L507.6 1705.7 L508.8 1704.9 L510.1 1704.1 L511.4 1703.4 L512.8 1702.8 L514.1 1702.2 L515.5 1701.6 L516.9 1701.1 L518.3 1700.6 L519.7 1700.2 L521.2 1699.8 L522.6 1699.5 L524.1 1699.2 L525.6 1698.9 L527 1698.7 L528.5 1698.6 L530 1698.4 L531.5 1698.3 L533 1698.3 L534.5 1698.3 L536 1698.3 L537.5 1698.3 L539.1 1698.4 L540.6 1698.5 L542.1 1698.6 L543.6 1698.8 L545.2 1698.9 L546.7 1699.1 L548.2 1699.3 L549.8 1699.5 L551.3 1699.8 L552.8 1700 L554.4 1700.3 L555.9 1700.6 L557.4 1700.9 L559 1701.2 L560.5 1701.5 L562 1701.8 L563.5 1702.1 L565 1702.4 L566.5 1702.7 L568 1703.1 L569.5 1703.4 L571 1703.7 L572.5 1704.1 L574 1704.4 L575.5 1704.8 L577 1705.1 L578.5 1705.5 L580 1705.9 L581.4 1706.2 L582.9 1706.6 L584.4 1707 L585.9 1707.4 L587.3 1707.8 L588.8 1708.2 L590.2 1708.6 L591.7 1709 L593.2 1709.4 L594.6 1709.8 L596.1 1710.2 L597.5 1710.6 L598.9 1711.1 L600.4 1711.5 L601.8 1711.9 L603.3 1712.4 L604.7 1712.8 L606.1 1713.3 L607.6 1713.7 L609 1714.2 L610.4 1714.7 L611.8 1715.1 L613.3 1715.6 L614.7 1716.1 L616.1 1716.5 L617.5 1717 L618.9 1717.5 L620.3 1718 L621.7 1718.5 L623.2 1719 L624.6 1719.5 L626 1720 L627.4 1720.5 L628.8 1721 L630.2 1721.6 L631.6 1722.1 L633 1722.6 L634.4 1723.1 L635.8 1723.7 L637.1 1724.2 L638.5 1724.7 L639.9 1725.3 L641.3 1725.8 L642.7 1726.4 L644.1 1726.9 L645.5 1727.5 L646.9 1728.1 L648.2 1728.6 L649.6 1729.2 L651 1729.8 L652.4 1730.3 L653.8 1730.9 L655.1 1731.5 L656.5 1732.1 L657.9 1732.7 L659.3 1733.3 L660.6 1733.9 L662 1734.5 L663.4 1735.1 L664.8 1735.7 L666.1 1736.3 L667.5 1736.9 L668.9 1737.5 L670.3 1738.1 L671.6 1738.7 L673 1739.3 L674.4 1739.9 L675.7 1740.6 L677.1 1741.2 L678.5 1741.8 L679.8 1742.4 L681.2 1743.1 L682.6 1743.7 L683.9 1744.3 L685.3 1745 L686.6 1745.6 L688 1746.2 L689.4 1746.9 L690.7 1747.5 L692.1 1748.2 L693.4 1748.8 L694.8 1749.5 L696.2 1750.1 L697.5 1750.8 L698.9 1751.4 L700.2 1752.1 L701.6 1752.7 L703 1753.4 L704.3 1754 L705.7 1754.7 L707 1755.3 L708.4 1756 L709.8 1756.6 L711.1 1757.3 L712.5 1758 L713.8 1758.6 L715.2 1759.3 L716.5 1759.9 L717.9 1760.6 L719.2 1761.2 L720.6 1761.9 L722 1762.6 L723.3 1763.2 L724.7 1763.9 L726 1764.5 L727.4 1765.2 L728.7 1765.9 L730.1 1766.5 L731.4 1767.2 L732.8 1767.8 L734.2 1768.5 L735.5 1769.2 L736.9 1769.8 L738.2 1770.5 L739.6 1771.1 L740.9 1771.8 L742.3 1772.4 L743.6 1773.1 L745 1773.7 L746.4 1774.4 L747.7 1775.1 L749.1 1775.7 L750.4 1776.4 L751.8 1777 L753.1 1777.7 L754.5 1778.3 L755.8 1779 L757.2 1779.6 L758.6 1780.3 L759.9 1780.9 L761.3 1781.6 L762.6 1782.2 L764 1782.9 L765.3 1783.5 L766.7 1784.2 L768.1 1784.9 L769.4 1785.5 L770.8 1786.2 L772.1 1786.8 L773.5 1787.5 L774.8 1788.1 L776.2 1788.8 L777.5 1789.4 L778.9 1790.1 L780.3 1790.7 L781.6 1791.4 L783 1792 L784.3 1792.7 L785.7 1793.3 L787 1794 L788.4 1794.6 L789.7 1795.2 L791.1 1795.9 L792.5 1796.5 L793.8 1797.2 L795.2 1797.8 L796.5 1798.5 L797.9 1799.1 L799.2 1799.8 L800.6 1800.4 L802 1801.1 L803.3 1801.7 L804.7 1802.4 L806 1803 L807.4 1803.7 L808.7 1804.3 L810.1 1805 L811.4 1805.6 L812.8 1806.3 L814.2 1806.9 L815.5 1807.6 L816.9 1808.2 L818.2 1808.8 L819.6 1809.5 L820.9 1810.1 L822.3 1810.8 L823.7 1811.4 L825 1812.1 L826.4 1812.7 L827.7 1813.4 L829.1 1814 L830.4 1814.7 L831.8 1815.3 L833.1 1816 L834.5 1816.6"/>
<path d="M203.5 1884.5 L204.4 1884.8 L205.9 1886 L207.3 1886.8 L208.8 1885.8 L210.2 1887.4 L211.7 1887.3 L213.2 1887.6 L214.6 1888.1 L216.1 1889 L217.5 1888.4 L219 1888.5 L220.4 1888.1 L221.9 1889 L223.3 1889.3 L224.8 1888.9 L226.2 1889.5 L227.7 1890.3 L229.1 1891.2 L230.6 1890.5 L232.1 1892.2 L233.5 1892 L235 1892.3 L236.4 1892.5 L237.9 1892.5 L239.4 1892.4 L240.8 1893 L242.3 1893.3 L243.8 1893.6 L245.2 1894.6 L246.7 1895 L248.2 1894.2 L249.7 1894.5 L251.1 1893.6 L252.6 1892.9 L254.1 1894.1 L255.6 1894.4 L257 1895.3 L258.5 1896.1 L260 1895.1 L261.5 1896.1 L263 1896.4 L264.4 1896.3 L265.9 1897.1 L267.4 1897.4 L268.9 1898.6 L270.4 1897.5 L271.9 1897.2 L273.4 1899.2 L274.9 1900.1 L276.3 1900.5 L277.8 1899.9 L279.3 1900.8 L280.8 1900.3 L282.3 1901.3 L283.8 1900.7 L285.3 1900.6 L286.8 1902 L288.3 1900.8 L289.8 1900.8 L291.3 1902.4 L292.8 1902.2 L294.3 1901 L295.8 1903.4 L297.3 1902.3 L298.8 1903.1 L300.3 1903.7 L301.8 1905.4 L303.3 1904.5 L304.8 1905.4 L306.3 1905.1 L307.7 1905.8 L309.2 1904.9 L310.6 1906 L312.1 1905.9 L313.5 1905.8 L314.9 1906.8 L316.3 1907.4 L317.7 1907.3 L319.1 1907.1 L320.5 1908 L321.8 1907.3 L323.2 1908.6 L324.5 1909.2 L325.8 1909.5 L327.1 1910 L328.4 1911 L329.7 1911.4 L331 1912.4 L332.3 1913.9 L333.5 1913.3 L334.8 1916.2 L336 1916.7 L337.3 1917.6 L338.6 1917.9 L339.8 1919.2 L341.1 1920.1 L342.3 1921.8 L343.6 1922.7 L344.9 1923.9 L346.1 1924.1 L347.4 1923.7 L348.7 1925.1 L350 1926.1 L351.3 1927.2 L352.6 1926.7 L353.9 1928 L355.3 1928.6 L356.6 1928.7 L358 1929.4 L359.3 1931.2 L360.7 1930.2 L362 1931.6 L363.3 1930.8 L364.7 1930.3 L366 1931.1 L367.3 1930.4 L368.5 1930.4 L369.8 1928.8 L371.1 1929.9 L372.4 1928.8 L373.7 1929.1 L375 1927.9 L376.3 1927 L377.6 1926 L378.9 1925.7 L380.3 1924.9 L381.7 1924 L383.1 1924.1 L384.5 1922.8 L385.9 1922.4 L387.3 1921.9 L388.7 1921.1 L390.2 1920.5 L391.6 1919.9 L393 1919.4 L394.5 1918.9 L395.9 1918.3 L397.3 1917.8 L398.7 1917.2 L400.1 1916.6 L401.5 1916 L402.9 1915.4 L404.3 1914.8 L405.7 1914.1 L407 1913.4 L408.4 1912.7 L409.7 1912 L411 1911.2 L412.3 1910.5 L413.6 1909.7 L414.8 1908.8 L416.1 1908 L417.3 1907.1 L418.5 1906.3 L419.7 1905.4 L420.9 1904.4 L422 1903.5 L423.2 1902.5 L424.3 1901.5 L425.4 1900.5 L426.4 1899.5 L427.5 1898.4 L428.5 1897.3 L429.5 1896.2 L430.5 1895.1 L431.5 1894 L432.4 1892.8 L433.4 1891.6 L434.3 1890.4 L435.2 1889.2 L436 1888 L436.9 1886.8 L437.8 1885.5 L438.6 1884.3 L439.4 1883 L440.2 1881.7 L441 1880.4 L441.8 1879.1 L442.6 1877.8 L443.4 1876.5 L444.1 1875.2 L444.9 1873.9 L445.6 1872.5 L446.3 1871.2 L447.1 1869.8 L447.8 1868.5 L448.5 1867.1 L449.2 1865.8 L449.9 1864.4 L450.6 1863.1 L451.2 1861.7 L451.9 1860.4 L452.6 1859 L453.3 1857.7 L453.9 1856.3 L454.6 1854.9 L455.2 1853.6 L455.9 1852.2 L456.5 1850.8 L457.2 1849.5 L457.8 1848.1 L458.4 1846.8 L459 1845.4 L459.7 1844 L460.3 1842.6 L460.9 1841.3 L461.5 1839.9 L462.1 1838.5 L462.7 1837.2 L463.3 1835.8 L463.9 1834.4 L464.5 1833 L465.1 1831.7 L465.6 1830.3 L466.2 1828.9 L466.8 1827.6 L467.4 1826.2 L467.9 1824.8 L468.5 1823.4 L469.1 1822.1 L469.6 1820.7 L470.2 1819.3 L470.7 1817.9 L471.3 1816.5 L471.8 1815.1 L472.4 1813.8 L472.9 1812.4 L473.4 1811 L474 1809.6 L474.5 1808.2 L475 1806.7 L475.5 1805.3 L476 1803.9 L476.6 1802.5 L477.1 1801 L477.6 1799.6 L478.1 1798.2 L478.5 1796.7 L479 1795.2 L479.5 1793.8 L480 1792.3 L480.5 1790.8 L480.9 1789.3 L481.4 1787.8 L481.9 1786.3 L482.3 1784.8 L482.8 1783.2 L483.3 1781.7 L483.7 1780.2 L484.2 1778.7 L484.7 1777.2 L485.2 1775.7 L485.8 1774.2 L486.3 1772.8 L486.9 1771.4 L487.5 1769.9 L488.1 1768.6 L488.7 1767.2 L489.4 1765.9 L490.1 1764.6 L490.8 1763.3 L491.6 1762.1 L492.4 1760.9 L493.3 1759.7 L494.2 1758.6 L495.1 1757.6 L496.1 1756.6 L497.2 1755.6 L498.3 1754.7 L499.4 1753.9 L500.6 1753.1 L501.8 1752.3 L503.1 1751.6 L504.4 1751 L505.8 1750.4 L507.2 1749.9 L508.6 1749.4 L510 1748.9 L511.5 1748.5 L512.9 1748.2 L514.4 1747.8 L515.9 1747.5 L517.4 1747.3 L519 1747.1 L520.5 1746.9 L522 1746.8 L523.5 1746.7 L525 1746.6 L526.5 1746.6 L528 1746.6 L529.5 1746.6 L531 1746.7 L532.5 1746.8 L534.1 1746.9 L535.6 1747 L537.1 1747.2 L538.6 1747.3 L540.1 1747.5 L541.6 1747.8 L543.1 1748 L544.6 1748.2 L546.1 1748.5 L547.6 1748.8 L549.1 1749.1 L550.6 1749.3 L552.1 1749.7 L553.6 1750 L555.1 1750.3 L556.6 1750.6 L558.1 1750.9 L559.6 1751.3 L561.1 1751.6 L562.6 1751.9 L564.1 1752.3 L565.6 1752.6 L567.1 1753 L568.5 1753.3 L570 1753.6 L571.5 1754 L573 1754.3 L574.5 1754.7 L576 1755 L577.5 1755.4 L578.9 1755.7 L580.4 1756.1 L581.9 1756.4 L583.4 1756.8 L584.9 1757.2 L586.3 1757.5 L587.8 1757.9 L589.3 1758.3 L590.7 1758.7 L592.2 1759.1 L593.7 1759.4 L595.1 1759.8 L596.6 1760.2 L598.1 1760.6 L599.5 1761 L601 1761.4 L602.4 1761.9 L603.9 1762.3 L605.3 1762.7 L606.8 1763.1 L608.2 1763.5 L609.7 1764 L611.1 1764.4 L612.5 1764.9 L614 1765.3 L615.4 1765.8 L616.8 1766.3 L618.2 1766.7 L619.7 1767.2 L621.1 1767.7 L622.5 1768.2 L623.9 1768.7 L625.3 1769.2 L626.7 1769.7 L628.1 1770.2 L629.5 1770.7 L630.9 1771.3 L632.3 1771.8 L633.7 1772.4 L635.1 1772.9 L636.5 1773.5 L637.8 1774.1 L639.2 1774.6 L640.6 1775.2 L641.9 1775.8 L643.3 1776.4 L644.7 1777 L646 1777.7 L647.4 1778.3 L648.7 1778.9 L650.1 1779.6 L651.4 1780.2 L652.7 1780.9 L654.1 1781.6 L655.4 1782.3 L656.7 1783 L658 1783.7 L659.3 1784.4 L660.7 1785.1 L662 1785.8 L663.3 1786.6 L664.6 1787.3 L665.9 1788.1 L667.2 1788.8 L668.5 1789.6 L669.7 1790.4 L671 1791.1 L672.3 1791.9 L673.6 1792.7 L674.9 1793.5 L676.2 1794.3 L677.4 1795.1 L678.7 1795.9 L680 1796.7 L681.3 1797.5 L682.5 1798.3 L683.8 1799.1 L685.1 1799.9 L686.3 1800.8 L687.6 1801.6 L688.9 1802.4 L690.1 1803.2 L691.4 1804 L692.7 1804.9 L693.9 1805.7 L695.2 1806.5 L696.5 1807.3 L697.7 1808.1 L699 1809 L700.3 1809.8 L701.6 1810.6 L702.8 1811.4 L704.1 1812.2 L705.4 1813 L706.7 1813.8 L707.9 1814.6 L709.2 1815.4 L710.5 1816.2 L711.8 1817 L713.1 1817.8 L714.4 1818.5 L715.6 1819.3 L716.9 1820.1 L718.2 1820.8 L719.5 1821.6 L720.8 1822.3 L722.1 1823 L723.5 1823.8 L724.8 1824.5 L726.1 1825.2 L727.4 1825.9 L728.7 1826.6 L730.1 1827.3 L731.4 1828 L732.7 1828.6 L734.1 1829.3 L735.4 1830 L736.8 1830.6 L738.1 1831.2 L739.5 1831.9 L740.8 1832.5 L742.2 1833.1 L743.6 1833.7 L744.9 1834.3 L746.3 1834.9 L747.7 1835.4 L749.1 1836 L750.4 1836.6 L751.8 1837.1 L753.2 1837.7 L754.6 1838.2 L756 1838.8 L757.4 1839.3 L758.8 1839.8 L760.2 1840.3 L761.6 1840.8 L763 1841.3 L764.5 1841.8 L765.9 1842.3 L767.3 1842.8 L768.7 1843.3 L770.1 1843.8 L771.6 1844.2 L773 1844.7 L774.4 1845.2 L775.9 1845.6 L777.3 1846.1 L778.7 1846.5 L780.2 1847 L781.6 1847.4 L783.1 1847.8 L784.5 1848.2 L786 1848.7 L787.4 1849.1 L788.9 1849.5 L790.3 1849.9 L791.8 1850.3 L793.2 1850.7 L794.7 1851.1 L796.2 1851.5 L797.6 1851.9 L799.1 1852.3 L800.6 1852.7 L802 1853.1 L803.5 1853.4 L805 1853.8 L806.4 1854.2 L807.9 1854.6 L809.4 1854.9 L810.8 1855.3 L812.3 1855.7 L813.8 1856 L815.3 1856.4 L816.7 1856.8 L818.2 1857.1 L819.7 1857.5 L821.2 1857.8 L822.7 1858.2 L824.1 1858.5 L825.6 1858.9 L827.1 1859.2 L828.6 1859.6 L830.1 1860 L831.5 1860.3 L833 1860.7 L834.5 1861"/>
<path d="M203.5 1887.5 L204.5 1887.6 L205.9 1887.7 L207.4 1889.7 L208.8 1889.1 L210.3 1889.5 L211.7 1889.3 L213.2 1888.3 L214.7 1889.2 L216.1 1888.8 L217.6 1889 L219 1889.5 L220.5 1889.9 L222 1890.1 L223.4 1890.5 L224.9 1890.6 L226.3 1891.2 L227.8 1892.4 L229.3 1893.4 L230.7 1893.2 L232.2 1892.9 L233.7 1893.7 L235.1 1894.5 L236.6 1894.9 L238.1 1895.4 L239.5 1895.7 L241 1895.5 L242.5 1895.3 L244 1894.8 L245.4 1896.6 L246.9 1896.5 L248.4 1895.9 L249.9 1896.6 L251.4 1896.7 L252.8 1896.9 L254.3 1898.6 L255.8 1897.7 L257.3 1899.8 L258.8 1898.8 L260.3 1898.9 L261.7 1899.9 L263.2 1901.7 L264.7 1900.7 L266.2 1901.5 L267.7 1900.2 L269.2 1902.3 L270.7 1901.3 L272.2 1902.3 L273.7 1903.3 L275.2 1902.4 L276.7 1903.1 L278.2 1902.5 L279.7 1902.4 L281.2 1902.7 L282.7 1903.1 L284.2 1902.5 L285.7 1902.5 L287.2 1901.9 L288.7 1901.6 L290.3 1902.8 L291.8 1902.7 L293.3 1903.2 L294.8 1903.9 L296.3 1904 L297.8 1903.2 L299.3 1904.1 L300.8 1904.4 L302.3 1904.3 L303.8 1903.2 L305.3 1904.3 L306.8 1904.9 L308.2 1905.5 L309.7 1905.1 L311.1 1904.6 L312.6 1906.5 L314 1905.9 L315.4 1905.9 L316.8 1906.9 L318.2 1907.5 L319.6 1907.6 L320.9 1907.9 L322.3 1908.6 L323.6 1910.3 L324.9 1910.6 L326.2 1911.9 L327.5 1911.5 L328.7 1913.4 L330 1914.5 L331.2 1915.6 L332.5 1915.8 L333.7 1917.8 L335 1920.2 L336.2 1920.5 L337.4 1921.1 L338.7 1922 L339.9 1922.7 L341.1 1924.6 L342.3 1924.9 L343.6 1926.1 L344.8 1927.7 L346.1 1928.6 L347.3 1929.2 L348.6 1928.6 L349.9 1930 L351.2 1931.7 L352.5 1930.9 L353.8 1933 L355.1 1932.8 L356.4 1933.9 L357.8 1933.5 L359.1 1933.5 L360.4 1933.9 L361.8 1935.6 L363.1 1934.6 L364.4 1934 L365.7 1935.1 L366.9 1933.3 L368.2 1933.7 L369.4 1933.4 L370.6 1932.6 L371.9 1931.8 L373.1 1930.6 L374.3 1928.5 L375.6 1928.9 L376.9 1927.8 L378.1 1926.8 L379.4 1926.2 L380.8 1925.5 L382.1 1924.5 L383.5 1924.2 L384.9 1923.7 L386.2 1922.7 L387.7 1922.1 L389.1 1921.6 L390.5 1921.4 L391.9 1920.8 L393.4 1920.6 L394.8 1920.2 L396.3 1919.7 L397.7 1919.2 L399.2 1918.7 L400.6 1918.2 L402 1917.7 L403.5 1917.1 L404.9 1916.6 L406.3 1916 L407.7 1915.4 L409.1 1914.8 L410.5 1914.1 L411.8 1913.5 L413.2 1912.8 L414.5 1912.1 L415.8 1911.3 L417.1 1910.6 L418.4 1909.8 L419.7 1909 L421 1908.2 L422.2 1907.3 L423.4 1906.5 L424.6 1905.6 L425.8 1904.7 L426.9 1903.7 L428.1 1902.7 L429.2 1901.7 L430.2 1900.7 L431.3 1899.7 L432.3 1898.6 L433.3 1897.5 L434.3 1896.4 L435.3 1895.2 L436.3 1894.1 L437.2 1892.9 L438.1 1891.7 L439 1890.5 L439.9 1889.3 L440.7 1888 L441.6 1886.8 L442.4 1885.5 L443.2 1884.2 L444 1882.9 L444.8 1881.6 L445.6 1880.3 L446.3 1879 L447.1 1877.6 L447.8 1876.3 L448.5 1874.9 L449.3 1873.6 L450 1872.2 L450.7 1870.9 L451.3 1869.5 L452 1868.1 L452.7 1866.7 L453.4 1865.4 L454 1864 L454.7 1862.6 L455.3 1861.2 L455.9 1859.9 L456.6 1858.5 L457.2 1857.1 L457.8 1855.7 L458.4 1854.3 L459 1853 L459.6 1851.6 L460.2 1850.2 L460.8 1848.8 L461.3 1847.4 L461.9 1846 L462.5 1844.6 L463 1843.2 L463.6 1841.8 L464.1 1840.4 L464.7 1839 L465.2 1837.6 L465.7 1836.2 L466.2 1834.8 L466.8 1833.4 L467.3 1832 L467.8 1830.6 L468.3 1829.2 L468.8 1827.8 L469.3 1826.3 L469.7 1824.9 L470.2 1823.5 L470.7 1822.1 L471.2 1820.7 L471.7 1819.2 L472.1 1817.8 L472.6 1816.4 L473.1 1814.9 L473.5 1813.5 L474 1812.1 L474.5 1810.6 L474.9 1809.2 L475.4 1807.7 L475.9 1806.3 L476.4 1804.9 L476.8 1803.4 L477.3 1802 L477.8 1800.5 L478.3 1799 L478.8 1797.6 L479.3 1796.1 L479.7 1794.7 L480.2 1793.2 L480.8 1791.7 L481.3 1790.3 L481.8 1788.8 L482.4 1787.4 L482.9 1786 L483.5 1784.6 L484.2 1783.2 L484.8 1781.8 L485.5 1780.5 L486.2 1779.2 L487 1777.9 L487.8 1776.7 L488.7 1775.6 L489.6 1774.4 L490.6 1773.4 L491.6 1772.3 L492.7 1771.4 L493.9 1770.5 L495 1769.6 L496.3 1768.8 L497.5 1768.1 L498.8 1767.4 L500.2 1766.8 L501.5 1766.2 L502.9 1765.6 L504.3 1765.2 L505.8 1764.7 L507.2 1764.4 L508.6 1764.1 L510.1 1763.8 L511.5 1763.6 L513 1763.4 L514.4 1763.3 L515.9 1763.2 L517.4 1763.2 L518.8 1763.2 L520.3 1763.3 L521.8 1763.4 L523.3 1763.5 L524.7 1763.7 L526.2 1763.9 L527.7 1764.1 L529.2 1764.4 L530.7 1764.7 L532.2 1765.1 L533.7 1765.4 L535.2 1765.8 L536.7 1766.2 L538.2 1766.6 L539.7 1767.1 L541.2 1767.5 L542.7 1768 L544.2 1768.5 L545.7 1769 L547.2 1769.6 L548.7 1770.1 L550.2 1770.6 L551.6 1771.2 L553.1 1771.8 L554.6 1772.3 L556.1 1772.9 L557.6 1773.4 L559.1 1774 L560.6 1774.6 L562.1 1775.1 L563.5 1775.7 L565 1776.2 L566.5 1776.8 L567.9 1777.3 L569.4 1777.9 L570.9 1778.4 L572.3 1778.9 L573.8 1779.5 L575.2 1780 L576.7 1780.5 L578.1 1781.1 L579.6 1781.6 L581 1782.1 L582.5 1782.7 L583.9 1783.2 L585.4 1783.7 L586.8 1784.2 L588.2 1784.8 L589.7 1785.3 L591.1 1785.8 L592.5 1786.3 L593.9 1786.8 L595.4 1787.4 L596.8 1787.9 L598.2 1788.4 L599.6 1788.9 L601 1789.5 L602.4 1790 L603.8 1790.5 L605.2 1791 L606.6 1791.6 L608 1792.1 L609.4 1792.6 L610.8 1793.2 L612.2 1793.7 L613.6 1794.2 L615 1794.8 L616.4 1795.3 L617.7 1795.9 L619.1 1796.4 L620.5 1797 L621.9 1797.5 L623.2 1798.1 L624.6 1798.7 L626 1799.2 L627.3 1799.8 L628.7 1800.4 L630.1 1800.9 L631.4 1801.5 L632.8 1802.1 L634.1 1802.7 L635.5 1803.3 L636.8 1803.9 L638.2 1804.5 L639.5 1805.1 L640.9 1805.7 L642.2 1806.4 L643.6 1807 L644.9 1807.6 L646.2 1808.3 L647.6 1808.9 L648.9 1809.6 L650.2 1810.2 L651.5 1810.9 L652.9 1811.6 L654.2 1812.2 L655.5 1812.9 L656.8 1813.6 L658.1 1814.3 L659.4 1815 L660.8 1815.7 L662.1 1816.5 L663.4 1817.2 L664.7 1817.9 L666 1818.6 L667.3 1819.4 L668.6 1820.1 L669.9 1820.9 L671.2 1821.6 L672.5 1822.4 L673.8 1823.1 L675.1 1823.9 L676.4 1824.6 L677.7 1825.4 L679 1826.2 L680.3 1826.9 L681.6 1827.7 L682.9 1828.5 L684.2 1829.3 L685.5 1830 L686.8 1830.8 L688.1 1831.6 L689.4 1832.4 L690.7 1833.1 L692 1833.9 L693.3 1834.7 L694.6 1835.5 L695.9 1836.2 L697.2 1837 L698.5 1837.8 L699.8 1838.5 L701.1 1839.3 L702.4 1840.1 L703.7 1840.8 L705 1841.6 L706.3 1842.3 L707.6 1843.1 L708.9 1843.8 L710.2 1844.6 L711.6 1845.3 L712.9 1846.1 L714.2 1846.8 L715.5 1847.5 L716.8 1848.3 L718.2 1849 L719.5 1849.7 L720.8 1850.4 L722.2 1851.1 L723.5 1851.8 L724.8 1852.5 L726.2 1853.2 L727.5 1853.8 L728.9 1854.5 L730.2 1855.2 L731.6 1855.8 L733 1856.5 L734.3 1857.1 L735.7 1857.7 L737 1858.4 L738.4 1859 L739.8 1859.6 L741.2 1860.2 L742.5 1860.8 L743.9 1861.4 L745.3 1862 L746.7 1862.5 L748.1 1863.1 L749.5 1863.7 L750.9 1864.2 L752.3 1864.8 L753.7 1865.4 L755.1 1865.9 L756.5 1866.4 L757.9 1867 L759.3 1867.5 L760.7 1868 L762.1 1868.5 L763.5 1869 L764.9 1869.5 L766.3 1870 L767.8 1870.5 L769.2 1871 L770.6 1871.5 L772 1872 L773.5 1872.5 L774.9 1873 L776.3 1873.4 L777.8 1873.9 L779.2 1874.4 L780.6 1874.8 L782.1 1875.3 L783.5 1875.7 L784.9 1876.2 L786.4 1876.6 L787.8 1877.1 L789.3 1877.5 L790.7 1877.9 L792.2 1878.4 L793.6 1878.8 L795.1 1879.2 L796.5 1879.6 L798 1880.1 L799.4 1880.5 L800.9 1880.9 L802.3 1881.3 L803.8 1881.7 L805.2 1882.1 L806.7 1882.5 L808.2 1882.9 L809.6 1883.3 L811.1 1883.7 L812.5 1884.1 L814 1884.5 L815.5 1884.9 L816.9 1885.3 L818.4 1885.7 L819.8 1886.1 L821.3 1886.5 L822.8 1886.9 L824.2 1887.3 L825.7 1887.7 L827.2 1888.1 L828.6 1888.5 L830.1 1888.8 L831.6 1889.2 L833 1889.6 L834.5 1890"/>
<path d="M203.5 1889 L204.5 1888.8 L205.9 1889.2 L207.4 1888.9 L208.8 1890.3 L210.3 1890.1 L211.8 1890.4 L213.2 1891 L214.7 1889.5 L216.1 1891.3 L217.6 1891.6 L219.1 1892.7 L220.5 1893.1 L222 1893.7 L223.5 1894.8 L224.9 1893.5 L226.4 1894.6 L227.9 1896.6 L229.3 1897.3 L230.8 1896.4 L232.3 1898.1 L233.7 1898.3 L235.2 1897.3 L236.7 1898.1 L238.2 1899 L239.6 1898.9 L241.1 1900.3 L242.6 1899.8 L244.1 1900.1 L245.5 1899.4 L247 1899.2 L248.5 1899.9 L250 1901.3 L251.5 1901.9 L253 1900.6 L254.4 1901.3 L255.9 1900.2 L257.4 1902.8 L258.9 1901.5 L260.4 1903.1 L261.9 1903.6 L263.4 1902.1 L264.9 1902.5 L266.4 1903.5 L267.9 1903.9 L269.4 1902.7 L270.9 1902.3 L272.4 1903 L273.9 1903.4 L275.4 1901.8 L276.9 1901.9 L278.4 1903 L279.9 1902.3 L281.4 1901.7 L282.9 1902.2 L284.4 1902.6 L285.9 1903.1 L287.5 1902.9 L289 1903 L290.5 1902.3 L292 1903.9 L293.5 1904.3 L295.1 1904.4 L296.6 1904.6 L298.1 1905 L299.6 1905.7 L301.1 1905.2 L302.6 1904.9 L304.1 1906.4 L305.6 1905.9 L307 1906.2 L308.5 1906.9 L310 1906.8 L311.4 1907.3 L312.8 1907.1 L314.3 1909.1 L315.7 1908.1 L317.1 1910.3 L318.4 1909.5 L319.8 1910.6 L321.1 1911.7 L322.4 1913.4 L323.7 1913.9 L325 1914.5 L326.3 1915 L327.6 1917.3 L328.8 1917.8 L330 1919 L331.3 1919.6 L332.5 1920.3 L333.7 1922 L334.9 1922.7 L336.1 1924 L337.3 1924.3 L338.5 1924.2 L339.7 1926.4 L340.9 1926.7 L342.1 1927.4 L343.3 1926.4 L344.5 1928.6 L345.7 1930 L347 1930.2 L348.2 1931.5 L349.4 1932.5 L350.7 1932.8 L352 1932.9 L353.3 1934.4 L354.6 1935 L355.9 1935.2 L357.2 1934.7 L358.5 1935.5 L359.9 1937 L361.2 1936.5 L362.5 1935.7 L363.8 1936.5 L365.1 1936.4 L366.3 1936.4 L367.5 1935.7 L368.8 1935.1 L370 1933.6 L371.2 1932.3 L372.3 1932.1 L373.5 1932.2 L374.7 1929.9 L375.9 1930.1 L377.1 1928.2 L378.4 1927.5 L379.6 1927.2 L380.9 1926.2 L382.2 1925.8 L383.5 1925 L384.9 1924.8 L386.2 1924.5 L387.6 1923.6 L389 1923.5 L390.4 1923 L391.9 1922.6 L393.3 1922 L394.7 1921.6 L396.2 1921.2 L397.7 1920.7 L399.1 1920.3 L400.6 1919.8 L402 1919.3 L403.5 1918.9 L405 1918.4 L406.4 1917.9 L407.8 1917.3 L409.3 1916.8 L410.7 1916.2 L412.1 1915.6 L413.5 1915 L414.9 1914.4 L416.3 1913.7 L417.6 1913.1 L418.9 1912.4 L420.2 1911.6 L421.5 1910.9 L422.8 1910.1 L424.1 1909.3 L425.3 1908.4 L426.5 1907.6 L427.6 1906.6 L428.8 1905.7 L429.9 1904.7 L431 1903.7 L432 1902.7 L433 1901.6 L434 1900.6 L435 1899.4 L435.9 1898.3 L436.8 1897.1 L437.7 1895.9 L438.5 1894.7 L439.4 1893.4 L440.2 1892.2 L441 1890.9 L441.7 1889.6 L442.5 1888.3 L443.2 1886.9 L443.9 1885.6 L444.6 1884.2 L445.3 1882.8 L446 1881.4 L446.6 1880 L447.3 1878.6 L447.9 1877.2 L448.5 1875.8 L449.1 1874.4 L449.7 1873 L450.3 1871.5 L450.9 1870.1 L451.5 1868.7 L452 1867.3 L452.6 1865.8 L453.1 1864.4 L453.7 1863 L454.2 1861.6 L454.8 1860.2 L455.3 1858.7 L455.9 1857.3 L456.4 1855.9 L456.9 1854.5 L457.5 1853.1 L458 1851.7 L458.5 1850.3 L459.1 1848.9 L459.6 1847.5 L460.1 1846 L460.6 1844.6 L461.2 1843.2 L461.7 1841.8 L462.2 1840.4 L462.8 1839 L463.3 1837.6 L463.8 1836.2 L464.4 1834.8 L464.9 1833.4 L465.5 1832 L466 1830.6 L466.6 1829.2 L467.2 1827.8 L467.7 1826.4 L468.3 1825 L468.9 1823.6 L469.5 1822.2 L470.1 1820.8 L470.8 1819.4 L471.4 1818 L472.1 1816.7 L472.7 1815.3 L473.4 1814 L474.2 1812.7 L474.9 1811.4 L475.7 1810.1 L476.5 1808.8 L477.3 1807.6 L478.2 1806.3 L479.1 1805.1 L480 1803.9 L480.9 1802.8 L481.9 1801.6 L482.9 1800.5 L483.9 1799.4 L485 1798.3 L486.1 1797.3 L487.2 1796.2 L488.3 1795.2 L489.5 1794.3 L490.7 1793.3 L491.9 1792.4 L493.1 1791.5 L494.3 1790.6 L495.6 1789.8 L496.9 1789 L498.2 1788.2 L499.5 1787.4 L500.8 1786.7 L502.1 1786 L503.5 1785.4 L504.8 1784.7 L506.2 1784.2 L507.6 1783.6 L509 1783.1 L510.4 1782.7 L511.8 1782.3 L513.2 1781.9 L514.6 1781.6 L516.1 1781.4 L517.5 1781.1 L518.9 1781 L520.4 1780.8 L521.8 1780.7 L523.3 1780.7 L524.7 1780.7 L526.2 1780.7 L527.6 1780.8 L529.1 1780.9 L530.6 1781 L532.1 1781.2 L533.5 1781.4 L535 1781.6 L536.5 1781.9 L538 1782.1 L539.5 1782.5 L540.9 1782.8 L542.4 1783.2 L543.9 1783.6 L545.4 1784 L546.9 1784.4 L548.4 1784.9 L549.9 1785.4 L551.4 1785.9 L552.9 1786.4 L554.4 1786.9 L555.8 1787.4 L557.3 1788 L558.8 1788.6 L560.3 1789.2 L561.8 1789.8 L563.3 1790.4 L564.8 1791 L566.2 1791.6 L567.7 1792.2 L569.2 1792.9 L570.7 1793.5 L572.1 1794.2 L573.6 1794.8 L575 1795.4 L576.5 1796.1 L577.9 1796.7 L579.4 1797.4 L580.8 1798 L582.3 1798.6 L583.7 1799.3 L585.1 1799.9 L586.6 1800.5 L588 1801.2 L589.4 1801.8 L590.8 1802.4 L592.2 1803 L593.6 1803.7 L595 1804.3 L596.4 1804.9 L597.8 1805.5 L599.2 1806.2 L600.6 1806.8 L602 1807.4 L603.4 1808 L604.7 1808.7 L606.1 1809.3 L607.5 1809.9 L608.9 1810.5 L610.2 1811.1 L611.6 1811.8 L613 1812.4 L614.3 1813 L615.7 1813.6 L617 1814.3 L618.4 1814.9 L619.7 1815.5 L621.1 1816.1 L622.4 1816.8 L623.8 1817.4 L625.1 1818 L626.5 1818.7 L627.8 1819.3 L629.1 1819.9 L630.5 1820.6 L631.8 1821.2 L633.1 1821.9 L634.5 1822.5 L635.8 1823.2 L637.1 1823.8 L638.4 1824.5 L639.8 1825.1 L641.1 1825.8 L642.4 1826.4 L643.7 1827.1 L645.1 1827.8 L646.4 1828.4 L647.7 1829.1 L649 1829.8 L650.3 1830.4 L651.7 1831.1 L653 1831.8 L654.3 1832.5 L655.6 1833.2 L656.9 1833.9 L658.2 1834.6 L659.6 1835.3 L660.9 1836 L662.2 1836.7 L663.5 1837.4 L664.8 1838.1 L666.1 1838.8 L667.4 1839.5 L668.8 1840.3 L670.1 1841 L671.4 1841.7 L672.7 1842.4 L674 1843.1 L675.3 1843.9 L676.7 1844.6 L678 1845.3 L679.3 1846 L680.6 1846.8 L681.9 1847.5 L683.2 1848.2 L684.6 1849 L685.9 1849.7 L687.2 1850.4 L688.5 1851.1 L689.8 1851.9 L691.2 1852.6 L692.5 1853.3 L693.8 1854.1 L695.1 1854.8 L696.5 1855.5 L697.8 1856.2 L699.1 1856.9 L700.5 1857.7 L701.8 1858.4 L703.1 1859.1 L704.5 1859.8 L705.8 1860.5 L707.1 1861.2 L708.5 1861.9 L709.8 1862.6 L711.1 1863.3 L712.5 1864 L713.8 1864.7 L715.2 1865.4 L716.5 1866.1 L717.9 1866.8 L719.2 1867.5 L720.6 1868.2 L721.9 1868.8 L723.3 1869.5 L724.6 1870.2 L726 1870.8 L727.3 1871.5 L728.7 1872.1 L730.1 1872.8 L731.4 1873.4 L732.8 1874.1 L734.2 1874.7 L735.5 1875.3 L736.9 1875.9 L738.3 1876.6 L739.6 1877.2 L741 1877.8 L742.4 1878.4 L743.8 1879 L745.2 1879.6 L746.5 1880.2 L747.9 1880.8 L749.3 1881.3 L750.7 1881.9 L752.1 1882.5 L753.5 1883.1 L754.9 1883.6 L756.3 1884.2 L757.7 1884.8 L759.1 1885.3 L760.5 1885.9 L761.9 1886.4 L763.3 1887 L764.7 1887.5 L766.1 1888.1 L767.5 1888.6 L768.9 1889.1 L770.3 1889.7 L771.7 1890.2 L773.1 1890.7 L774.5 1891.2 L776 1891.8 L777.4 1892.3 L778.8 1892.8 L780.2 1893.3 L781.6 1893.8 L783 1894.3 L784.4 1894.8 L785.9 1895.3 L787.3 1895.8 L788.7 1896.3 L790.1 1896.8 L791.6 1897.3 L793 1897.8 L794.4 1898.3 L795.8 1898.8 L797.3 1899.3 L798.7 1899.8 L800.1 1900.2 L801.5 1900.7 L803 1901.2 L804.4 1901.7 L805.8 1902.2 L807.3 1902.6 L808.7 1903.1 L810.1 1903.6 L811.6 1904 L813 1904.5 L814.4 1905 L815.8 1905.5 L817.3 1905.9 L818.7 1906.4 L820.1 1906.9 L821.6 1907.3 L823 1907.8 L824.5 1908.3 L825.9 1908.7 L827.3 1909.2 L828.8 1909.7 L830.2 1910.1 L831.6 1910.6 L833.1 1911 L834.5 1911.5"/>
<path d="M203.5 1880.5 L204.4 1880.9 L205.9 1881.7 L207.3 1881.2 L208.8 1882.4 L210.2 1883.4 L211.7 1883.8 L213.1 1884.6 L214.6 1884.4 L216 1885.1 L217.5 1887 L218.9 1886.8 L220.4 1887.3 L221.8 1888.4 L223.3 1887.9 L224.7 1888.8 L226.2 1889.7 L227.7 1889.8 L229.1 1891.1 L230.6 1890.7 L232 1891.2 L233.5 1890.4 L234.9 1891 L236.4 1891.1 L237.9 1891.6 L239.3 1891.7 L240.8 1891.5 L242.2 1892 L243.7 1893.1 L245.2 1892.1 L246.6 1892 L248.1 1893.4 L249.6 1893.8 L251 1893.4 L252.5 1894.2 L254 1892.7 L255.5 1894.5 L256.9 1894.4 L258.4 1896.1 L259.9 1895.1 L261.4 1896.2 L262.9 1895.1 L264.3 1895.2 L265.8 1895.1 L267.3 1894.8 L268.8 1895.2 L270.3 1896.2 L271.7 1894.8 L273.2 1895.9 L274.7 1896.7 L276.2 1896.4 L277.7 1896.9 L279.2 1897.1 L280.7 1897.6 L282.2 1896.6 L283.7 1899.2 L285.2 1899 L286.7 1899 L288.2 1899.6 L289.7 1900.2 L291.2 1901.2 L292.7 1900.5 L294.2 1900.8 L295.7 1901.1 L297.2 1902.7 L298.7 1901.9 L300.1 1902.7 L301.6 1902.2 L303.1 1903 L304.6 1903 L306.1 1903.1 L307.5 1904.4 L309 1904.2 L310.5 1903.9 L311.9 1906.3 L313.3 1904.8 L314.8 1905.2 L316.2 1905.4 L317.6 1908 L319 1907.8 L320.3 1908.5 L321.7 1909.6 L323.1 1909.7 L324.4 1910.7 L325.7 1911.9 L327 1911.6 L328.4 1912.6 L329.7 1912.8 L330.9 1913.3 L332.2 1914.7 L333.5 1914.7 L334.8 1915.1 L336.1 1914.4 L337.3 1915.6 L338.6 1916.4 L339.9 1917.4 L341.1 1918.3 L342.4 1918.9 L343.7 1919.5 L345 1920.5 L346.3 1921.3 L347.6 1922.5 L348.9 1921.7 L350.2 1924.2 L351.5 1925.5 L352.9 1925.8 L354.2 1925.6 L355.6 1926 L357 1927.1 L358.4 1928.5 L359.8 1928.2 L361.2 1927.2 L362.6 1926.7 L364 1928.9 L365.5 1930.2 L366.9 1927.7 L368.3 1928.1 L369.7 1928.3 L371.2 1928.1 L372.6 1928.1 L374 1926.5 L375.4 1927 L376.9 1926.4 L378.3 1926.6 L379.7 1926.1 L381.2 1926 L382.6 1924.9 L384.1 1924.6 L385.5 1924.3 L387 1923.9 L388.4 1923.4 L389.9 1922.9 L391.3 1922.5 L392.8 1921.9 L394.2 1921.5 L395.7 1920.9 L397.1 1920.5 L398.6 1920.1 L400.1 1919.6 L401.5 1919.2 L403 1918.7 L404.4 1918.3 L405.9 1917.9 L407.3 1917.5 L408.8 1917.1 L410.2 1916.8 L411.7 1916.5 L413.2 1916.2 L414.6 1915.9 L416.1 1915.7 L417.6 1915.5 L419.1 1915.4 L420.6 1915.3 L422 1915.3 L423.5 1915.2 L425 1915.3 L426.5 1915.3 L428 1915.4 L429.5 1915.6 L431 1915.8 L432.4 1916 L433.9 1916.2 L435.4 1916.5 L436.8 1916.9 L438.3 1917.2 L439.8 1917.6 L441.2 1918 L442.7 1918.4 L444.1 1918.9 L445.5 1919.3 L447 1919.8 L448.4 1920.3 L449.8 1920.9 L451.2 1921.4 L452.6 1922 L454 1922.6 L455.4 1923.1 L456.8 1923.7 L458.2 1924.3 L459.6 1925 L460.9 1925.6 L462.3 1926.2 L463.7 1926.9 L465 1927.5 L466.4 1928.2 L467.7 1928.8 L469.1 1929.5 L470.5 1930.2 L471.8 1930.8 L473.2 1931.5 L474.5 1932.2 L475.9 1932.9 L477.2 1933.5 L478.5 1934.2 L479.9 1934.9 L481.2 1935.6 L482.6 1936.3 L483.9 1936.9 L485.3 1937.6 L486.7 1938.3 L488 1938.9 L489.4 1939.6 L490.7 1940.3 L492.1 1940.9 L493.4 1941.6 L494.8 1942.2 L496.1 1942.9 L497.5 1943.5 L498.9 1944.2 L500.2 1944.8 L501.6 1945.4 L503 1946.1 L504.3 1946.7 L505.7 1947.3 L507.1 1947.9 L508.4 1948.5 L509.8 1949.1 L511.2 1949.7 L512.6 1950.3 L514 1950.9 L515.4 1951.5 L516.7 1952 L518.1 1952.6 L519.5 1953.1 L520.9 1953.7 L522.3 1954.2 L523.7 1954.8 L525.1 1955.3 L526.5 1955.8 L528 1956.3 L529.4 1956.8 L530.8 1957.2 L532.2 1957.7 L533.6 1958.2 L535.1 1958.6 L536.5 1959.1 L537.9 1959.5 L539.4 1959.9 L540.8 1960.4 L542.3 1960.8 L543.7 1961.2 L545.1 1961.6 L546.6 1962 L548 1962.3 L549.5 1962.7 L551 1963.1 L552.4 1963.5 L553.9 1963.8 L555.3 1964.2 L556.8 1964.5 L558.3 1964.9 L559.7 1965.2 L561.2 1965.5 L562.7 1965.9 L564.1 1966.2 L565.6 1966.5 L567.1 1966.8 L568.6 1967.1 L570 1967.4 L571.5 1967.7 L573 1968 L574.5 1968.3 L576 1968.6 L577.4 1968.9 L578.9 1969.2 L580.4 1969.5 L581.9 1969.8 L583.4 1970.1 L584.9 1970.3 L586.3 1970.6 L587.8 1970.9 L589.3 1971.2 L590.8 1971.4 L592.3 1971.7 L593.8 1972 L595.3 1972.2 L596.7 1972.5 L598.2 1972.8 L599.7 1973 L601.2 1973.3 L602.7 1973.6 L604.2 1973.8 L605.7 1974.1 L607.1 1974.4 L608.6 1974.7 L610.1 1974.9 L611.6 1975.2 L613.1 1975.5 L614.6 1975.7 L616 1976 L617.5 1976.3 L619 1976.5 L620.5 1976.8 L622 1977.1 L623.4 1977.3 L624.9 1977.6 L626.4 1977.9 L627.9 1978.1 L629.4 1978.4 L630.9 1978.7 L632.3 1978.9 L633.8 1979.2 L635.3 1979.5 L636.8 1979.7 L638.3 1980 L639.7 1980.2 L641.2 1980.5 L642.7 1980.7 L644.2 1981 L645.7 1981.2 L647.1 1981.5 L648.6 1981.7 L650.1 1982 L651.6 1982.2 L653.1 1982.5 L654.6 1982.7 L656 1982.9 L657.5 1983.2 L659 1983.4 L660.5 1983.6 L662 1983.9 L663.5 1984.1 L664.9 1984.3 L666.4 1984.5 L667.9 1984.8 L669.4 1985 L670.9 1985.2 L672.4 1985.4 L673.9 1985.6 L675.4 1985.8 L676.8 1986 L678.3 1986.2 L679.8 1986.4 L681.3 1986.6 L682.8 1986.8 L684.3 1987 L685.8 1987.1 L687.3 1987.3 L688.8 1987.5 L690.3 1987.7 L691.8 1987.8 L693.3 1988 L694.8 1988.1 L696.3 1988.3 L697.7 1988.5 L699.2 1988.6 L700.7 1988.8 L702.2 1988.9 L703.7 1989 L705.2 1989.2 L706.7 1989.3 L708.2 1989.4 L709.7 1989.6 L711.2 1989.7 L712.7 1989.8 L714.2 1989.9 L715.7 1990.1 L717.2 1990.2 L718.7 1990.3 L720.2 1990.4 L721.7 1990.5 L723.2 1990.6 L724.7 1990.7 L726.2 1990.8 L727.7 1990.9 L729.2 1991 L730.7 1991 L732.2 1991.1 L733.8 1991.2 L735.3 1991.3 L736.8 1991.4 L738.3 1991.4 L739.8 1991.5 L741.3 1991.6 L742.8 1991.6 L744.3 1991.7 L745.8 1991.7 L747.3 1991.8 L748.8 1991.8 L750.3 1991.9 L751.8 1991.9 L753.3 1992 L754.8 1992 L756.3 1992 L757.8 1992.1 L759.3 1992.1 L760.8 1992.1 L762.3 1992.2 L763.8 1992.2 L765.3 1992.2 L766.8 1992.2 L768.3 1992.2 L769.8 1992.2 L771.3 1992.2 L772.8 1992.2 L774.4 1992.3 L775.9 1992.3 L777.4 1992.3 L778.9 1992.3 L780.4 1992.2 L781.9 1992.2 L783.4 1992.2 L784.9 1992.2 L786.4 1992.2 L787.9 1992.2 L789.4 1992.2 L790.9 1992.2 L792.4 1992.1 L793.9 1992.1 L795.4 1992.1 L796.9 1992.1 L798.4 1992.1 L799.9 1992 L801.4 1992 L802.9 1992 L804.4 1991.9 L805.9 1991.9 L807.4 1991.9 L808.9 1991.9 L810.4 1991.8 L811.9 1991.8 L813.4 1991.8 L815 1991.7 L816.5 1991.7 L818 1991.6 L819.5 1991.6 L821 1991.6 L822.5 1991.5 L824 1991.5 L825.5 1991.4 L827 1991.4 L828.5 1991.4 L830 1991.3 L831.5 1991.3 L833 1991.2 L834.5 1991.2"/>
</g>
<rect x="203" y="1279.5" width="631.5" height="762.5" fill="none" stroke="#111" stroke-width="4.2"/>
<line x1="190.6" y1="2042" x2="203" y2="2042" stroke="#111" stroke-width="4"/>
<line x1="190.6" y1="1914.9" x2="203" y2="1914.9" stroke="#111" stroke-width="4"/>
<line x1="190.6" y1="1787.8" x2="203" y2="1787.8" stroke="#111" stroke-width="4"/>
<line x1="190.6" y1="1660.7" x2="203" y2="1660.7" stroke="#111" stroke-width="4"/>
<line x1="190.6" y1="1533.6" x2="203" y2="1533.6" stroke="#111" stroke-width="4"/>
<line x1="190.6" y1="1406.5" x2="203" y2="1406.5" stroke="#111" stroke-width="4"/>
<line x1="190.6" y1="1279.4" x2="203" y2="1279.4" stroke="#111" stroke-width="4"/>
<text x="116.3" y="1296.8" class="bs" font-size="32.5" textLength="56.2" lengthAdjust="spacingAndGlyphs">0.30</text>
<text x="116.3" y="1415.8" class="bs" font-size="32.5" textLength="56" lengthAdjust="spacingAndGlyphs">0.25</text>
<text x="116.3" y="1555.8" class="bs" font-size="32.5" textLength="56.2" lengthAdjust="spacingAndGlyphs">0.20</text>
<text x="116.3" y="1674" class="bs" font-size="32.5" textLength="56" lengthAdjust="spacingAndGlyphs">0.15</text>
<text x="116.3" y="1792.3" class="bs" font-size="32.5" textLength="56.2" lengthAdjust="spacingAndGlyphs">0.10</text>
<text x="116.3" y="1921.5" class="bs" font-size="32.5" textLength="56" lengthAdjust="spacingAndGlyphs">0.05</text>
<text x="116.3" y="2042" class="bs" font-size="32.5" textLength="56.2" lengthAdjust="spacingAndGlyphs">0.00</text>
<line x1="203" y1="2042" x2="203" y2="2053" stroke="#111" stroke-width="4"/>
<text x="166.9" y="2105.2" class="bs" font-size="34" textLength="51.8" lengthAdjust="spacingAndGlyphs">200</text>
<line x1="308.5" y1="2042" x2="308.5" y2="2053" stroke="#111" stroke-width="4"/>
<text x="270.6" y="2105.2" class="bs" font-size="34" textLength="51.6" lengthAdjust="spacingAndGlyphs">300</text>
<line x1="414.1" y1="2042" x2="414.1" y2="2053" stroke="#111" stroke-width="4"/>
<text x="374.9" y="2105.2" class="bs" font-size="34" textLength="50.9" lengthAdjust="spacingAndGlyphs">400</text>
<line x1="519.6" y1="2042" x2="519.6" y2="2053" stroke="#111" stroke-width="4"/>
<text x="483.6" y="2105.2" class="bs" font-size="34" textLength="51.8" lengthAdjust="spacingAndGlyphs">500</text>
<line x1="625.1" y1="2042" x2="625.1" y2="2053" stroke="#111" stroke-width="4"/>
<text x="586.3" y="2105.2" class="bs" font-size="34" textLength="51.6" lengthAdjust="spacingAndGlyphs">600</text>
<line x1="730.6" y1="2042" x2="730.6" y2="2053" stroke="#111" stroke-width="4"/>
<text x="696.9" y="2105.2" class="bs" font-size="34" textLength="52.3" lengthAdjust="spacingAndGlyphs">700</text>
<line x1="836.2" y1="2042" x2="836.2" y2="2053" stroke="#111" stroke-width="4"/>
<text x="800.1" y="2105.2" class="bs" font-size="34" textLength="51.6" lengthAdjust="spacingAndGlyphs">800</text>
<text x="367.1" y="2160.3" class="rs" font-size="45" textLength="303" lengthAdjust="spacingAndGlyphs">Wavelength (nm)</text>
<text transform="translate(73.6,1605) rotate(-90)" text-anchor="middle" class="rs" font-size="46" textLength="204" lengthAdjust="spacingAndGlyphs">Reflectance</text>
<text x="59.5" y="1319.5" class="bs" font-size="93" textLength="47" lengthAdjust="spacingAndGlyphs">c</text>
<text x="268.4" y="1394.3" class="bs" font-size="33" style="fill:#bb3131">0 min</text>
<text x="268.4" y="1434.7" class="bs" font-size="33" style="fill:#bb3131">5 min</text>
<text x="251.9" y="1475.1" class="bs" font-size="33" style="fill:#bb3131">10 min</text>
<text x="251.9" y="1515.5" class="bs" font-size="33" style="fill:#bb3131">15 min</text>
<text x="251.9" y="1555.9" class="bs" font-size="33" style="fill:#bb3131">20 min</text>
<text x="251.9" y="1596.3" class="bs" font-size="33" style="fill:#bb3131">25 min</text>
<text x="251.9" y="1636.7" class="bs" font-size="33" style="fill:#bb3131">30 min</text>
<text x="251.9" y="1677.1" class="bs" font-size="33" style="fill:#bb3131">40 min</text>
<text x="251.9" y="1717.5" class="bs" font-size="33" style="fill:#bb3131">50 min</text>
<text x="251.3" y="1757.9" class="bs" font-size="33.5" style="fill:#bb3131">24 h</text>
<line x1="375" y1="1354" x2="375" y2="1787" stroke="#bb3131" stroke-width="4.2"/>
<polyline points="358.5,1760 375,1789.5 391.5,1760" fill="none" stroke="#bb3131" stroke-width="4" stroke-linecap="round"/>
<line x1="1490" y1="1304" x2="1490" y2="2012" stroke="#c23232" stroke-width="3" stroke-dasharray="12 8"/>
<path d="M1121.5 1437 L1124.5 1448.7 L1127.4 1460.5 L1130.4 1472.1 L1133.4 1483.8 L1136.3 1495.3 L1139.3 1506.8 L1142.3 1518.1 L1145.2 1529.4 L1148.2 1540.4 L1151.2 1551.3 L1154.1 1562 L1157.1 1572.3 L1160.1 1582.4 L1163 1592 L1166 1601.3 L1169 1610.1 L1171.9 1618.5 L1174.9 1626.5 L1177.9 1634 L1180.8 1641.3 L1183.8 1648.4 L1186.8 1655.3 L1189.7 1662 L1192.7 1668.7 L1195.7 1675.4 L1198.6 1682 L1201.6 1688.7 L1204.6 1695.2 L1207.5 1701.8 L1210.5 1708.2 L1213.5 1714.6 L1216.4 1721 L1219.4 1727.2 L1222.4 1733.4 L1225.4 1739.5 L1228.3 1745.5 L1231.3 1751.4 L1234.3 1757.2 L1237.2 1762.9 L1240.2 1768.4 L1243.2 1773.9 L1246.1 1779.2 L1249.1 1784.3 L1252.1 1789.3 L1255 1794.1 L1258 1798.7 L1261 1803.1 L1263.9 1807.2 L1266.9 1811.2 L1269.9 1815 L1272.8 1818.5 L1275.8 1821.9 L1278.8 1825.1 L1281.7 1828.1 L1284.7 1831 L1287.7 1833.7 L1290.6 1836.3 L1293.6 1838.7 L1296.6 1841.1 L1299.5 1843.3 L1302.5 1845.4 L1305.5 1847.5 L1308.4 1849.5 L1311.4 1851.4 L1314.4 1853.2 L1317.3 1855 L1320.3 1856.8 L1323.3 1858.5 L1326.2 1860.2 L1329.2 1861.8 L1332.2 1863.4 L1335.1 1865 L1338.1 1866.6 L1341.1 1868.1 L1344 1869.7 L1347 1871.2 L1350 1872.8 L1352.9 1874.3 L1355.9 1875.9 L1358.9 1877.5 L1361.8 1879.1 L1364.8 1880.7 L1367.8 1882.3 L1370.7 1883.9 L1373.7 1885.6 L1376.7 1887.3 L1379.6 1889 L1382.6 1890.7 L1385.6 1892.4 L1388.5 1894.1 L1391.5 1895.8 L1394.5 1897.5 L1397.4 1899.3 L1400.4 1901 L1403.4 1902.8 L1406.3 1904.5 L1409.3 1906.3 L1412.3 1908 L1415.2 1909.8" fill="none" stroke="#111" stroke-width="4.6"/>
<path d="M1490.3 1996.9 L1492.5 1984.4 L1494.6 1972 L1496.8 1959.8 L1498.9 1947.7 L1501.1 1935.8 L1503.2 1924 L1505.4 1912.3 L1507.5 1900.8 L1509.7 1889.5 L1511.8 1878.4 L1514 1867.4 L1516.1 1856.6 L1518.3 1845.9 L1520.4 1835.5 L1522.6 1825.2 L1524.7 1815.1 L1526.9 1805.2 L1529.1 1795.5 L1531.2 1786.1 L1533.4 1776.8 L1535.5 1767.6 L1537.7 1758.4 L1539.8 1749.4 L1542 1740.4 L1544.1 1731.5 L1546.3 1722.8 L1548.4 1714.1 L1550.6 1705.6 L1552.7 1697.3 L1554.9 1689.1 L1557 1681.1 L1559.2 1673.3 L1561.3 1665.7 L1563.5 1658.3 L1565.7 1651.1 L1567.8 1644.2 L1570 1637.6 L1572.1 1631.2 L1574.3 1625.1 L1576.4 1619.3 L1578.6 1613.7 L1580.7 1608.2 L1582.9 1602.9 L1585 1597.7 L1587.2 1592.6 L1589.3 1587.7 L1591.5 1582.9 L1593.6 1578.2 L1595.8 1573.7 L1597.9 1569.2 L1600.1 1564.9 L1602.3 1560.7 L1604.4 1556.5 L1606.6 1552.5 L1608.7 1548.6 L1610.9 1544.8 L1613 1541 L1615.2 1537.3 L1617.3 1533.8 L1619.5 1530.2 L1621.6 1526.7 L1623.8 1523.1 L1625.9 1519.4 L1628.1 1515.8 L1630.2 1512.2 L1632.4 1508.7 L1634.5 1505.2 L1636.7 1501.7 L1638.9 1498.4 L1641 1495.2 L1643.2 1492.2 L1645.3 1489.3 L1647.5 1486.6 L1649.6 1484.1 L1651.8 1481.8 L1653.9 1479.8 L1656.1 1478 L1658.2 1476.5 L1660.4 1475.3 L1662.5 1474.4 L1664.7 1473.5 L1666.8 1472.6 L1669 1471.8 L1671.1 1470.9 L1673.3 1470.1 L1675.5 1469.3 L1677.6 1468.5 L1679.8 1467.8 L1681.9 1467 L1684.1 1466.3 L1686.2 1465.6 L1688.4 1464.9 L1690.5 1464.3 L1692.7 1463.6 L1694.8 1463 L1697 1462.4 L1699.1 1461.8 L1701.3 1461.3 L1703.4 1460.7 L1705.6 1460.2 L1707.7 1459.8 L1709.9 1459.3 L1712.1 1458.9 L1714.2 1458.5 L1716.4 1458.1 L1718.5 1457.7 L1720.7 1457.4 L1722.8 1457.1 L1725 1456.8 L1727.1 1456.5 L1729.3 1456.3 L1731.4 1456.1 L1733.6 1455.9 L1735.7 1455.8 L1737.9 1455.6 L1740 1455.5 L1742.2 1455.5 L1744.3 1455.4 L1746.5 1455.4" fill="none" stroke="#111" stroke-width="4.6"/>
<circle cx="1121.5" cy="1436.4" r="11.5" fill="#262626" stroke="#111" stroke-width="2.2"/>
<circle cx="1145" cy="1527.7" r="11.5" fill="#262626" stroke="#111" stroke-width="2.2"/>
<circle cx="1168.5" cy="1613.8" r="11.5" fill="#262626" stroke="#111" stroke-width="2.2"/>
<circle cx="1192" cy="1660.8" r="11.5" fill="#262626" stroke="#111" stroke-width="2.2"/>
<circle cx="1215.5" cy="1722.3" r="11.5" fill="#262626" stroke="#111" stroke-width="2.2"/>
<circle cx="1239" cy="1770.4" r="11.5" fill="#262626" stroke="#111" stroke-width="2.2"/>
<circle cx="1262.5" cy="1820.5" r="11.5" fill="#262626" stroke="#111" stroke-width="2.2"/>
<circle cx="1309.5" cy="1851.7" r="11.5" fill="#262626" stroke="#111" stroke-width="2.2"/>
<circle cx="1356.5" cy="1875.4" r="11.5" fill="#262626" stroke="#111" stroke-width="2.2"/>
<circle cx="1490.3" cy="1996.9" r="11.5" fill="#262626" stroke="#111" stroke-width="2.2"/>
<circle cx="1533" cy="1778.3" r="11.5" fill="#262626" stroke="#111" stroke-width="2.2"/>
<circle cx="1575.7" cy="1621.2" r="11.5" fill="#262626" stroke="#111" stroke-width="2.2"/>
<circle cx="1618.4" cy="1532" r="11.5" fill="#262626" stroke="#111" stroke-width="2.2"/>
<circle cx="1661.1" cy="1475" r="11.5" fill="#262626" stroke="#111" stroke-width="2.2"/>
<circle cx="1746.5" cy="1455.4" r="11.5" fill="#262626" stroke="#111" stroke-width="2.2"/>
<path d="M1098.3 1279.9 V2050.6 H1427 M1450 2050.6 H1789 V1279.9 H1450 M1427 1279.9 H1098.3" fill="none" stroke="#111" stroke-width="4.4"/>
<path d="M1427.5 1260.4 c-4.5 4 -4 12 -1.5 18.5 c2.5 6.5 7 12 2 21" fill="none" stroke="#111" stroke-width="4.2" stroke-linecap="round"/>
<path d="M1427.5 2031.1 c-4.5 4 -4 12 -1.5 18.5 c2.5 6.5 7 12 2 21" fill="none" stroke="#111" stroke-width="4.2" stroke-linecap="round"/>
<path d="M1447.5 1260.4 c-4.5 4 -4 12 -1.5 18.5 c2.5 6.5 7 12 2 21" fill="none" stroke="#111" stroke-width="4.2" stroke-linecap="round"/>
<path d="M1447.5 2031.1 c-4.5 4 -4 12 -1.5 18.5 c2.5 6.5 7 12 2 21" fill="none" stroke="#111" stroke-width="4.2" stroke-linecap="round"/>
<line x1="1085.8" y1="1279.9" x2="1098.3" y2="1279.9" stroke="#111" stroke-width="4"/>
<text x="1011.5" y="1292.2" class="bs" font-size="33.5">0.30</text>
<line x1="1085.8" y1="1408.3" x2="1098.3" y2="1408.3" stroke="#111" stroke-width="4"/>
<text x="1011.3" y="1421" class="bs" font-size="33.5">0.25</text>
<line x1="1085.8" y1="1536.8" x2="1098.3" y2="1536.8" stroke="#111" stroke-width="4"/>
<text x="1011.5" y="1551" class="bs" font-size="33.5">0.20</text>
<line x1="1085.8" y1="1665.2" x2="1098.3" y2="1665.2" stroke="#111" stroke-width="4"/>
<text x="1011.3" y="1679.5" class="bs" font-size="33.5">0.15</text>
<line x1="1085.8" y1="1793.7" x2="1098.3" y2="1793.7" stroke="#111" stroke-width="4"/>
<text x="1011.5" y="1806.5" class="bs" font-size="33.5">0.10</text>
<line x1="1085.8" y1="1922.1" x2="1098.3" y2="1922.1" stroke="#111" stroke-width="4"/>
<text x="1011.3" y="1935.5" class="bs" font-size="33.5">0.05</text>
<line x1="1085.8" y1="2050.6" x2="1098.3" y2="2050.6" stroke="#111" stroke-width="4"/>
<text x="1011.5" y="2064" class="bs" font-size="33.5">0.00</text>
<line x1="1121.5" y1="2050.6" x2="1121.5" y2="2061.5" stroke="#111" stroke-width="4"/>
<text x="1113.5" y="2107" class="bs" font-size="33">0</text>
<line x1="1215.5" y1="2050.6" x2="1215.5" y2="2061.5" stroke="#111" stroke-width="4"/>
<text x="1197.7" y="2107" class="bs" font-size="33">20</text>
<line x1="1309.5" y1="2050.6" x2="1309.5" y2="2061.5" stroke="#111" stroke-width="4"/>
<text x="1293.1" y="2107" class="bs" font-size="33">40</text>
<line x1="1403.5" y1="2050.6" x2="1403.5" y2="2061.5" stroke="#111" stroke-width="4"/>
<text x="1386.5" y="2107" class="bs" font-size="33">60</text>
<line x1="1490.3" y1="2050.6" x2="1490.3" y2="2061.5" stroke="#111" stroke-width="4"/>
<text x="1454.5" y="2107" class="bs" font-size="33" textLength="64.6" lengthAdjust="spacingAndGlyphs">1440</text>
<line x1="1575.7" y1="2050.6" x2="1575.7" y2="2061.5" stroke="#111" stroke-width="4"/>
<text x="1541.6" y="2107" class="bs" font-size="33" textLength="64.6" lengthAdjust="spacingAndGlyphs">1460</text>
<line x1="1661.1" y1="2050.6" x2="1661.1" y2="2061.5" stroke="#111" stroke-width="4"/>
<text x="1626.1" y="2107" class="bs" font-size="33" textLength="64.6" lengthAdjust="spacingAndGlyphs">1480</text>
<line x1="1746.5" y1="2050.6" x2="1746.5" y2="2061.5" stroke="#111" stroke-width="4"/>
<text x="1710.5" y="2107" class="bs" font-size="33" textLength="64.6" lengthAdjust="spacingAndGlyphs">1500</text>
<text x="1358.5" y="2161.3" class="rs" font-size="45.5" textLength="200.7" lengthAdjust="spacingAndGlyphs">Time (min)</text>
<text transform="translate(966.6,1640.2) rotate(-90)" text-anchor="middle" class="rs" font-size="43.5">Reflectance at 700 nm</text>
<text x="950.9" y="1324.8" class="bs" font-size="79" textLength="49.6" lengthAdjust="spacingAndGlyphs">d</text>
<text x="1152.5" y="1340" textLength="284" lengthAdjust="spacingAndGlyphs" class="bs" font-size="26" style="fill:#c23232">1 bar H<tspan font-size="17" dy="5">2</tspan><tspan dy="-5"> + 3 kPa H</tspan><tspan font-size="17" dy="5">2</tspan><tspan dy="-5">O</tspan></text>
<text x="1243" y="1375" class="bs" font-size="27" textLength="101.8" lengthAdjust="spacingAndGlyphs" style="fill:#c23232">(453 K)</text>
<text x="1564.5" y="1340.5" class="bs" font-size="26" textLength="170.1" lengthAdjust="spacingAndGlyphs" style="fill:#c23232">1 bar dry air</text>
<text x="1599.3" y="1377.8" class="bs" font-size="27" textLength="102.9" lengthAdjust="spacingAndGlyphs" style="fill:#c23232">(298 K)</text>
<g stroke="#c23232" stroke-width="3.6" fill="none">
<path d="M1106 1366 H1227 M1360 1366 H1482 M1501.5 1366 H1584 M1716 1366 H1783"/>
<polyline points="1126.3,1353 1105.3,1366 1126.3,1379"/>
<polyline points="1461.6,1353 1482.6,1366 1461.6,1379"/>
<polyline points="1522,1353 1501,1366 1522,1379"/>
<polyline points="1762.4,1353 1783.4,1366 1762.4,1379"/>
</g>
<text x="1143" y="1455.5" class="rs" font-size="38">WO<tspan font-size="25" dy="12">3</tspan></text>
<text x="1700" y="1512" class="rs" font-size="38">WO<tspan font-size="25" dy="12">3</tspan></text>
<text x="1520.4" y="2010.6" class="rs" font-size="38">H<tspan font-size="25" dy="12" font-style="italic">x</tspan><tspan dy="-12">WO</tspan><tspan font-size="25" dy="12">3</tspan></text>
</svg>
</body></html>
